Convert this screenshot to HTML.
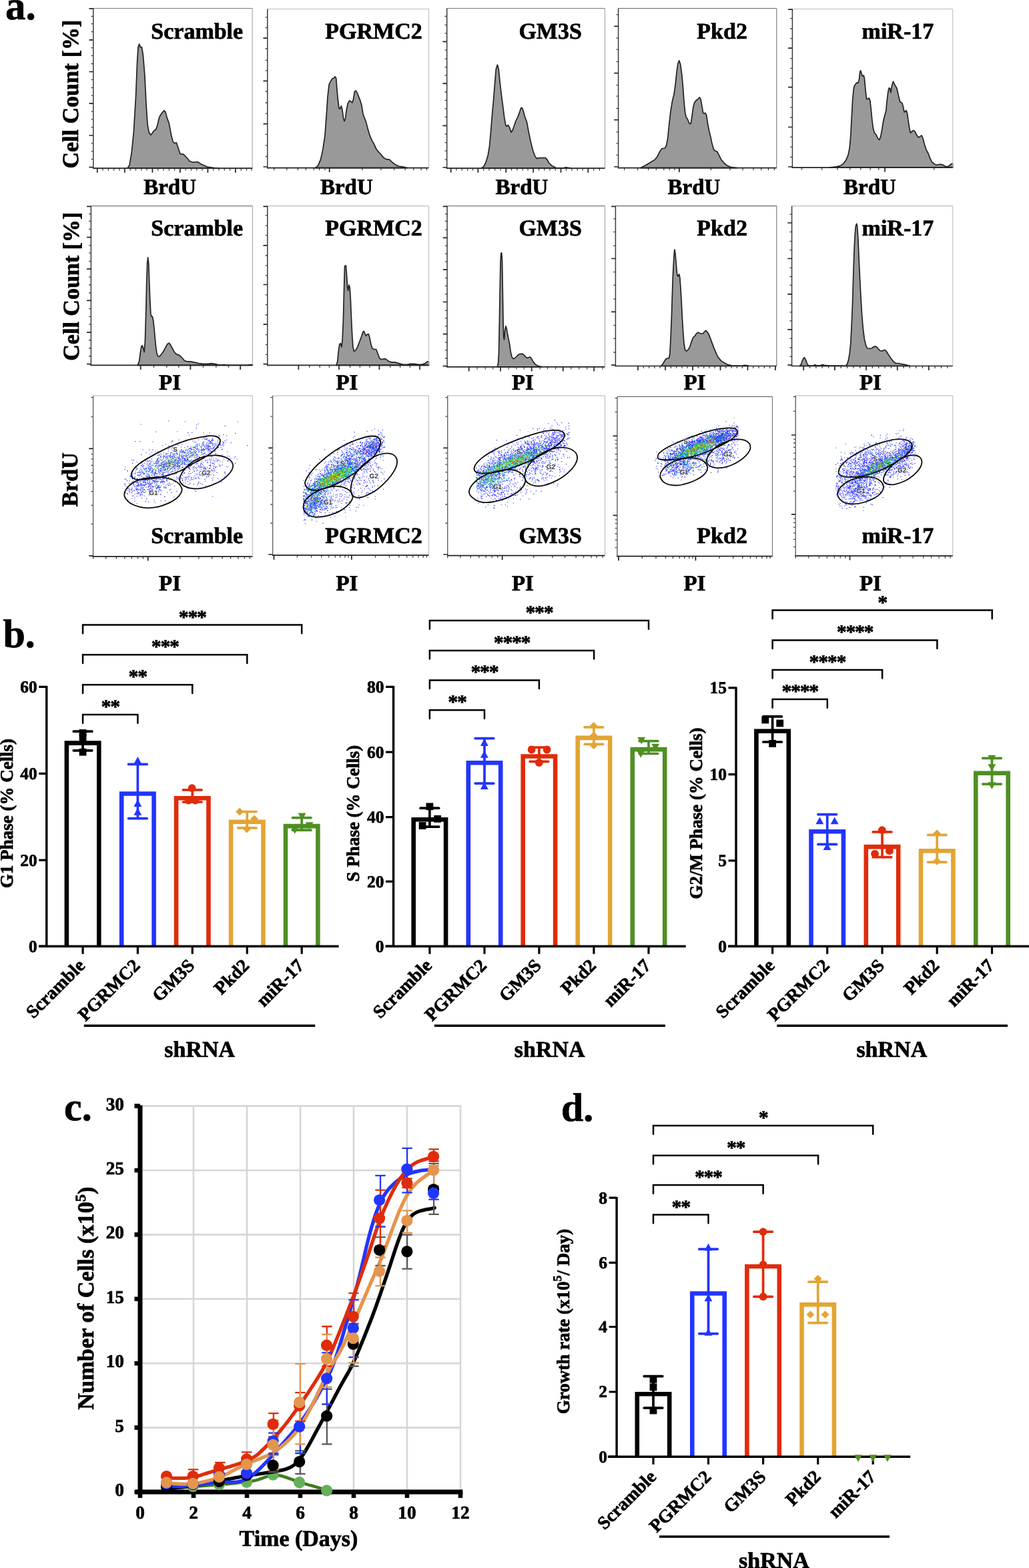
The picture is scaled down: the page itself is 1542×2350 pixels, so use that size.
<!DOCTYPE html>
<html lang="en"><head><meta charset="utf-8"><title>Figure</title>
<style>html,body{margin:0;padding:0;background:#fff}svg{display:block}</style>
</head><body>
<svg width="1542" height="2350" viewBox="0 0 1542 2350">
<rect width="1542" height="2350" fill="#fff"/>
<g font-family="'Liberation Serif','Times New Roman',serif" font-weight="bold" stroke="#000" stroke-width="0" text-rendering="geometricPrecision">
<path d="M191 252.2L194.1 247.2L197.3 228.3L200.4 197.1L203.5 145.3L205.6 93.4L207 70.6L208.7 66L210.3 70.6L212.4 70.6L214.5 83L217 114.1L219 155.6L221.1 186.8L223.2 198.2L225.9 202.3L228.4 199.2L230.5 196.1L233.6 194L235.6 188.8L238.8 175.4L241.9 170.2L246 165.6L248.1 168.1L250.2 176.4L253.3 184.7L256.4 201.3L258.9 211.7L261.6 214.8L264.3 213.7L266.8 221L269.9 230.4L275.1 231.4L279.2 235.5L284.4 241.8L289.6 243.3L295.8 242.5L302 246.2L310.4 250L320.7 251.6L328 252.2L328 252.2L191 252.2Z" fill="#999" stroke="#222" stroke-width="1.7" stroke-linejoin="round"/>
<path d="M139.8 12.5H378.2" fill="none" stroke="#7a7a7a" stroke-width="1.2"/>
<path d="M378.2 12.5V252.2" fill="none" stroke="#aaaaaa" stroke-width="1.2"/>
<path d="M139.8 24.5h-3.2M139.8 35.7h-3.2M139.8 47.7h-3.2M139.8 71.6h-3.2M139.8 83.4h-3.2M139.8 95.5h-3.2M139.8 119.3h-3.2M139.8 131.4h-3.2M139.8 143.2h-3.2M139.8 167.1h-3.2M139.8 178.9h-3.2M139.8 190.9h-3.2M139.8 214.8h-3.2M139.8 226.8h-3.2M139.8 238.7h-3.2M154.1 252.2v3.6M162.4 252.2v3.6M170.7 252.2v3.6M179 252.2v3.6M195.2 252.2v3.6M203.5 252.2v3.6M211.8 252.2v3.6M220.1 252.2v3.6M236.7 252.2v3.6M245 252.2v3.6M253.3 252.2v3.6M261.6 252.2v3.6M278.2 252.2v3.6M286.5 252.2v3.6M294.8 252.2v3.6M303.1 252.2v3.6M319.7 252.2v3.6M328 252.2v3.6M336.3 252.2v3.6M344.6 252.2v3.6M361.2 252.2v3.6M369.5 252.2v3.6M376.8 252.2v3.6" fill="none" stroke="#444" stroke-width="1.3"/>
<path d="M139.8 12.5V253" fill="none" stroke="#3a3a3a" stroke-width="1.5"/>
<path d="M139.1 252.2H378.2M139.8 12.9h-6.3M139.8 59.8h-6.3M139.8 107.5h-6.3M139.8 155.2h-6.3M139.8 203h-6.3M139.8 250.6h-6.3M145.8 252.2v6.5M186.9 252.2v6.5M228.4 252.2v6.5M269.9 252.2v6.5M311.4 252.2v6.5M352.9 252.2v6.5" fill="none" stroke="#222" stroke-width="1.7"/>
<text x="226.3" y="57.6" font-size="34" text-anchor="start" fill="#000" stroke-width="0.7" stroke-linejoin="round">Scramble</text>
<text x="215.2" y="290.8" font-size="33" text-anchor="start" fill="#000" stroke-width="0.7" stroke-linejoin="round">BrdU</text>
<path d="M472.3 251.6L476.5 248.3L480.6 238.7L483.8 224.1L486.9 203.4L488.9 176.4L491 145.3L493.1 126.6L495.2 122.4L497.9 117.9L499.9 117.3L502 114.8L503.7 117.3L504.9 132.8L506.6 151.5L508.2 162.9L509.7 162.9L511.4 158.8L512.8 163.9L514.5 176.4L515.9 181.6L517.4 178.5L519 166L521.1 155.6L523.2 151.1L525.3 151.5L527.8 154L529.4 149.4L531.5 137L533.2 135.9L535.2 139L537.3 144.2L539.8 150.5L541.9 157.7L543.9 170.2L546 176.4L548.5 182.6L551.2 193L554.3 203.4L557.4 210.6L560.5 215.8L563.7 223.1L566.8 227.2L569.9 230.4L575.1 236.6L579.2 238.7L583.4 239.1L587.5 242.9L591.7 246.2L596.9 249L604.1 250.1L610.4 251.6L610.4 251.6L472.3 251.6Z" fill="#999" stroke="#222" stroke-width="1.7" stroke-linejoin="round"/>
<path d="M400.8 13.5H642.5" fill="none" stroke="#bdbdbd" stroke-width="1.2"/>
<path d="M642.5 13.5V251.6" fill="none" stroke="#c4c4c4" stroke-width="1.2"/>
<path d="M400.8 25.9h-3.2M400.8 41.5h-3.2M400.8 73h-3.2M400.8 90.3h-3.2M400.8 105.8h-3.2M400.8 137h-3.2M400.8 154h-3.2M400.8 170.2h-3.2M400.8 201.3h-3.2M400.8 217.9h-3.2M400.8 234.5h-3.2M410.7 251.6v3.6M429.8 251.6v3.6M446.4 251.6v3.6M458.4 251.6v3.6M470.3 251.6v3.6M478.6 251.6v3.6M486.9 251.6v3.6M542.9 251.6v3.6M570.9 251.6v3.6M590.6 251.6v3.6M607.2 251.6v3.6M619.7 251.6v3.6M631.1 251.6v3.6M639.4 251.6v3.6" fill="none" stroke="#444" stroke-width="1.3"/>
<path d="M400.8 13.5V252.4" fill="none" stroke="#3a3a3a" stroke-width="1.5"/>
<path d="M400.1 251.6H642.5M400.8 57.1h-6.3M400.8 121.4h-6.3M400.8 185.7h-6.3M400.8 250h-6.3M493.7 251.6v6.5" fill="none" stroke="#222" stroke-width="1.7"/>
<text x="487.3" y="57.6" font-size="34" text-anchor="start" fill="#000" stroke-width="0.7" stroke-linejoin="round">PGRMC2</text>
<text x="479.9" y="290.8" font-size="33" text-anchor="start" fill="#000" stroke-width="0.7" stroke-linejoin="round">BrdU</text>
<path d="M721.3 252.2L725.1 249.4L728.2 242.9L731.3 232.4L733.4 220L735.5 197.1L737.5 172.2L739.6 149.4L741.7 122.4L743.3 103.8L745.4 97.1L747.1 102.7L748.9 120.4L751 139L753.7 159.8L755.8 176.4L757.9 187.8L759.3 189.3L761.4 187.4L763.5 190.9L766 198.2L768.2 195.1L770.7 187.8L772.8 181.6L775.9 175.4L778.6 168.1L780.7 161.9L782.4 161.5L783.8 165L786.3 174.3L789.4 182.6L792.5 199.2L795.6 213.7L798.8 226.2L801.9 234.5L804.6 237.6L808.1 236.6L817.4 236.6L819.5 238.7L822.6 244L826.8 248.3L833 251.6L843.4 252.2L847.5 250.9L855.8 252.2L855.8 252.2L721.3 252.2Z" fill="#999" stroke="#222" stroke-width="1.7" stroke-linejoin="round"/>
<path d="M669.7 12.5H906.5" fill="none" stroke="#7a7a7a" stroke-width="1.2"/>
<path d="M906.5 12.5V252.2" fill="none" stroke="#aaaaaa" stroke-width="1.2"/>
<path d="M669.7 24.5h-3.2M669.7 37.4h-3.2M669.7 49.8h-3.2M669.7 75.1h-3.2M669.7 88.2h-3.2M669.7 100.6h-3.2M669.7 113.1h-3.2M669.7 138h-3.2M669.7 150.5h-3.2M669.7 162.9h-3.2M669.7 175.4h-3.2M669.7 200.9h-3.2M669.7 213.7h-3.2M669.7 226.2h-3.2M669.7 239.1h-3.2M684 252.2v3.6M692.3 252.2v3.6M700.6 252.2v3.6M708.5 252.2v3.6M724.7 252.2v3.6M733 252.2v3.6M741.7 252.2v3.6M750 252.2v3.6M766.6 252.2v3.6M774.9 252.2v3.6M783.2 252.2v3.6M791.1 252.2v3.6M807.5 252.2v3.6M815.8 252.2v3.6M824.1 252.2v3.6M832.2 252.2v3.6M848.6 252.2v3.6M856.9 252.2v3.6M865.2 252.2v3.6M873.3 252.2v3.6M889.6 252.2v3.6M898.4 252.2v3.6" fill="none" stroke="#444" stroke-width="1.3"/>
<path d="M669.7 12.5V253" fill="none" stroke="#3a3a3a" stroke-width="1.5"/>
<path d="M669 252.2H906.5M669.7 62.3h-6.3M669.7 125.1h-6.3M669.7 188.4h-6.3M669.7 251h-6.3M675.7 252.2v6.5M716.4 252.2v6.5M758.3 252.2v6.5M799.2 252.2v6.5M840.5 252.2v6.5M881.3 252.2v6.5" fill="none" stroke="#222" stroke-width="1.7"/>
<text x="777.4" y="57.6" font-size="34" text-anchor="start" fill="#000" stroke-width="0.7" stroke-linejoin="round">GM3S</text>
<text x="742.6" y="290.8" font-size="33" text-anchor="start" fill="#000" stroke-width="0.7" stroke-linejoin="round">BrdU</text>
<path d="M960.2 251.6L966.4 248.3L973.7 244L981.6 239.1L985.1 234.5L989.2 226.2L992.3 222.5L996.5 222L998.6 217.9L1000.6 207.5L1002.7 186.8L1004.8 168.1L1007.5 151.5L1010 141.1L1012.1 126.6L1014.1 107.9L1015.8 95.5L1017.7 90.9L1019.7 96.5L1021.8 112.1L1023.5 130.7L1025.1 153.6L1026.6 168.1L1028.2 175.4L1030.3 178.5L1032.4 183.7L1033.9 185.7L1035.3 184.7L1037 174.3L1038.6 161.9L1040.7 153.6L1043.2 150.5L1045.3 149L1048.4 145.9L1050 148.4L1052.1 159.8L1053.6 169.1L1055.2 170.2L1056.9 169.1L1058.8 173.3L1060.8 186.8L1062.9 197.1L1065 205.4L1067.1 215.8L1069.8 224.5L1072.2 226.2L1074.7 227.2L1077.4 232.4L1080.5 238.7L1084.7 244L1089.9 248.3L1095.1 250.5L1104.4 251.6L1104.4 251.6L960.2 251.6Z" fill="#999" stroke="#222" stroke-width="1.7" stroke-linejoin="round"/>
<path d="M926.6 12.5H1163.8" fill="none" stroke="#666666" stroke-width="1.2"/>
<path d="M1163.8 12.5V251.6" fill="none" stroke="#808080" stroke-width="1.2"/>
<path d="M926.6 21.8h-3.2M926.6 57.1h-3.2M926.6 74.1h-3.2M926.6 92.3h-3.2M926.6 127.6h-3.2M926.6 144.2h-3.2M926.6 162.5h-3.2M926.6 197.8h-3.2M926.6 214.8h-3.2M926.6 232.4h-3.2M935.7 251.6v3.6M955.6 251.6v3.6M971.6 251.6v3.6M983.4 251.6v3.6M994.8 251.6v3.6M1003.3 251.6v3.6M1011 251.6v3.6M1065.4 251.6v3.6M1094 251.6v3.6M1113.1 251.6v3.6M1128.9 251.6v3.6M1140.7 251.6v3.6M1151.5 251.6v3.6M1160.4 251.6v3.6" fill="none" stroke="#444" stroke-width="1.3"/>
<path d="M926.6 12.5V252.4" fill="none" stroke="#3a3a3a" stroke-width="1.5"/>
<path d="M925.9 251.6H1163.8M926.6 39.4h-6.3M926.6 109.6h-6.3M926.6 179.7h-6.3M926.6 250h-6.3M1017.9 251.6v6.5" fill="none" stroke="#222" stroke-width="1.7"/>
<text x="1044.3" y="57.6" font-size="34" text-anchor="start" fill="#000" stroke-width="0.7" stroke-linejoin="round">Pkd2</text>
<text x="1000.5" y="290.8" font-size="33" text-anchor="start" fill="#000" stroke-width="0.7" stroke-linejoin="round">BrdU</text>
<path d="M1243 251.2L1253.4 249.9L1259.6 248.4L1263.8 245.1L1267.9 239.7L1271 232.4L1273.1 222L1274.8 203.4L1276.2 176.4L1277.7 149.4L1279.3 132.8L1280.4 128.7L1282.4 125.6L1284.1 123.9L1286.2 124.1L1287.6 118.3L1288.7 107.9L1289.7 105.8L1290.7 108.9L1292.2 114.1L1294.3 113.1L1295.5 118.3L1297 134.9L1298.6 148.4L1300.7 148.4L1302.2 146.9L1303.8 150.5L1305.3 163.9L1306.9 180.5L1308.6 193L1310.5 199.2L1313.2 202.3L1315.6 207.5L1317.7 209.6L1319.8 204.4L1321.9 193L1323.9 180.5L1326 172.2L1327.7 166L1329.1 151.5L1330.6 139L1332.2 131.8L1333.7 132.8L1334.9 138.6L1336.4 128.7L1338.5 122L1340.1 125.6L1341.8 128.7L1343.7 131.8L1345.3 138L1346.8 145.3L1348.8 152.5L1352 154.6L1353.4 159.8L1355.1 168.1L1358.2 165.6L1359.6 170.2L1361.3 182.6L1363 193L1364.4 199.2L1367.5 196.1L1369.6 195.5L1371.7 198.2L1373.7 202.3L1376.2 205.9L1378.9 204.4L1381 203L1383.1 207.5L1385.2 215.8L1388.3 225.2L1390.8 229.3L1393.5 236.6L1396.6 243L1400.7 246.2L1403.8 247.3L1408 246.2L1412.1 246.8L1416.3 249L1419.4 249.9L1422.5 248.4L1425.2 245.8L1427.7 245.1L1427.7 251.2L1427.7 251.2L1243 251.2Z" fill="#999" stroke="#222" stroke-width="1.7" stroke-linejoin="round"/>
<path d="M1187.4 13.5H1427.7" fill="none" stroke="#bdbdbd" stroke-width="1.2"/>
<path d="M1427.7 13.5V251.2" fill="none" stroke="#c4c4c4" stroke-width="1.2"/>
<path d="M1187.4 27.6h-3.2M1187.4 43h-3.2M1187.4 57.7h-3.2M1187.4 87.6h-3.2M1187.4 102.3h-3.2M1187.4 117.3h-3.2M1187.4 145.9h-3.2M1187.4 160.8h-3.2M1187.4 176h-3.2M1187.4 205.4h-3.2M1187.4 220.4h-3.2M1187.4 235.5h-3.2M1201.5 251.2v3.6M1231.6 251.2v3.6M1255 251.2v3.6M1273.7 251.2v3.6M1289.7 251.2v3.6M1304.2 251.2v3.6M1316.7 251.2v3.6M1399.7 251.2v3.6" fill="none" stroke="#444" stroke-width="1.3"/>
<path d="M1187.4 13.5V252" fill="none" stroke="#3a3a3a" stroke-width="1.5"/>
<path d="M1186.7 251.2H1427.7M1187.4 14.1h-6.3M1187.4 72.2h-6.3M1187.4 130.7h-6.3M1187.4 190.5h-6.3M1187.4 250h-6.3M1326 251.2v6.5" fill="none" stroke="#222" stroke-width="1.7"/>
<text x="1291.6" y="57.6" font-size="34" text-anchor="start" fill="#000" stroke-width="0.7" stroke-linejoin="round">miR-17</text>
<text x="1264.1" y="290.8" font-size="33" text-anchor="start" fill="#000" stroke-width="0.7" stroke-linejoin="round">BrdU</text>
<path d="M206.2 547.4L208.7 541.3L210.3 528.7L211.8 519.3L213.2 517.9L214.9 522.4L216.1 527.6L217.4 512L218.6 472.6L219.7 424.9L220.7 393.8L221.7 385.9L222.8 395.8L223.8 424.9L224.9 451.9L225.9 470.5L226.9 474.3L228.4 474.3L229.8 480.9L231.5 497.5L233.2 516.2L234.8 528.7L236.7 533.8L238.8 534.5L241.9 530.7L245 526.6L248.1 520.4L250.8 515.8L253.3 514.1L255.4 516.6L258.5 522.4L261.6 528.2L264.7 531.1L268.8 532.4L272 535.3L276.1 540.3L280.3 541.8L285.4 541.8L291.7 543.1L297.9 544.6L304.1 545.4L312.4 545.4L316.6 544.6L322.8 545.7L329 547L336.3 546.5L341.5 547.4L370.5 547.4L374.7 546.7L378.4 546.7L378.4 547.4L378.4 547.4L206.2 547.4Z" fill="#999" stroke="#222" stroke-width="1.7" stroke-linejoin="round"/>
<path d="M136.4 308.7H378.4" fill="none" stroke="#7a7a7a" stroke-width="1.2"/>
<path d="M378.4 308.7V547.4" fill="none" stroke="#aaaaaa" stroke-width="1.2"/>
<path d="M136.4 320.7h-3.2M136.4 331.5h-3.2M136.4 343.5h-3.2M136.4 367.8h-3.2M136.4 379.2h-3.2M136.4 391.7h-3.2M136.4 415.1h-3.2M136.4 427h-3.2M136.4 439h-3.2M136.4 462.7h-3.2M136.4 474.3h-3.2M136.4 486.1h-3.2M136.4 510h-3.2M136.4 522h-3.2M136.4 534h-3.2M230.5 547.4v3.6M249.8 547.4v3.6M267.8 547.4v3.6M304.5 547.4v3.6M323.8 547.4v3.6M342.5 547.4v3.6" fill="none" stroke="#444" stroke-width="1.3"/>
<path d="M136.4 308.7V548.2" fill="none" stroke="#3a3a3a" stroke-width="1.5"/>
<path d="M135.7 547.4H378.4M136.4 309.3h-6.3M136.4 355.6h-6.3M136.4 403.1h-6.3M136.4 450.4h-6.3M136.4 498.1h-6.3M136.4 545.6h-6.3M210.7 547.4v6.5M285.4 547.4v6.5M360.2 547.4v6.5" fill="none" stroke="#222" stroke-width="1.7"/>
<text x="226.3" y="352.6" font-size="34" text-anchor="start" fill="#000" stroke-width="0.7" stroke-linejoin="round">Scramble</text>
<text x="238" y="584.3" font-size="33" text-anchor="start" fill="#000" stroke-width="0.7" stroke-linejoin="round">PI</text>
<path d="M504.1 547.4L505.8 541.3L507.2 526.6L508.7 516.2L510.3 514.7L512 519.9L513.2 507.9L514.5 476.8L515.5 435.3L516.5 398.9L518.4 397.9L519.5 412.4L520.7 431.1L521.7 435.3L522.8 427L524.2 431.1L525.3 447.7L526.5 476.8L527.8 503.7L529 520.4L530.5 526.2L532.5 525.5L535.6 520.4L538.8 512L541.5 504.8L543.9 497.5L545.4 496.5L547.1 500.6L548.5 503.3L550.2 501.3L552.2 500.6L553.9 505.8L556 516.2L558.1 522.4L560.5 523.5L563.7 523.5L565.7 528.7L568.8 537L572 538.7L575.1 537.7L578.2 538.1L582.3 541.3L586.5 542.9L591.7 542.9L597.9 544.6L604.1 546.3L610.4 546.3L614.5 545.4L620.7 545.4L627 546.3L632.1 546.3L637.3 544.6L640.4 541.8L642.5 541.8L642.5 547.4L642.5 547.4L504.1 547.4Z" fill="#999" stroke="#222" stroke-width="1.7" stroke-linejoin="round"/>
<path d="M400.8 308.7H642.5" fill="none" stroke="#bdbdbd" stroke-width="1.2"/>
<path d="M642.5 308.7V547.4" fill="none" stroke="#c4c4c4" stroke-width="1.2"/>
<path d="M400.8 322.8h-3.2M400.8 338.1h-3.2M400.8 352.7h-3.2M400.8 383h-3.2M400.8 397.9h-3.2M400.8 412.9h-3.2M400.8 441.9h-3.2M400.8 456.6h-3.2M400.8 472h-3.2M400.8 501.7h-3.2M400.8 516.6h-3.2M400.8 531.3h-3.2M463.6 547.4v3.6M479.2 547.4v3.6M493.5 547.4v3.6M524.6 547.4v3.6M539.4 547.4v3.6M553.9 547.4v3.6M584.8 547.4v3.6M599.6 547.4v3.6M614.5 547.4v3.6" fill="none" stroke="#444" stroke-width="1.3"/>
<path d="M400.8 308.7V548.2" fill="none" stroke="#3a3a3a" stroke-width="1.5"/>
<path d="M400.1 547.4H642.5M400.8 309.3h-6.3M400.8 367.8h-6.3M400.8 426.5h-6.3M400.8 486.1h-6.3M400.8 545.6h-6.3M447.4 547.4v6.5M508 547.4v6.5M568.4 547.4v6.5M629 547.4v6.5" fill="none" stroke="#222" stroke-width="1.7"/>
<text x="487.3" y="352.6" font-size="34" text-anchor="start" fill="#000" stroke-width="0.7" stroke-linejoin="round">PGRMC2</text>
<text x="503.4" y="584.3" font-size="33" text-anchor="start" fill="#000" stroke-width="0.7" stroke-linejoin="round">PI</text>
<path d="M745.4 549.9L746.7 543.4L747.5 528.7L748.3 487.1L749.2 435.3L750 393.8L750.8 379.6L751.6 378.8L752.5 389.6L753.3 435.3L754.1 487.1L754.8 505.8L755.6 508.9L756.6 495.4L757.9 488.8L759.1 492.3L760.4 499.6L762 507.9L763.7 516.2L765.1 526.6L767 534.9L769.1 537.6L771.2 537L773.9 534.5L777 531.3L780.1 530.3L783.2 530.3L785.3 532.4L787.8 534.9L789.4 536.3L791.9 535.9L794 534.9L796.1 537L798.8 541.7L801.9 545.6L806 548.4L812.2 549.9L812.2 549.9L745.4 549.9Z" fill="#999" stroke="#222" stroke-width="1.7" stroke-linejoin="round"/>
<path d="M670.1 308.7H906.5" fill="none" stroke="#7a7a7a" stroke-width="1.2"/>
<path d="M906.5 308.7V549.9" fill="none" stroke="#aaaaaa" stroke-width="1.2"/>
<path d="M670.1 320.7h-3.2M670.1 331.5h-3.2M670.1 344.4h-3.2M670.1 368.4h-3.2M670.1 380.3h-3.2M670.1 392.1h-3.2M670.1 416.6h-3.2M670.1 428.4h-3.2M670.1 440.9h-3.2M670.1 465.4h-3.2M670.1 476.8h-3.2M670.1 488.8h-3.2M670.1 513.1h-3.2M670.1 524.9h-3.2M670.1 537h-3.2M715.1 549.9v3.6M727.2 549.9v3.6M738.6 549.9v3.6M762.4 549.9v3.6M773.9 549.9v3.6M785.3 549.9v3.6M809.1 549.9v3.6M820.5 549.9v3.6M832.6 549.9v3.6M855.8 549.9v3.6M867.7 549.9v3.6M879.7 549.9v3.6M903.1 549.9v3.6" fill="none" stroke="#444" stroke-width="1.3"/>
<path d="M670.1 308.7V550.7" fill="none" stroke="#3a3a3a" stroke-width="1.5"/>
<path d="M669.4 549.9H906.5M670.1 309.3h-6.3M670.1 356.4h-6.3M670.1 404.1h-6.3M670.1 452.5h-6.3M670.1 500.6h-6.3M670.1 548.7h-6.3M702.7 549.9v6.5M750 549.9v6.5M796.7 549.9v6.5M843.8 549.9v6.5M890.1 549.9v6.5" fill="none" stroke="#222" stroke-width="1.7"/>
<text x="777.4" y="352.6" font-size="34" text-anchor="start" fill="#000" stroke-width="0.7" stroke-linejoin="round">GM3S</text>
<text x="766.9" y="584.3" font-size="33" text-anchor="start" fill="#000" stroke-width="0.7" stroke-linejoin="round">PI</text>
<path d="M990.9 548.4L994.4 543.5L997.5 538.5L1000 537L1002.3 537L1003.8 530.7L1005 507.9L1006.3 476.8L1007.3 445.6L1008.3 414.5L1009.4 393.8L1010.4 378.2L1011 374L1012.1 381.3L1013.3 395.8L1014.6 410.4L1015.8 414.1L1017.7 411L1018.9 416.6L1019.9 431.1L1021.2 451.9L1022.4 476.8L1023.7 497.5L1024.9 514.1L1026.6 524.5L1028.7 526.2L1031.2 524.1L1033.9 519.3L1035.9 513.1L1038.6 505.8L1041.1 503.7L1043.6 500L1046.3 498.1L1048.4 499.2L1050.5 500L1053.6 500L1055.6 497.1L1057.7 495.4L1059.4 497.1L1061.9 500.6L1064.4 506.9L1067.1 514.1L1070.2 522.4L1073.3 529.7L1076.4 535.9L1080.5 540.6L1085.7 543.9L1090.9 546.7L1096.1 547.8L1111.7 548.4L1115.8 547.3L1120 547.8L1122 548.4L1122 548.5L990.9 548.5Z" fill="#999" stroke="#222" stroke-width="1.7" stroke-linejoin="round"/>
<path d="M922.4 308.7H1163.8" fill="none" stroke="#666666" stroke-width="1.2"/>
<path d="M1163.8 308.7V548.5" fill="none" stroke="#808080" stroke-width="1.2"/>
<path d="M922.4 327.8h-3.2M922.4 347.7h-3.2M922.4 368.4h-3.2M922.4 407.7h-3.2M922.4 427.4h-3.2M922.4 448.1h-3.2M922.4 487.6h-3.2M922.4 507.3h-3.2M922.4 528h-3.2M964.3 548.5v3.6M972.6 548.5v3.6M980.9 548.5v3.6M989.2 548.5v3.6M1005.4 548.5v3.6M1013.7 548.5v3.6M1022 548.5v3.6M1029.9 548.5v3.6M1046.3 548.5v3.6M1054.6 548.5v3.6M1062.9 548.5v3.6M1071.2 548.5v3.6M1087.8 548.5v3.6M1096.1 548.5v3.6M1104.4 548.5v3.6M1112.3 548.5v3.6M1128.7 548.5v3.6M1137 548.5v3.6M1145.3 548.5v3.6M1153.6 548.5v3.6" fill="none" stroke="#444" stroke-width="1.3"/>
<path d="M922.4 308.7V549.3" fill="none" stroke="#3a3a3a" stroke-width="1.5"/>
<path d="M921.7 548.5H1163.8M922.4 309.3h-6.3M922.4 387.5h-6.3M922.4 467.4h-6.3M922.4 547.2h-6.3M956 548.5v6.5M997.1 548.5v6.5M1038 548.5v6.5M1079.5 548.5v6.5M1120.4 548.5v6.5M1161.9 548.5v6.5" fill="none" stroke="#222" stroke-width="1.7"/>
<text x="1044.3" y="352.6" font-size="34" text-anchor="start" fill="#000" stroke-width="0.7" stroke-linejoin="round">Pkd2</text>
<text x="1024.4" y="584.3" font-size="33" text-anchor="start" fill="#000" stroke-width="0.7" stroke-linejoin="round">PI</text>
<path d="M1198.4 548.4L1200.5 546.1L1202.5 540.2L1204.2 536.5L1205.7 535.9L1207.3 539.1L1209 543.9L1210.8 547.3L1214 548L1219.1 547.8L1221.2 546.7L1223.3 547.8L1229.5 547.8L1232.6 546.5L1235.1 547.3L1243 548L1261.7 548L1264.8 548.4L1267.5 548L1269.6 545.6L1271.6 539.1L1273.3 528.7L1274.8 514.1L1276.2 487.1L1277.5 456L1278.7 414.5L1279.9 377.2L1281.2 352.3L1282.4 338.8L1283.7 335.2L1284.7 339.8L1285.8 356.4L1287 383.4L1288.2 410.4L1289.7 439.4L1291.4 468.5L1293.2 491.3L1295.3 507.9L1297.4 517.2L1299.5 522L1303.2 522.4L1306.3 522L1309 519.9L1311.5 519.1L1313.6 519.7L1316.1 522.8L1318.8 525.5L1321.9 526.2L1323.9 524.9L1326 524.5L1328.1 526.2L1330.6 530.3L1334.3 535.9L1338.5 541.3L1342.2 544.5L1346.8 544.5L1350.9 545.6L1357.1 546.7L1363.4 548.4L1363.4 548.5L1198.4 548.5Z" fill="#999" stroke="#222" stroke-width="1.7" stroke-linejoin="round"/>
<path d="M1186.6 308.7H1427.7" fill="none" stroke="#bdbdbd" stroke-width="1.2"/>
<path d="M1427.7 308.7V548.5" fill="none" stroke="#c4c4c4" stroke-width="1.2"/>
<path d="M1186.6 321.1h-3.2M1186.6 347.7h-3.2M1186.6 361.6h-3.2M1186.6 374.7h-3.2M1186.6 401.4h-3.2M1186.6 414.5h-3.2M1186.6 427.4h-3.2M1186.6 454.6h-3.2M1186.6 467.8h-3.2M1186.6 480.9h-3.2M1186.6 507.3h-3.2M1186.6 521h-3.2M1186.6 534.3h-3.2M1213.5 548.5v3.6M1222.9 548.5v3.6M1232.2 548.5v3.6M1241.6 548.5v3.6M1260.2 548.5v3.6M1269.6 548.5v3.6M1278.9 548.5v3.6M1288.7 548.5v3.6M1307.3 548.5v3.6M1316.7 548.5v3.6M1326 548.5v3.6M1335.4 548.5v3.6M1354 548.5v3.6M1363.4 548.5v3.6M1372.7 548.5v3.6M1382.5 548.5v3.6M1401.1 548.5v3.6M1410.5 548.5v3.6M1419.8 548.5v3.6" fill="none" stroke="#444" stroke-width="1.3"/>
<path d="M1186.6 308.7V549.3" fill="none" stroke="#3a3a3a" stroke-width="1.5"/>
<path d="M1185.9 548.5H1427.7M1186.6 334h-6.3M1186.6 387.5h-6.3M1186.6 440.9h-6.3M1186.6 493.8h-6.3M1186.6 547.2h-6.3M1204.2 548.5v6.5M1250.9 548.5v6.5M1298 548.5v6.5M1344.7 548.5v6.5M1391.8 548.5v6.5" fill="none" stroke="#222" stroke-width="1.7"/>
<text x="1291.6" y="352.6" font-size="34" text-anchor="start" fill="#000" stroke-width="0.7" stroke-linejoin="round">miR-17</text>
<text x="1287.9" y="584.3" font-size="33" text-anchor="start" fill="#000" stroke-width="0.7" stroke-linejoin="round">PI</text>
<text x="117" y="252.6" font-size="34" text-anchor="start" fill="#000" stroke-width="0.7" stroke-linejoin="round" transform="rotate(-90 117 252.6)">Cell Count [%]</text>
<text x="117.7" y="540.7" font-size="34" text-anchor="start" fill="#000" stroke-width="0.7" stroke-linejoin="round" transform="rotate(-90 117.7 540.7)">Cell Count [%]</text>
<path transform="scale(.4)" d="M630 1577h3m59 3h3m194 0h3m-150 8h3m-219 2h3m206 2h3m104 4h3m-111 8h3m-74 13h3m-82 1h3m116 3h3m12 0h3m40 1h3m20 0h3m93 2h3m-48 5h3m-130 1h3m63 0h3m23 0h3m-22 2h3m34 0h3m26 0h3m-44 1h3m13 1h3m-60 6h3m2 0h3m-11 1h3m50 0h3m-42 3h3m16 0h3m20 1h3m-56 1h3m2 0h3m0 0h3m18 0h3m-24 1h3m-107 1h3m22 0h3m46 0h3m102 0h3m-68 1h3m5 0h3m3 0h3m15 1h3m-37 1h3m8 0h3m46 0h3m-198 1h3m48 0h3m22 0h3m52 0h3m15 0h3m-112 1h3m-184 1h3m15 0h3m118 0h3m137 0h3m1 0h3m-220 1h3m66 0h3m144 0h3m41 0h3m-102 1h3m27 0h3m20 0h3m48 0h3m-112 1h3m60 0h3m21 0h3m27 0h3m-88 1h3m27 0h3m43 1h3m26 0h3m-95 1h3m-1 0h3m18 0h3m-40 1h3m18 0h3m6 0h3m0 0h3m13 0h3m-27 1h3m38 0h3m-168 1h3m83 0h3m12 0h3m22 0h3m13 0h3m10 0h3m6 0h3m8 0h3m1 0h3m-104 1h3m55 0h3m26 0h3m-208 1h3m58 0h3m77 0h3m8 1h3m33 0h3m-74 1h3m16 0h3m3 0h3m14 0h3m17 0h3m16 0h3m3 0h3m7 0h3m-171 1h3m94 0h3m9 0h3m3 0h3m-38 1h3m46 0h3m19 0h3m7 0h3m96 0h3m-321 1h3m128 0h3m16 0h3m8 0h3m33 0h3m2 0h3m-1 0h3m-183 1h3m98 0h3m39 0h3m-2 0h3m4 0h3m51 0h3m-72 1h3m5 0h3m2 0h3m-82 1h3m10 0h3m20 0h3m11 0h3m-2 0h3m26 0h3m0 0h3m-85 1h3m26 0h3m31 0h3m18 0h3m-2 0h3m12 0h3m-128 1h3m72 0h3m18 0h3m4 0h3m-138 1h3m77 0h3m-1 0h3m23 0h3m22 0h3m34 0h3m-1 0h3m-161 1h3m28 0h3m32 0h3m-1 0h3m48 0h3m17 0h3m-2 0h3m25 0h3m-106 1h3m3 0h3m5 0h3m30 0h3m3 0h3m20 0h3m7 0h3m-101 1h3m-1 0h3m52 0h3m5 0h3m18 0h3m-160 1h3m65 0h3m3 0h3m15 0h3m51 0h3m2 0h3m16 0h3m-76 1h3m19 0h3m14 0h3m2 0h3m12 0h3m-170 1h3m72 0h3m2 0h3m40 0h3m16 0h3m-2 0h3m11 0h3m-47 1h3m36 0h3m8 0h3m7 0h3m26 0h3m-157 1h3m15 0h3m16 0h3m0 0h3m5 0h3m7 0h3m5 0h3m7 0h3m2 0h3m0 0h3m1 0h3m11 0h3m47 0h3m-299 1h3m186 0h3m12 0h3m36 0h3m-222 1h3m9 0h3m81 0h3m46 0h3m49 0h3m6 0h3m-123 1h3m32 0h3m19 0h3m46 0h3m5 0h3m4 0h3m13 0h3m2 0h3m-137 1h3m31 0h3m4 0h3m-1 0h3m11 1h3m18 0h3m9 0h3m-2 0h3m8 0h3m47 0h3m-218 1h3m38 0h3m42 0h3m83 0h3m13 0h3m2 0h3m-2 0h3m2 0h3m-118 1h3m4 0h3m1 0h3m24 0h3m76 0h3m-136 1h3m27 0h3m23 0h3m9 0h3m-1 0h3m5 0h3m8 0h3m54 0h3m-224 1h3m95 0h3m27 0h3m6 0h3m32 0h3m39 0h3m51 0h3m-262 1h3m80 0h3m14 0h3m8 0h3m85 0h3m-247 1h3m18 0h3m42 0h3m45 0h3m16 0h3m22 0h3m36 0h3m36 0h3m-142 1h3m37 0h3m-2 0h3m1 0h3m0 0h3m23 0h3m2 0h3m5 0h3m-1 0h3m17 0h3m11 0h3m-132 1h3m24 0h3m65 0h3m-96 1h3m30 0h3m18 0h3m19 0h3m-90 1h3m21 0h3m3 0h3m40 0h3m8 0h3m49 0h3m40 0h3m-188 1h3m35 0h3m59 0h3m-124 1h3m16 0h3m1 0h3m21 0h3m83 0h3m23 0h3m25 0h3m-231 1h3m83 0h3m13 0h3m40 0h3m17 0h3m27 0h3m1 0h3m-167 1h3m39 0h3m23 0h3m4 0h3m7 0h3m12 0h3m23 0h3m12 0h3m16 0h3m11 0h3m33 0h3m23 0h3m-306 1h3m123 0h3m14 0h3m22 0h3m6 0h3m31 0h3m-104 1h3m30 0h3m46 0h3m-2 0h3m5 0h3m42 0h3m-188 1h3m2 0h3m39 0h3m48 0h3m25 0h3m16 0h3m-117 1h3m8 0h3m14 0h3m28 0h3m41 0h3m63 0h3m-192 1h3m8 0h3m-1 0h3m56 0h3m-2 0h3m2 0h3m8 0h3m1 0h3m2 0h3m-1 0h3m7 0h3m-2 0h3m2 0h3m0 0h3m40 0h3m57 0h3m-200 1h3m5 0h3m8 0h3m3 0h3m25 0h3m59 0h3m20 0h3m86 0h3m-239 1h3m23 0h3m8 0h3m30 0h3m6 0h3m-2 0h3m12 0h3m145 0h3m-261 1h3m12 0h3m3 0h3m8 0h3m1 0h3m41 0h3m108 0h3m84 0h3m-272 1h3m-2 0h3m23 0h3m4 0h3m16 0h3m4 0h3m8 0h3m-2 0h3m43 0h3m5 0h3m6 0h3m45 0h3m-186 1h3m25 0h3m2 0h3m60 0h3m8 0h3m26 0h3m-147 1h3m32 0h3m11 0h3m-2 0h3m-1 0h3m9 0h3m10 0h3m3 0h3m9 0h3m2 0h3m4 0h3m36 0h3m-132 1h3m2 0h3m1 0h3m5 0h3m19 0h3m6 0h3m66 0h3m-2 0h3m24 0h3m-174 1h3m23 0h3m24 0h3m35 0h3m43 0h3m13 0h3m13 0h3m-155 1h3m54 0h3m-2 0h3m-1 0h3m-1 0h3m15 0h3m37 0h3m29 0h3m111 0h3m-234 1h3m36 0h3m2 0h3m0 0h3m6 0h3m38 0h3m46 0h3m69 0h3m-299 1h3m18 0h3m-1 0h3m32 0h3m20 0h3m17 0h3m11 0h3m3 0h3m9 0h3m41 0h3m61 0h3m-266 1h3m126 0h3m-1 0h3m11 0h3m6 0h3m97 0h3m35 0h3m46 0h3m-250 1h3m19 0h3m28 0h3m7 0h3m78 0h3m-199 1h3m9 0h3m7 0h3m8 0h3m18 0h3m27 0h3m4 0h3m12 0h3m-203 1h3m107 0h3m24 0h3m22 0h3m43 0h3m35 0h3m-1 0h3m71 0h3m-319 1h3m88 0h3m10 0h3m45 0h3m0 0h3m16 0h3m14 0h3m0 0h3m1 0h3m-2 0h3m-2 0h3m24 0h3m47 0h3m7 0h3m-186 1h3m30 0h3m15 0h3m-1 0h3m-2 0h3m11 0h3m8 0h3m20 0h3m8 0h3m2 0h3m46 0h3m18 0h3m18 0h3m1 0h3m-267 1h3m6 0h3m23 0h3m75 0h3m-1 0h3m-2 0h3m15 0h3m11 0h3m9 0h3m22 0h3m59 0h3m51 0h3m-311 1h3m10 0h3m33 0h3m20 0h3m9 0h3m2 0h3m4 0h3m33 0h3m14 0h3m9 0h3m59 0h3m34 0h3m14 0h3m-254 1h3m13 0h3m5 0h3m16 0h3m11 0h3m11 0h3m9 0h3m27 0h3m3 0h3m31 0h3m28 0h3m54 0h3m36 0h3m-289 1h3m15 0h3m6 0h3m36 0h3m7 0h3m10 0h3m4 0h3m44 0h3m0 0h3m28 0h3m-233 1h3m14 0h3m18 0h3m1 0h3m28 0h3m3 0h3m18 0h3m6 0h3m6 0h3m-2 0h3m31 0h3m-2 0h3m6 0h3m37 0h3m69 0h3m41 0h3m-225 1h3m35 0h3m3 0h3m26 0h3m14 0h3m2 0h3m23 0h3m-112 1h3m15 0h3m8 0h3m13 0h3m-2 0h3m10 0h3m8 0h3m82 0h3m23 0h3m-223 1h3m6 0h3m12 0h3m-1 0h3m3 0h3m16 0h3m5 0h3m1 0h3m87 0h3m22 0h3m-200 1h3m53 0h3m2 0h3m5 0h3m11 0h3m5 0h3m2 0h3m3 0h3m2 0h3m15 0h3m-2 0h3m84 0h3m9 0h3m-216 1h3m4 0h3m16 0h3m25 0h3m2 0h3m25 0h3m0 0h3m3 0h3m9 0h3m-1 0h3m-193 1h3m41 0h3m17 0h3m25 0h3m0 0h3m11 0h3m26 0h3m22 0h3m58 0h3m15 0h3m11 0h3m40 0h3m0 0h3m80 0h3m-299 1h3m31 0h3m4 0h3m1 0h3m-2 0h3m3 0h3m13 0h3m7 0h3m6 0h3m16 0h3m61 0h3m-227 1h3m15 0h3m1 0h3m22 0h3m31 0h3m0 0h3m2 0h3m13 0h3m40 0h3m1 0h3m18 0h3m23 0h3m-172 1h3m32 0h3m15 0h3m-1 0h3m6 0h3m20 0h3m14 0h3m15 0h3m6 0h3m4 0h3m4 0h3m2 0h3m23 0h3m62 0h3m-271 1h3m50 0h3m15 0h3m1 0h3m13 0h3m6 0h3m5 0h3m0 0h3m-2 0h3m8 0h3m17 0h3m15 0h3m123 0h3m-262 1h3m38 0h3m-2 0h3m2 0h3m-1 0h3m6 0h3m26 0h3m4 0h3m18 0h3m9 0h3m59 0h3m4 0h3m-205 1h3m45 0h3m5 0h3m7 0h3m-2 0h3m26 0h3m8 0h3m1 0h3m118 0h3m41 0h3m-261 1h3m15 0h3m23 0h3m15 0h3m13 0h3m47 0h3m6 0h3m2 0h3m-1 0h3m30 0h3m-226 1h3m6 0h3m28 0h3m-2 0h3m13 0h3m13 0h3m-1 0h3m27 0h3m21 0h3m11 0h3m110 0h3m2 0h3m-280 1h3m36 0h3m28 0h3m1 0h3m23 0h3m0 0h3m10 0h3m20 0h3m1 0h3m167 0h3m-296 1h3m21 0h3m36 0h3m0 0h3m23 0h3m7 0h3m0 0h3m22 0h3m-2 0h3m6 0h3m68 0h3m17 0h3m22 0h3m9 0h3m19 0h3m-287 1h3m20 0h3m41 0h3m5 0h3m5 0h3m32 0h3m8 0h3m3 0h3m37 0h3m11 0h3m17 0h3m-243 1h3m70 0h3m-2 0h3m7 0h3m14 0h3m1 0h3m-2 0h3m8 0h3m-2 0h3m14 0h3m3 0h3m0 0h3m17 0h3m78 0h3m47 0h3m7 0h3m-282 1h3m27 0h3m47 0h3m12 0h3m-1 0h3m32 0h3m27 0h3m152 0h3m-383 1h3m85 0h3m6 0h3m35 0h3m8 0h3m-1 0h3m15 0h3m7 0h3m2 0h3m8 0h3m18 0h3m11 0h3m-2 0h3m8 0h3m12 0h3m15 0h3m12 0h3m5 0h3m-139 1h3m39 0h3m11 0h3m16 0h3m47 0h3m20 0h3m26 0h3m-1 0h3m-307 1h3m1 0h3m0 0h3m75 0h3m2 0h3m14 0h3m0 0h3m38 0h3m13 0h3m7 0h3m21 0h3m1 0h3m20 0h3m12 0h3m0 0h3m13 0h3m-242 1h3m17 0h3m-2 0h3m2 0h3m52 0h3m2 0h3m28 0h3m59 0h3m13 0h3m2 0h3m31 0h3m23 0h3m-277 1h3m22 0h3m16 0h3m3 0h3m2 0h3m58 0h3m12 0h3m6 0h3m14 0h3m35 0h3m24 0h3m-2 0h3m29 0h3m-1 0h3m12 0h3m-240 1h3m69 0h3m5 0h3m3 0h3m3 0h3m32 0h3m15 0h3m103 0h3m-258 1h3m55 0h3m15 0h3m17 0h3m10 0h3m-2 0h3m7 0h3m26 0h3m14 0h3m50 0h3m34 0h3m-302 1h3m53 0h3m3 0h3m6 0h3m17 0h3m5 0h3m1 0h3m19 0h3m-2 0h3m-2 0h3m132 0h3m4 0h3m10 0h3m-273 1h3m23 0h3m4 0h3m63 0h3m3 0h3m17 0h3m6 0h3m115 0h3m36 0h3m-340 1h3m30 0h3m27 0h3m8 0h3m16 0h3m31 0h3m22 0h3m46 0h3m41 0h3m9 0h3m27 0h3m14 0h3m-265 1h3m13 0h3m31 0h3m3 0h3m27 0h3m17 0h3m19 0h3m16 0h3m20 0h3m2 0h3m51 0h3m-170 1h3m33 0h3m16 0h3m63 0h3m98 0h3m-233 1h3m15 0h3m0 0h3m13 0h3m4 0h3m8 0h3m-1 0h3m-125 1h3m51 0h3m45 0h3m14 0h3m13 0h3m159 0h3m-321 1h3m43 0h3m21 0h3m20 0h3m21 0h3m6 0h3m49 0h3m5 0h3m71 0h3m35 0h3m21 0h3m2 0h3m-329 1h3m50 0h3m-1 0h3m24 0h3m10 0h3m7 0h3m-2 0h3m8 0h3m14 0h3m31 0h3m-2 0h3m98 0h3m41 0h3m-238 1h3m13 0h3m25 0h3m106 0h3m15 0h3m48 0h3m-233 1h3m15 0h3m24 0h3m33 0h3m12 0h3m103 0h3m28 0h3m-277 1h3m44 0h3m10 0h3m-1 0h3m52 0h3m14 0h3m13 0h3m124 0h3m54 0h3m-325 1h3m3 0h3m18 0h3m33 0h3m21 0h3m28 0h3m-108 1h3m0 0h3m29 0h3m8 0h3m139 0h3m41 0h3m-253 1h3m4 0h3m43 0h3m9 0h3m13 0h3m12 0h3m4 0h3m70 0h3m53 0h3m21 0h3m38 0h3m27 0h3m-311 1h3m26 0h3m7 0h3m5 0h3m30 0h3m13 0h3m56 0h3m67 0h3m-257 1h3m30 0h3m0 0h3m30 0h3m3 0h3m12 0h3m3 0h3m102 0h3m6 0h3m-190 1h3m49 0h3m0 0h3m3 0h3m52 0h3m13 0h3m26 0h3m92 0h3m-289 1h3m5 0h3m71 0h3m24 0h3m-1 0h3m134 0h3m-199 1h3m2 0h3m28 0h3m19 0h3m22 0h3m10 0h3m3 0h3m83 0h3m13 0h3m8 0h3m75 0h3m-309 1h3m0 0h3m12 0h3m54 0h3m96 0h3m20 0h3m-180 1h3m9 0h3m6 0h3m27 0h3m17 0h3m133 0h3m8 0h3m-282 1h3m25 0h3m0 0h3m67 0h3m147 0h3m-236 1h3m3 0h3m53 0h3m26 0h3m166 0h3m-2 0h3m-261 1h3m59 0h3m30 0h3m68 0h3m65 0h3m3 0h3m4 0h3m33 0h3m-245 1h3m9 0h3m37 0h3m-67 1h3m0 0h3m8 0h3m144 0h3m19 0h3m28 0h3m-276 1h3m5 0h3m24 0h3m24 0h3m3 0h3m27 0h3m3 0h3m31 0h3m154 0h3m-225 1h3m44 0h3m8 0h3m2 0h3m46 0h3m106 0h3m56 0h3m-356 1h3m5 0h3m53 0h3m4 0h3m-1 0h3m17 0h3m5 0h3m1 0h3m3 0h3m6 0h3m2 0h3m92 0h3m-217 1h3m9 0h3m24 0h3m64 0h3m59 0h3m35 0h3m40 0h3m28 0h3m0 0h3m-202 1h3m-1 0h3m13 0h3m23 0h3m70 0h3m19 0h3m-214 1h3m43 0h3m7 0h3m22 0h3m42 0h3m69 0h3m19 0h3m-191 1h3m0 0h3m15 0h3m13 0h3m14 0h3m95 0h3m41 0h3m-234 1h3m34 0h3m121 0h3m2 0h3m8 0h3m14 0h3m44 0h3m-223 1h3m40 0h3m60 0h3m84 0h3m-224 1h3m34 0h3m1 0h3m16 0h3m8 0h3m7 0h3m21 0h3m12 0h3m12 0h3m97 0h3m1 0h3m11 0h3m43 0h3m19 0h3m-305 1h3m76 0h3m13 0h3m0 0h3m25 0h3m39 0h3m-212 1h3m20 0h3m67 0h3m0 0h3m16 0h3m5 0h3m24 0h3m80 0h3m-241 1h3m98 0h3m13 0h3m12 0h3m39 0h3m24 0h3m26 0h3m17 0h3m47 0h3m-261 1h3m30 0h3m10 0h3m65 0h3m33 0h3m30 0h3m27 0h3m-181 1h3m11 0h3m22 0h3m18 0h3m-1 0h3m15 0h3m56 0h3m-153 1h3m6 0h3m1 0h3m31 0h3m128 0h3m81 0h3m-286 1h3m1 0h3m2 0h3m15 0h3m8 0h3m-1 0h3m18 0h3m-101 1h3m61 0h3m28 0h3m-2 0h3m48 0h3m29 0h3m25 0h3m-202 1h3m11 0h3m53 0h3m4 0h3m13 0h3m15 0h3m13 0h3m80 0h3m-190 1h3m16 0h3m2 0h3m3 0h3m12 0h3m19 0h3m2 0h3m5 0h3m-2 0h3m-1 0h3m10 0h3m20 0h3m139 0h3m-246 1h3m49 0h3m4 0h3m1 0h3m0 0h3m10 0h3m0 0h3m4 0h3m86 0h3m-198 1h3m4 0h3m21 0h3m1 0h3m56 0h3m2 0h3m0 0h3m37 0h3m-155 1h3m60 0h3m15 0h3m30 0h3m215 0h3m-340 1h3m-2 0h3m18 0h3m-2 0h3m3 0h3m11 0h3m4 0h3m-1 0h3m33 0h3m17 0h3m12 0h3m37 0h3m-147 1h3m0 0h3m40 0h3m11 0h3m13 0h3m16 0h3m54 0h3m77 0h3m-251 1h3m12 0h3m23 0h3m3 0h3m5 0h3m4 0h3m113 0h3m-177 1h3m15 0h3m24 0h3m21 0h3m29 0h3m30 0h3m49 0h3m5 0h3m-200 1h3m28 0h3m21 0h3m9 0h3m2 0h3m7 0h3m130 0h3m27 0h3m5 0h3m-286 1h3m13 0h3m2 0h3m9 0h3m54 0h3m27 0h3m39 0h3m-105 1h3m3 0h3m21 0h3m51 0h3m22 0h3m5 0h3m-130 1h3m28 0h3m11 0h3m1 0h3m156 0h3m29 0h3m-242 1h3m4 0h3m-2 0h3m0 0h3m15 0h3m7 0h3m-2 0h3m4 0h3m139 0h3m-242 1h3m18 0h3m9 0h3m16 0h3m5 0h3m6 0h3m4 0h3m-2 0h3m14 0h3m174 0h3m-257 1h3m10 0h3m8 0h3m7 0h3m17 0h3m40 0h3m41 0h3m3 0h3m-104 1h3m6 0h3m0 0h3m41 0h3m48 0h3m-125 1h3m14 0h3m59 0h3m33 0h3m-121 1h3m4 0h3m5 0h3m5 0h3m19 0h3m0 0h3m39 0h3m14 0h3m147 0h3m-270 1h3m11 0h3m4 0h3m65 0h3m-126 1h3m39 0h3m1 0h3m23 0h3m11 0h3m2 0h3m6 0h3m9 0h3m-2 0h3m5 0h3m1 0h3m56 0h3m-181 1h3m84 0h3m-59 1h3m46 0h3m4 0h3m6 0h3m0 0h3m-2 0h3m36 0h3m-123 1h3m34 0h3m34 0h3m18 0h3m4 0h3m-52 1h3m42 0h3m5 0h3m18 0h3m-113 1h3m22 0h3m16 0h3m25 0h3m5 0h3m2 0h3m0 0h3m-1 0h3m12 0h3m-142 1h3m2 0h3m50 0h3m-2 0h3m25 0h3m22 0h3m1 0h3m-9 1h3m31 0h3m-94 1h3m173 0h3m-230 1h3m12 0h3m10 0h3m4 0h3m11 0h3m33 0h3m19 0h3m-78 1h3m45 0h3m8 0h3m12 0h3m8 0h3m-85 1h3m2 0h3m-1 0h3m44 0h3m68 0h3m-158 1h3m-2 0h3m-2 0h3m4 0h3m30 0h3m6 0h3m2 0h3m-1 0h3m8 0h3m2 0h3m38 0h3m-63 1h3m-1 0h3m15 0h3m168 0h3m-223 1h3m0 0h3m4 0h3m49 0h3m23 0h3m34 0h3m-145 1h3m8 0h3m92 0h3m-124 1h3m20 0h3m-2 0h3m21 0h3m5 0h3m-53 1h3m40 0h3m3 0h3m22 0h3m0 0h3m3 0h3m23 0h3m8 0h3m-111 1h3m35 0h3m10 0h3m111 1h3m69 0h3m-222 1h3m51 0h3m-86 1h3m6 0h3m34 0h3m2 0h3m22 0h3m0 0h3m27 0h3m-111 1h3m41 0h3m-5 1h3m8 0h3m1 0h3m28 0h3m49 0h3m-159 1h3m44 0h3m0 0h3m119 0h3m-152 1h3m20 0h3m43 0h3m2 0h3m6 0h3m5 0h3m-64 1h3m-50 1h3m33 0h3m60 0h3m-50 1h3m59 0h3m-116 1h3m37 0h3m-15 1h3m74 0h3m15 0h3m-75 1h3m71 0h3m-80 1h3m5 0h3m22 0h3m-63 3h3m24 1h3m12 0h3m-46 1h3m13 0h3m101 1h3m176 0h3m-183 2h3m32 0h3m-149 1h3m22 3h3m-39 2h3m52 1h3m-48 1h3m70 3h3m-101 1h3m137 2h3m-20 1h3m-128 1h3m25 0h3m38 1h3m29 1h3m-25 1h3m-73 6h3m23 0h3m77 14h3" stroke="#0a0aff" stroke-width="2.8" fill="none" opacity="0.85"/>
<path transform="scale(.4)" d="M804 1669h3m-68 1h3m58 3h3m-83 3h3m40 2h3m-55 9h3m-19 1h3m-17 1h3m-13 9h3m35 0h3m72 0h3m-59 1h3m-19 2h3m-88 7h3m99 0h3m-47 1h3m-38 1h3m9 3h3m5 0h3m23 0h3m-99 1h3m21 0h3m0 1h3m7 0h3m-29 2h3m48 1h3m-25 1h3m-47 1h3m33 0h3m20 0h3m-1 0h3m3 1h3m-35 1h3m10 1h3m-44 1h3m55 0h3m-21 1h3m2 0h3m10 1h3m-43 1h3m99 0h3m-94 1h3m40 0h3m17 0h3m36 1h3m-69 1h3m-32 2h3m62 0h3m13 0h3m-77 1h3m47 0h3m-20 1h3m-63 1h3m18 0h3m63 0h3m-71 1h3m69 2h3m9 0h3m-132 4h3m1 1h3m75 3h3m-72 2h3m36 1h3m-92 1h3m28 1h3m10 3h3m16 2h3m-12 1h3m-66 1h3m64 0h3m-76 2h3m31 0h3m-7 1h3m38 0h3m-53 1h3m-24 1h3m208 2h3m-108 1h3m-58 1h3m-32 1h3m60 0h3m-32 3h3m-32 1h3m12 1h3m-44 2h3m30 1h3m-25 2h3m-28 6h3m88 3h3m-84 14h3m-24 1h3m7 0h3m213 2h3m-161 12h3m-62 10h3m0 0h3m1 5h3" stroke="#00c8e6" stroke-width="2.8" fill="none" opacity="0.85"/>
<path transform="scale(.4)" d="M756 1646h3m20 9h3m-39 10h3m-25 8h3m53 1h3m-109 11h3m93 1h3m-39 6h3m-6 3h3m-90 1h3m53 0h3m23 0h3m3 1h3m25 0h3m-80 1h3m-19 2h3m51 1h3m-109 3h3m34 0h3m-47 1h3m92 1h3m-2 0h3m45 0h3m-93 1h3m27 1h3m-20 2h3m35 1h3m12 2h3m-76 1h3m-1 0h3m13 0h3m-35 1h3m-30 1h3m-19 1h3m58 3h3m14 0h3m30 0h3m-167 2h3m128 0h3m41 0h3m-114 3h3m19 0h3m28 0h3m-29 1h3m77 0h3m-70 1h3m-12 2h3m33 0h3m-2 0h3m-70 1h3m72 0h3m-50 1h3m35 0h3m7 0h3m-57 2h3m11 1h3m7 0h3m-18 1h3m-10 1h3m-55 1h3m18 0h3m19 0h3m41 0h3m-1 0h3m-41 1h3m46 0h3m-44 1h3m5 0h3m-80 1h3m34 0h3m21 2h3m-66 2h3m32 1h3m-1 0h3m59 0h3m-66 1h3m10 1h3m-1 0h3m10 0h3m12 0h3m18 0h3m-27 2h3m2 0h3m156 1h3m-177 1h3m12 0h3m5 0h3m9 1h3m-85 1h3m35 0h3m-17 2h3m-36 1h3m7 0h3m-80 2h3m56 0h3m27 0h3m-27 1h3m24 0h3m119 5h3m-122 1h3m13 1h3m-96 3h3m36 0h3m1 5h3m3 0h3m217 1h3m-145 3h3m133 1h3m-229 2h3m33 0h3m-89 1h3m27 1h3m10 6h3m236 0h3m-152 2h3m-163 2h3m41 2h3m49 1h3m-9 3h3m-29 12h3m12 8h3m43 9h3m-78 5h3m-2 13h3m39 38h3" stroke="#1ed21e" stroke-width="2.8" fill="none" opacity="0.85"/>
<path transform="scale(.4)" d="M727 1712h3m-87 4h3m-16 2h3m62 0h3m-40 1h3m8 3h3m-48 2h3m31 4h3m-27 3h3m41 0h3m-54 2h3m14 2h3m-37 5h3m7 0h3m24 2h3m-23 7h3m3 1h3m0 0h3m-4 3h3m-7 8h3m-7 3h3m-27 5h3m-31 1h3m-15 3h3m-28 8h3" stroke="#f0dc00" stroke-width="2.8" fill="none" opacity="0.9"/>
<path transform="scale(.4)" d="M636 1734h3m7 0h3m-3 5h3m-38 1h3m33 1h3m17 2h3m-61 8h3" stroke="#ff3200" stroke-width="2.8" fill="none" opacity="0.9"/>
<path d="M196.6 711.7C196.6 709.6 197.8 706.7 199.8 703.9C201.9 701.1 204.8 698 208.9 694.9C213 691.7 218.9 688.4 224.5 685.1C230.1 681.9 236.6 678.4 242.6 675.4C248.7 672.4 254.5 669.6 260.8 667C267.1 664.4 273.8 661.8 280.2 659.8C286.7 657.9 294.3 656.4 299.7 655.3C305.1 654.2 308.8 653.6 312.7 653.3C316.6 653.1 320.3 653.3 323 654C325.8 654.6 327.8 655.8 328.9 657.2C330 658.6 330.3 660.3 329.8 662.4C329.3 664.6 327.8 667.5 325.6 670.2C323.4 672.9 320.2 675.8 316.6 678.6C312.9 681.4 308.6 684.2 303.6 687.1C298.6 690 292.1 693.1 286.7 696.1C281.3 699.2 276.6 702.6 271.2 705.2C265.8 707.8 260.4 709.9 254.3 711.7C248.3 713.5 240.7 715.2 234.9 716.3C229 717.3 223.8 717.8 219.3 718.2C214.7 718.6 210.9 719.1 207.6 718.8C204.4 718.6 201.7 718.1 199.8 716.9C198 715.7 196.6 713.9 196.6 711.7Z" fill="none" stroke="#0a0a0a" stroke-width="1.8"/>
<path d="M186.2 741.5C186.3 738.9 187.4 735.4 189.5 732.5C191.5 729.5 194.9 726.4 198.5 724C202.2 721.7 206.5 719.6 211.5 718.2C216.5 716.8 222.7 716 228.4 715.6C234 715.2 240 715 245.2 715.6C250.4 716.3 255.6 717.9 259.5 719.5C263.4 721.1 266.4 723.2 268.6 725.3C270.7 727.5 272 730.2 272.5 732.5C272.9 734.7 272.5 736.6 271.2 738.9C269.9 741.3 267.7 744.2 264.7 746.7C261.7 749.2 257.3 751.8 253 753.9C248.7 755.9 243.7 757.8 238.7 759.1C233.8 760.3 228.1 761.2 223.2 761.3C218.2 761.4 213.5 760.8 208.9 759.7C204.4 758.6 199.3 756.5 195.9 754.5C192.6 752.6 190.4 750.2 188.8 748C187.2 745.9 186.1 744.1 186.2 741.5Z" fill="none" stroke="#0a0a0a" stroke-width="1.8"/>
<path d="M269.2 719.5C269.1 717.7 269.3 715.7 270.5 713C271.7 710.3 273.7 706.5 276.4 703.3C279.1 700 282.8 696.4 286.7 693.6C290.6 690.7 295.4 688.1 299.7 686.4C304 684.7 308.3 683.8 312.7 683.2C317 682.5 321.5 682.2 325.6 682.5C329.7 682.9 334 683.8 337.3 685.1C340.7 686.4 343.8 688.4 345.7 690.3C347.7 692.3 348.9 694.5 349.2 696.8C349.6 699.1 349 701.3 347.7 703.9C346.4 706.5 344 709.6 341.2 712.4C338.4 715.2 334.9 718.3 330.8 720.8C326.7 723.3 321.5 725.4 316.6 727.3C311.6 729.1 306 731.1 301 731.8C296 732.6 290.8 732.4 286.7 731.8C282.6 731.3 278.9 729.9 276.4 728.6C273.8 727.3 272.4 725.5 271.2 724C270 722.5 269.3 721.3 269.2 719.5Z" fill="none" stroke="#0a0a0a" stroke-width="1.8"/>
<text x="262.7" y="677.3" font-family="'Liberation Sans','DejaVu Sans',sans-serif" font-weight="bold" font-size="10" text-anchor="middle" fill="#3a3a3a" stroke="#fff" stroke-opacity="0.6" stroke-width="1.6" paint-order="stroke">S</text>
<text x="229.9" y="742.1" font-family="'Liberation Sans','DejaVu Sans',sans-serif" font-weight="bold" font-size="10" text-anchor="middle" fill="#3a3a3a" stroke="#fff" stroke-opacity="0.6" stroke-width="1.6" paint-order="stroke">G1</text>
<text x="308.8" y="711.6" font-family="'Liberation Sans','DejaVu Sans',sans-serif" font-weight="bold" font-size="10" text-anchor="middle" fill="#3a3a3a" stroke="#fff" stroke-opacity="0.6" stroke-width="1.6" paint-order="stroke">G2</text>
<path d="M139.6 593.1H378.4" fill="none" stroke="#c0c0c0" stroke-width="1.2"/>
<path d="M378.4 593.1V834.1" fill="none" stroke="#c0c0c0" stroke-width="1.2"/>
<path d="M139.6 595.6h-3.2M139.6 624.6h-3.2M139.6 680.6h-3.2M139.6 687.9h-3.2M139.6 697.3h-3.2M139.6 708.7h-3.2M139.6 721.1h-3.2M139.6 736.7h-3.2M139.6 757.4h-3.2M139.6 785.4h-3.2M139.6 834.1v3.6M158.9 834.1v3.6M174.4 834.1v3.6M186.9 834.1v3.6M197.3 834.1v3.6M206.6 834.1v3.6M214.5 834.1v3.6M269.9 834.1v3.6M297.9 834.1v3.6M317.6 834.1v3.6M333.2 834.1v3.6M345.6 834.1v3.6M357 834.1v3.6M366.4 834.1v3.6M374.3 834.1v3.6" fill="none" stroke="#444" stroke-width="1.3"/>
<path d="M139.6 593.1V834.9" fill="none" stroke="#6a6a6a" stroke-width="1.5"/>
<path d="M138.9 834.1H378.4M139.6 672.3h-6.3M139.6 833.1h-6.3M221.7 834.1v6.5" fill="none" stroke="#222" stroke-width="1.7"/>
<text x="226.3" y="814.1" font-size="34" text-anchor="start" fill="#000" stroke-width="0.7" stroke-linejoin="round">Scramble</text>
<text x="238" y="885.1" font-size="33" text-anchor="start" fill="#000" stroke-width="0.7" stroke-linejoin="round">PI</text>
<path transform="scale(.4)" d="M1402 1607h3m27 4h3m-44 2h3m22 1h3m-45 2h3m-51 3h3m95 3h3m2 1h3m-11 5h3m-7 1h3m7 1h3m-26 3h3m-79 1h3m76 0h3m23 0h3m-21 1h3m-13 1h3m-6 1h3m34 0h3m-8 1h3m-12 1h3m10 0h3m-119 1h3m53 1h3m5 0h3m-6 1h3m21 0h3m0 0h3m-61 1h3m2 0h3m50 0h3m0 0h3m-31 1h3m15 0h3m12 0h3m-2 0h3m4 0h3m-20 1h3m16 0h3m-91 1h3m55 0h3m0 0h3m6 0h3m15 0h3m-58 1h3m29 0h3m22 0h3m-103 1h3m40 0h3m24 0h3m19 0h3m-54 1h3m14 0h3m16 0h3m11 0h3m-136 1h3m102 0h3m12 0h3m-1 0h3m1 0h3m0 0h3m16 0h3m-38 1h3m15 0h3m-11 1h3m10 0h3m8 0h3m-47 1h3m16 0h3m8 0h3m-110 1h3m55 0h3m22 0h3m-33 1h3m4 0h3m-1 0h3m0 0h3m14 0h3m5 0h3m22 0h3m-83 1h3m33 0h3m1 0h3m23 0h3m14 0h3m-100 1h3m39 0h3m10 0h3m-2 0h3m1 0h3m0 0h3m1 0h3m4 0h3m26 0h3m-94 1h3m6 0h3m51 0h3m1 0h3m0 0h3m4 0h3m-78 1h3m5 0h3m24 0h3m43 0h3m-137 1h3m56 0h3m-1 0h3m4 0h3m3 0h3m10 0h3m9 0h3m0 0h3m16 0h3m-100 1h3m50 0h3m4 0h3m11 0h3m6 0h3m-2 0h3m4 0h3m2 0h3m13 0h3m-115 1h3m76 0h3m7 0h3m13 0h3m0 0h3m-65 1h3m18 0h3m-2 0h3m1 0h3m7 0h3m-2 0h3m1 0h3m-2 0h3m-2 0h3m-2 0h3m-2 0h3m3 0h3m6 0h3m-76 1h3m10 0h3m1 0h3m20 0h3m0 0h3m18 0h3m2 0h3m2 0h3m-110 1h3m58 0h3m21 0h3m11 0h3m-2 0h3m4 0h3m-116 1h3m4 0h3m65 0h3m-1 0h3m-2 0h3m25 0h3m-2 0h3m3 0h3m-74 1h3m12 0h3m0 0h3m3 0h3m3 0h3m10 0h3m-1 0h3m5 0h3m5 0h3m6 0h3m-36 1h3m7 0h3m5 0h3m17 0h3m-94 1h3m7 0h3m12 0h3m0 0h3m13 0h3m0 0h3m8 0h3m-1 0h3m6 0h3m-1 0h3m2 0h3m3 0h3m-127 1h3m8 0h3m56 0h3m10 0h3m3 0h3m-2 0h3m13 0h3m-67 1h3m5 0h3m-1 0h3m14 0h3m6 0h3m-2 0h3m4 0h3m-2 0h3m6 0h3m10 0h3m16 0h3m-117 1h3m41 0h3m3 0h3m15 0h3m-2 0h3m-2 0h3m-2 0h3m11 0h3m14 0h3m-1 0h3m5 0h3m2 0h3m-48 1h3m-1 0h3m-2 0h3m1 0h3m17 0h3m-125 1h3m43 0h3m34 0h3m-1 0h3m1 0h3m8 0h3m0 0h3m2 0h3m1 0h3m1 0h3m0 0h3m12 0h3m-70 1h3m0 0h3m9 0h3m-2 0h3m26 0h3m1 0h3m1 0h3m-2 0h3m6 0h3m-57 1h3m2 0h3m3 0h3m3 0h3m-2 0h3m0 0h3m4 0h3m-1 0h3m-1 0h3m6 0h3m-1 0h3m10 0h3m11 0h3m2 0h3m-125 1h3m54 0h3m0 0h3m7 0h3m2 0h3m11 0h3m-2 0h3m-2 0h3m8 0h3m13 0h3m-116 1h3m34 0h3m7 0h3m4 0h3m7 0h3m4 0h3m0 0h3m31 0h3m-135 1h3m-2 0h3m41 0h3m15 0h3m18 0h3m6 0h3m5 0h3m-1 0h3m11 0h3m0 0h3m-129 1h3m27 0h3m20 0h3m15 0h3m20 0h3m14 0h3m1 0h3m-2 0h3m4 0h3m2 0h3m-116 1h3m1 0h3m28 0h3m21 0h3m17 0h3m3 0h3m1 0h3m19 0h3m-72 1h3m6 0h3m0 0h3m-2 0h3m21 0h3m7 0h3m8 0h3m-2 0h3m9 0h3m-117 1h3m9 0h3m3 0h3m17 0h3m6 0h3m-1 0h3m5 0h3m11 0h3m0 0h3m-1 0h3m8 0h3m1 0h3m1 0h3m-2 0h3m-2 0h3m5 0h3m6 0h3m-1 0h3m2 0h3m-161 1h3m41 0h3m-1 0h3m13 0h3m22 0h3m4 0h3m14 0h3m9 0h3m20 0h3m-204 1h3m71 0h3m24 0h3m20 0h3m23 0h3m-1 0h3m1 0h3m1 0h3m20 0h3m7 0h3m8 0h3m2 0h3m-162 1h3m28 0h3m59 0h3m8 0h3m18 0h3m9 0h3m1 0h3m3 0h3m-93 1h3m2 0h3m0 0h3m28 0h3m-2 0h3m0 0h3m3 0h3m3 0h3m6 0h3m22 0h3m1 0h3m2 0h3m-75 1h3m8 0h3m0 0h3m15 0h3m1 0h3m4 0h3m4 0h3m6 0h3m-2 0h3m2 0h3m3 0h3m-143 1h3m18 0h3m28 0h3m8 0h3m5 0h3m-2 0h3m17 0h3m4 0h3m22 0h3m13 0h3m-1 0h3m-115 1h3m25 0h3m2 0h3m3 0h3m30 0h3m8 0h3m-2 0h3m2 0h3m-1 0h3m13 0h3m-79 1h3m9 0h3m1 0h3m16 0h3m22 0h3m4 0h3m-104 1h3m17 0h3m20 0h3m12 0h3m3 0h3m10 0h3m0 0h3m3 0h3m25 0h3m11 0h3m-113 1h3m1 0h3m1 0h3m39 0h3m6 0h3m12 0h3m17 0h3m-140 1h3m12 0h3m47 0h3m10 0h3m2 0h3m3 0h3m2 0h3m0 0h3m9 0h3m2 0h3m4 0h3m2 0h3m12 0h3m3 0h3m-134 1h3m8 0h3m1 0h3m20 0h3m19 0h3m-2 0h3m13 0h3m-1 0h3m12 0h3m-2 0h3m-2 0h3m3 0h3m-2 0h3m-2 0h3m15 0h3m-2 0h3m-160 1h3m29 0h3m31 0h3m9 0h3m16 0h3m8 0h3m5 0h3m6 0h3m-107 1h3m11 0h3m2 0h3m32 0h3m3 0h3m14 0h3m22 0h3m0 0h3m15 0h3m1 0h3m-78 1h3m12 0h3m2 0h3m10 0h3m0 0h3m6 0h3m5 0h3m-143 1h3m61 0h3m33 0h3m9 0h3m15 0h3m1 0h3m5 0h3m2 0h3m2 0h3m-2 0h3m-79 1h3m4 0h3m20 0h3m1 0h3m3 0h3m13 0h3m-2 0h3m-1 0h3m-149 1h3m41 0h3m12 0h3m13 0h3m19 0h3m8 0h3m17 0h3m11 0h3m23 0h3m-122 1h3m42 0h3m16 0h3m0 0h3m4 0h3m5 0h3m-2 0h3m9 0h3m5 0h3m5 0h3m31 0h3m-172 1h3m23 0h3m16 0h3m9 0h3m-45 1h3m-1 0h3m54 0h3m29 0h3m3 0h3m7 0h3m-1 0h3m1 0h3m18 0h3m-136 1h3m15 0h3m13 0h3m-1 0h3m4 0h3m1 0h3m19 0h3m5 0h3m19 0h3m4 0h3m37 0h3m-127 1h3m79 0h3m4 0h3m-2 0h3m13 0h3m1 0h3m-138 1h3m27 0h3m61 0h3m37 0h3m-179 1h3m50 0h3m14 0h3m-2 0h3m1 0h3m7 0h3m31 0h3m20 0h3m23 0h3m19 0h3m-152 1h3m-2 0h3m23 0h3m11 0h3m-1 0h3m-2 0h3m-2 0h3m9 0h3m23 0h3m12 0h3m-1 0h3m11 0h3m41 0h3m-139 1h3m3 0h3m8 0h3m69 0h3m6 0h3m3 0h3m-118 1h3m7 0h3m54 0h3m22 0h3m-2 0h3m-1 0h3m10 0h3m-148 1h3m63 0h3m24 0h3m3 0h3m17 0h3m-2 0h3m8 0h3m4 0h3m-139 1h3m-1 0h3m38 0h3m18 0h3m24 0h3m4 0h3m-59 1h3m-1 0h3m-2 0h3m9 0h3m4 0h3m21 0h3m6 0h3m72 0h3m-159 1h3m14 0h3m21 0h3m13 0h3m7 0h3m10 0h3m4 0h3m3 0h3m-1 0h3m-82 1h3m9 0h3m46 0h3m17 0h3m41 0h3m-149 1h3m1 0h3m35 0h3m3 0h3m18 0h3m-2 0h3m12 0h3m5 0h3m6 0h3m-111 1h3m9 0h3m18 0h3m7 0h3m23 0h3m33 0h3m1 0h3m9 0h3m3 0h3m7 0h3m-149 1h3m26 0h3m22 0h3m4 0h3m2 0h3m28 0h3m10 0h3m-2 0h3m4 0h3m17 0h3m-112 1h3m14 0h3m10 0h3m8 0h3m0 0h3m7 0h3m-1 0h3m16 0h3m8 0h3m14 0h3m23 0h3m-213 1h3m16 0h3m78 0h3m6 0h3m-1 0h3m8 0h3m37 0h3m-66 1h3m-1 0h3m9 0h3m-2 0h3m-2 0h3m9 0h3m10 0h3m30 0h3m-65 1h3m16 0h3m-1 0h3m1 0h3m3 0h3m22 0h3m0 0h3m-2 0h3m-120 1h3m28 0h3m5 0h3m9 0h3m21 0h3m17 0h3m31 0h3m-146 1h3m40 0h3m-2 0h3m10 0h3m-1 0h3m-1 0h3m31 0h3m19 0h3m4 0h3m71 0h3m-182 1h3m35 0h3m1 0h3m0 0h3m10 0h3m20 0h3m7 0h3m15 0h3m1 0h3m-132 1h3m20 0h3m4 0h3m3 0h3m25 0h3m1 0h3m1 0h3m40 0h3m45 0h3m-156 1h3m8 0h3m0 0h3m34 0h3m0 0h3m28 0h3m20 0h3m5 0h3m11 0h3m-99 1h3m7 0h3m8 0h3m4 0h3m-2 0h3m15 0h3m0 0h3m30 0h3m-114 1h3m6 0h3m-1 0h3m9 0h3m18 0h3m16 0h3m17 0h3m-1 0h3m15 0h3m1 0h3m21 0h3m-170 1h3m9 0h3m4 0h3m-2 0h3m109 0h3m2 0h3m-100 1h3m9 0h3m28 0h3m3 0h3m12 0h3m27 0h3m26 0h3m-111 1h3m4 0h3m6 0h3m-1 0h3m6 0h3m7 0h3m-2 0h3m25 0h3m6 0h3m30 0h3m-123 1h3m0 0h3m10 0h3m21 0h3m2 0h3m-1 0h3m1 0h3m0 0h3m-1 0h3m8 0h3m31 0h3m8 0h3m1 0h3m22 0h3m-192 1h3m27 0h3m31 0h3m-1 0h3m4 0h3m0 0h3m14 0h3m0 0h3m12 0h3m11 0h3m3 0h3m57 0h3m-110 1h3m-2 0h3m7 0h3m-2 0h3m5 0h3m17 0h3m7 0h3m5 0h3m-167 1h3m67 0h3m-2 0h3m-2 0h3m-2 0h3m7 0h3m10 0h3m15 0h3m0 0h3m5 0h3m7 0h3m-1 0h3m0 0h3m41 0h3m6 0h3m22 0h3m-126 1h3m-1 0h3m13 0h3m-2 0h3m-2 0h3m0 0h3m12 0h3m18 0h3m9 0h3m0 0h3m-135 1h3m48 0h3m5 0h3m0 0h3m6 0h3m-2 0h3m12 0h3m13 0h3m0 0h3m21 0h3m2 0h3m-145 1h3m2 0h3m1 0h3m5 0h3m64 0h3m0 0h3m1 0h3m3 0h3m-1 0h3m9 0h3m0 0h3m0 0h3m16 0h3m16 0h3m30 0h3m-172 1h3m3 0h3m25 0h3m4 0h3m2 0h3m16 0h3m1 0h3m25 0h3m-2 0h3m-1 0h3m2 0h3m11 0h3m-120 1h3m23 0h3m-2 0h3m15 0h3m13 0h3m7 0h3m53 0h3m6 0h3m12 0h3m-237 1h3m105 0h3m1 0h3m-2 0h3m50 0h3m1 0h3m13 0h3m-99 1h3m9 0h3m10 0h3m12 0h3m-1 0h3m9 0h3m-2 0h3m29 0h3m1 0h3m7 0h3m34 0h3m-171 1h3m34 0h3m3 0h3m-2 0h3m17 0h3m6 0h3m-2 0h3m7 0h3m3 0h3m7 0h3m14 0h3m29 0h3m36 0h3m-184 1h3m18 0h3m4 0h3m-2 0h3m4 0h3m29 0h3m-1 0h3m2 0h3m1 0h3m22 0h3m31 0h3m17 0h3m-165 1h3m24 0h3m-2 0h3m10 0h3m0 0h3m3 0h3m8 0h3m3 0h3m7 0h3m16 0h3m-2 0h3m11 0h3m-1 0h3m4 0h3m-106 1h3m35 0h3m1 0h3m8 0h3m6 0h3m25 0h3m0 0h3m-2 0h3m-2 0h3m11 0h3m24 0h3m-154 1h3m32 0h3m1 0h3m13 0h3m5 0h3m10 0h3m1 0h3m2 0h3m0 0h3m11 0h3m3 0h3m2 0h3m-1 0h3m75 0h3m-204 1h3m0 0h3m46 0h3m-2 0h3m8 0h3m9 0h3m20 0h3m-2 0h3m30 0h3m-133 1h3m19 0h3m5 0h3m24 0h3m-2 0h3m3 0h3m-1 0h3m12 0h3m0 0h3m5 0h3m10 0h3m3 0h3m36 0h3m16 0h3m20 0h3m-194 1h3m11 0h3m10 0h3m7 0h3m2 0h3m-1 0h3m15 0h3m-2 0h3m9 0h3m10 0h3m0 0h3m1 0h3m9 0h3m4 0h3m5 0h3m1 0h3m66 0h3m-190 1h3m42 0h3m1 0h3m51 0h3m3 0h3m83 0h3m-213 1h3m7 0h3m38 0h3m4 0h3m5 0h3m5 0h3m2 0h3m-2 0h3m4 0h3m15 0h3m-2 0h3m27 0h3m64 0h3m-161 1h3m-2 0h3m9 0h3m40 0h3m14 0h3m27 0h3m-127 1h3m11 0h3m-2 0h3m12 0h3m4 0h3m-1 0h3m-1 0h3m4 0h3m11 0h3m14 0h3m57 0h3m-224 1h3m63 0h3m27 0h3m-2 0h3m6 0h3m1 0h3m1 0h3m15 0h3m5 0h3m21 0h3m0 0h3m-2 0h3m15 0h3m14 0h3m23 0h3m9 0h3m29 0h3m-187 1h3m0 0h3m1 0h3m8 0h3m6 0h3m3 0h3m35 0h3m-2 0h3m-1 0h3m4 0h3m1 0h3m2 0h3m-1 0h3m-1 0h3m3 0h3m3 0h3m7 0h3m2 0h3m15 0h3m-206 1h3m38 0h3m-1 0h3m10 0h3m-1 0h3m5 0h3m6 0h3m8 0h3m2 0h3m0 0h3m1 0h3m2 0h3m9 0h3m18 0h3m2 0h3m25 0h3m24 0h3m-194 1h3m7 0h3m53 0h3m2 0h3m0 0h3m15 0h3m9 0h3m12 0h3m1 0h3m5 0h3m-2 0h3m14 0h3m-2 0h3m3 0h3m25 0h3m43 0h3m-214 1h3m5 0h3m9 0h3m4 0h3m3 0h3m2 0h3m10 0h3m-1 0h3m3 0h3m17 0h3m8 0h3m35 0h3m-1 0h3m1 0h3m-2 0h3m11 0h3m-141 1h3m13 0h3m29 0h3m31 0h3m16 0h3m-1 0h3m30 0h3m17 0h3m22 0h3m-163 1h3m13 0h3m0 0h3m-1 0h3m14 0h3m3 0h3m18 0h3m12 0h3m2 0h3m0 0h3m1 0h3m31 0h3m-219 1h3m75 0h3m17 0h3m23 0h3m-1 0h3m2 0h3m18 0h3m25 0h3m-1 0h3m-114 1h3m8 0h3m33 0h3m-1 0h3m-1 0h3m13 0h3m7 0h3m29 0h3m8 0h3m2 0h3m-147 1h3m40 0h3m6 0h3m0 0h3m25 0h3m-1 0h3m20 0h3m4 0h3m6 0h3m-2 0h3m3 0h3m52 0h3m-2 0h3m12 0h3m-190 1h3m-2 0h3m10 0h3m-2 0h3m23 0h3m1 0h3m13 0h3m-2 0h3m1 0h3m18 0h3m2 0h3m8 0h3m52 0h3m-138 1h3m3 0h3m14 0h3m-1 0h3m-1 0h3m6 0h3m33 0h3m-2 0h3m16 0h3m30 0h3m37 0h3m33 0h3m-203 1h3m8 0h3m10 0h3m29 0h3m34 0h3m29 0h3m60 0h3m-202 1h3m7 0h3m6 0h3m11 0h3m16 0h3m6 0h3m23 0h3m57 0h3m29 0h3m-253 1h3m70 0h3m1 0h3m3 0h3m8 0h3m9 0h3m-2 0h3m0 0h3m25 0h3m5 0h3m2 0h3m23 0h3m-121 1h3m4 0h3m4 0h3m0 0h3m3 0h3m25 0h3m14 0h3m39 0h3m1 0h3m-164 1h3m26 0h3m56 0h3m-62 1h3m25 0h3m4 0h3m3 0h3m7 0h3m4 0h3m-2 0h3m-1 0h3m4 0h3m23 0h3m-134 1h3m63 0h3m-2 0h3m67 0h3m10 0h3m4 0h3m-2 0h3m8 0h3m4 0h3m55 0h3m17 0h3m-217 1h3m3 0h3m21 0h3m22 0h3m-2 0h3m14 0h3m28 0h3m7 0h3m1 0h3m1 0h3m6 0h3m24 0h3m72 0h3m-246 1h3m29 0h3m11 0h3m13 0h3m-2 0h3m11 0h3m68 0h3m-137 1h3m11 0h3m13 0h3m51 0h3m0 0h3m8 0h3m0 0h3m1 0h3m13 0h3m0 0h3m6 0h3m47 0h3m-226 1h3m70 0h3m15 0h3m12 0h3m53 0h3m55 0h3m-197 1h3m20 0h3m3 0h3m4 0h3m4 0h3m4 0h3m-2 0h3m15 0h3m21 0h3m2 0h3m2 0h3m-1 0h3m7 0h3m24 0h3m59 0h3m18 0h3m-213 1h3m1 0h3m2 0h3m6 0h3m15 0h3m22 0h3m1 0h3m28 0h3m7 0h3m8 0h3m-143 1h3m16 0h3m1 0h3m0 0h3m2 0h3m6 0h3m16 0h3m2 0h3m7 0h3m1 0h3m27 0h3m-56 1h3m26 0h3m7 0h3m5 0h3m20 0h3m1 0h3m-104 1h3m-1 0h3m12 0h3m-2 0h3m5 0h3m7 0h3m44 0h3m-1 0h3m-2 0h3m-2 0h3m-1 0h3m2 0h3m51 0h3m-140 1h3m21 0h3m6 0h3m14 0h3m4 0h3m11 0h3m8 0h3m2 0h3m-1 0h3m9 0h3m39 0h3m6 0h3m16 0h3m-237 1h3m27 0h3m2 0h3m31 0h3m28 0h3m31 0h3m1 0h3m-1 0h3m27 0h3m-182 1h3m44 0h3m0 0h3m9 0h3m6 0h3m1 0h3m9 0h3m21 0h3m37 0h3m-147 1h3m55 0h3m11 0h3m-2 0h3m11 0h3m31 0h3m19 0h3m40 0h3m-132 1h3m0 0h3m11 0h3m2 0h3m22 0h3m20 0h3m0 0h3m4 0h3m4 0h3m15 0h3m25 0h3m43 0h3m0 0h3m-180 1h3m40 0h3m12 0h3m22 0h3m0 0h3m-1 0h3m0 0h3m42 0h3m-175 1h3m36 0h3m44 0h3m5 0h3m21 0h3m3 0h3m19 0h3m-135 1h3m22 0h3m11 0h3m4 0h3m6 0h3m48 0h3m42 0h3m67 0h3m-262 1h3m15 0h3m87 0h3m9 0h3m45 0h3m-136 1h3m3 0h3m-1 0h3m-2 0h3m-1 0h3m4 0h3m4 0h3m18 0h3m31 0h3m8 0h3m5 0h3m13 0h3m69 0h3m55 0h3m-255 1h3m0 0h3m6 0h3m47 0h3m10 0h3m3 0h3m2 0h3m-2 0h3m17 0h3m-113 1h3m80 0h3m29 0h3m-156 1h3m44 0h3m6 0h3m5 0h3m-1 0h3m34 0h3m-2 0h3m-1 0h3m47 0h3m17 0h3m10 0h3m-159 1h3m11 0h3m2 0h3m5 0h3m3 0h3m38 0h3m90 0h3m-183 1h3m28 0h3m57 0h3m14 0h3m36 0h3m36 0h3m9 0h3m29 0h3m18 0h3m-283 1h3m52 0h3m3 0h3m12 0h3m16 0h3m2 0h3m13 0h3m26 0h3m8 0h3m-94 1h3m8 0h3m18 0h3m29 0h3m49 0h3m17 0h3m24 0h3m15 0h3m-223 1h3m23 0h3m10 0h3m23 0h3m-2 0h3m42 0h3m10 0h3m9 0h3m39 0h3m85 0h3m-288 1h3m7 0h3m29 0h3m13 0h3m-2 0h3m38 0h3m1 0h3m2 0h3m5 0h3m5 0h3m10 0h3m29 0h3m13 0h3m64 0h3m-222 1h3m3 0h3m-1 0h3m0 0h3m17 0h3m20 0h3m13 0h3m31 0h3m9 0h3m6 0h3m-123 1h3m-1 0h3m-2 0h3m-1 0h3m25 0h3m12 0h3m7 0h3m1 0h3m-1 0h3m7 0h3m4 0h3m1 0h3m128 0h3m-220 1h3m1 0h3m6 0h3m18 0h3m39 0h3m2 0h3m5 0h3m3 0h3m89 0h3m-174 1h3m27 0h3m27 0h3m5 0h3m4 0h3m14 0h3m82 0h3m-200 1h3m11 0h3m54 0h3m8 0h3m17 0h3m23 0h3m-1 0h3m-116 1h3m46 0h3m0 0h3m8 0h3m102 0h3m33 0h3m-245 1h3m4 0h3m7 0h3m20 0h3m10 0h3m14 0h3m20 0h3m90 0h3m17 0h3m22 0h3m-240 1h3m20 0h3m3 0h3m5 0h3m25 0h3m35 0h3m5 0h3m27 0h3m-122 1h3m34 0h3m16 0h3m14 0h3m6 0h3m-81 1h3m18 0h3m3 0h3m28 0h3m6 0h3m0 0h3m37 0h3m45 0h3m8 0h3m0 0h3m-201 1h3m26 0h3m43 0h3m5 0h3m8 0h3m2 0h3m2 0h3m7 0h3m11 0h3m66 0h3m-177 1h3m13 0h3m0 0h3m6 0h3m5 0h3m18 0h3m2 0h3m12 0h3m-96 1h3m39 0h3m13 0h3m14 0h3m3 0h3m1 0h3m-1 0h3m4 0h3m34 0h3m-132 1h3m7 0h3m4 0h3m-2 0h3m7 0h3m-2 0h3m1 0h3m9 0h3m8 0h3m24 0h3m-2 0h3m8 0h3m60 0h3m2 0h3m13 0h3m-197 1h3m20 0h3m16 0h3m9 0h3m23 0h3m47 0h3m82 0h3m11 0h3m-234 1h3m56 0h3m4 0h3m11 0h3m15 0h3m0 0h3m28 0h3m137 0h3m-260 1h3m6 0h3m7 0h3m-1 0h3m0 0h3m24 0h3m-1 0h3m21 0h3m0 0h3m8 0h3m125 0h3m-232 1h3m9 0h3m8 0h3m9 0h3m0 0h3m-1 0h3m8 0h3m16 0h3m5 0h3m10 0h3m11 0h3m39 0h3m76 0h3m26 0h3m-257 1h3m4 0h3m1 0h3m15 0h3m-2 0h3m13 0h3m-1 0h3m35 0h3m10 0h3m4 0h3m136 0h3m-259 1h3m23 0h3m0 0h3m38 0h3m-1 0h3m1 0h3m9 0h3m9 0h3m-1 0h3m11 0h3m112 0h3m0 0h3m-193 1h3m18 0h3m15 0h3m2 0h3m2 0h3m18 0h3m10 0h3m-115 1h3m-2 0h3m21 0h3m-1 0h3m8 0h3m1 0h3m3 0h3m12 0h3m-60 1h3m18 0h3m8 0h3m-2 0h3m-1 0h3m-2 0h3m1 0h3m20 0h3m24 0h3m22 0h3m41 0h3m74 0h3m-222 1h3m13 0h3m-2 0h3m23 0h3m-63 1h3m0 0h3m5 0h3m14 0h3m6 0h3m14 0h3m8 0h3m-56 1h3m2 0h3m4 0h3m12 0h3m2 0h3m121 0h3m49 0h3m34 0h3m-221 1h3m20 0h3m-2 0h3m-2 0h3m14 0h3m6 0h3m0 0h3m96 0h3m-207 1h3m23 0h3m11 0h3m3 0h3m-1 0h3m0 0h3m0 0h3m2 0h3m-53 1h3m7 0h3m1 0h3m0 0h3m14 0h3m0 0h3m0 0h3m0 0h3m7 0h3m6 0h3m144 0h3m-228 1h3m35 0h3m1 0h3m10 0h3m186 0h3m49 0h3m-291 1h3m3 0h3m19 0h3m12 0h3m-41 1h3m1 0h3m17 0h3m1 0h3m-1 0h3m26 0h3m52 0h3m34 0h3m-167 1h3m11 0h3m14 0h3m-2 0h3m1 0h3m20 0h3m10 0h3m10 0h3m-1 0h3m54 0h3m-148 1h3m9 0h3m-1 0h3m28 0h3m5 0h3m1 0h3m41 0h3m2 0h3m11 0h3m80 0h3m-181 1h3m2 0h3m16 0h3m1 0h3m0 0h3m7 0h3m5 0h3m4 0h3m38 0h3m94 0h3m25 0h3m-233 1h3m16 0h3m32 0h3m-2 0h3m0 0h3m-1 0h3m98 0h3m75 0h3m-230 1h3m4 0h3m6 0h3m3 0h3m6 0h3m19 0h3m7 0h3m-80 1h3m17 0h3m14 0h3m-2 0h3m9 0h3m15 0h3m-60 1h3m18 0h3m1 0h3m0 0h3m5 0h3m11 0h3m75 0h3m-118 1h3m45 0h3m97 0h3m73 0h3m-269 1h3m0 0h3m23 0h3m3 0h3m9 0h3m2 0h3m5 0h3m5 0h3m147 0h3m-179 1h3m2 0h3m-2 0h3m18 0h3m10 0h3m17 0h3m68 0h3m10 0h3m-180 1h3m23 0h3m6 0h3m-1 0h3m5 0h3m4 0h3m10 0h3m7 0h3m76 0h3m72 0h3m-233 1h3m16 0h3m1 0h3m7 0h3m0 0h3m2 0h3m9 0h3m0 0h3m175 0h3m1 0h3m-220 1h3m2 0h3m7 0h3m11 0h3m40 0h3m-94 1h3m15 0h3m9 0h3m5 0h3m7 0h3m5 0h3m11 0h3m10 0h3m-89 1h3m2 0h3m18 0h3m22 0h3m2 0h3m-2 0h3m168 0h3m-228 1h3m20 0h3m29 0h3m73 0h3m46 0h3m-178 1h3m29 0h3m7 0h3m-2 0h3m4 0h3m-1 0h3m11 0h3m29 0h3m21 0h3m-126 1h3m3 0h3m-2 0h3m3 0h3m2 0h3m20 0h3m33 0h3m62 0h3m21 0h3m-162 1h3m9 0h3m5 0h3m7 0h3m20 0h3m4 0h3m-2 0h3m42 0h3m-98 1h3m4 0h3m9 0h3m68 0h3m-112 1h3m20 0h3m21 0h3m83 0h3m26 0h3m-174 1h3m5 0h3m40 0h3m1 0h3m-61 1h3m30 0h3m6 0h3m4 0h3m153 0h3m0 0h3m-212 1h3m-2 0h3m0 0h3m10 0h3m-2 0h3m4 0h3m1 0h3m-2 0h3m11 0h3m4 0h3m83 0h3m-104 1h3m5 0h3m6 0h3m15 0h3m2 0h3m19 0h3m4 0h3m5 0h3m154 0h3m-264 1h3m6 0h3m1 0h3m7 0h3m6 0h3m23 0h3m-1 0h3m-1 0h3m8 0h3m58 0h3m-123 1h3m100 0h3m25 0h3m4 0h3m29 0h3m18 0h3m-206 1h3m20 0h3m12 0h3m1 0h3m1 0h3m1 0h3m9 0h3m11 0h3m11 0h3m62 0h3m1 0h3m-127 1h3m193 0h3m-226 1h3m9 0h3m4 0h3m1 0h3m8 0h3m19 0h3m27 0h3m14 0h3m-97 1h3m-1 0h3m-1 0h3m6 0h3m21 0h3m11 0h3m4 0h3m-87 1h3m15 0h3m18 0h3m1 0h3m0 0h3m1 0h3m8 0h3m-2 0h3m7 0h3m134 0h3m-211 1h3m25 0h3m4 0h3m-2 0h3m1 0h3m2 0h3m6 0h3m0 0h3m-2 0h3m1 0h3m68 0h3m-101 1h3m12 0h3m32 0h3m15 0h3m43 0h3m-155 1h3m12 0h3m-2 0h3m5 0h3m0 0h3m8 0h3m0 0h3m6 0h3m1 0h3m6 0h3m35 0h3m106 0h3m56 0h3m-271 1h3m36 0h3m9 0h3m18 0h3m24 0h3m-86 1h3m5 0h3m16 0h3m0 0h3m9 0h3m27 0h3m19 0h3m-110 1h3m14 0h3m4 0h3m3 0h3m-2 0h3m4 0h3m23 0h3m-1 0h3m61 0h3m26 0h3m14 0h3m-180 1h3m-1 0h3m13 0h3m5 0h3m3 0h3m7 0h3m-2 0h3m56 0h3m11 0h3m-115 1h3m20 0h3m-1 0h3m5 0h3m5 0h3m10 0h3m4 0h3m-1 0h3m0 0h3m11 0h3m20 0h3m15 0h3m15 0h3m-106 1h3m-2 0h3m4 0h3m-2 0h3m14 0h3m6 0h3m-79 1h3m6 0h3m5 0h3m9 0h3m2 0h3m-2 0h3m18 0h3m5 0h3m12 0h3m60 0h3m-131 1h3m17 0h3m7 0h3m5 0h3m2 0h3m12 0h3m7 0h3m29 0h3m18 0h3m-138 1h3m0 0h3m1 0h3m10 0h3m11 0h3m11 0h3m-2 0h3m3 0h3m5 0h3m-65 1h3m9 0h3m-1 0h3m1 0h3m23 0h3m-2 0h3m79 0h3m38 0h3m0 0h3m-173 1h3m1 0h3m1 0h3m0 0h3m12 0h3m7 0h3m0 0h3m9 0h3m6 0h3m-1 0h3m1 0h3m12 0h3m43 0h3m40 0h3m-143 1h3m9 0h3m-2 0h3m8 0h3m9 0h3m7 0h3m0 0h3m12 0h3m-99 1h3m-2 0h3m1 0h3m3 0h3m11 0h3m5 0h3m-1 0h3m2 0h3m22 0h3m23 0h3m63 0h3m-2 0h3m1 0h3m-160 1h3m29 0h3m8 0h3m10 0h3m-59 1h3m1 0h3m18 0h3m15 0h3m0 0h3m-2 0h3m24 0h3m0 0h3m-79 1h3m3 0h3m6 0h3m16 0h3m18 0h3m1 0h3m0 0h3m1 0h3m32 0h3m49 0h3m-147 1h3m8 0h3m-2 0h3m9 0h3m0 0h3m1 0h3m24 0h3m13 0h3m49 0h3m-135 1h3m0 0h3m-2 0h3m6 0h3m0 0h3m4 0h3m-2 0h3m-1 0h3m0 0h3m4 0h3m-1 0h3m6 0h3m28 0h3m-90 1h3m25 0h3m4 0h3m2 0h3m1 0h3m9 0h3m3 0h3m18 0h3m-80 1h3m17 0h3m12 0h3m7 0h3m9 0h3m-2 0h3m3 0h3m27 0h3m-87 1h3m17 0h3m18 0h3m9 0h3m-56 1h3m5 0h3m33 0h3m-2 0h3m14 0h3m16 0h3m107 0h3m-196 1h3m4 0h3m-1 0h3m-1 0h3m4 0h3m5 0h3m-1 0h3m58 0h3m67 0h3m48 0h3m-224 1h3m29 0h3m5 0h3m0 0h3m-2 0h3m0 0h3m67 0h3m-124 1h3m13 0h3m18 0h3m2 0h3m19 0h3m17 0h3m-87 1h3m-1 0h3m7 0h3m11 0h3m0 0h3m27 0h3m11 0h3m-53 1h3m0 0h3m6 0h3m4 0h3m6 0h3m0 0h3m-1 0h3m27 0h3m-73 1h3m4 0h3m2 0h3m-1 0h3m13 0h3m-2 0h3m25 0h3m2 0h3m4 0h3m-77 1h3m11 0h3m27 0h3m3 0h3m22 0h3m12 0h3m-72 1h3m4 0h3m3 0h3m8 0h3m4 0h3m-68 1h3m21 0h3m1 0h3m-1 0h3m78 0h3m11 0h3m70 0h3m4 0h3m-203 1h3m5 0h3m23 0h3m-2 0h3m1 0h3m0 0h3m9 0h3m58 0h3m19 0h3m26 0h3m-154 1h3m8 0h3m4 0h3m8 0h3m14 0h3m-1 0h3m1 0h3m-67 1h3m11 0h3m5 0h3m19 0h3m11 0h3m10 0h3m1 0h3m4 0h3m14 0h3m-110 1h3m1 0h3m0 0h3m2 0h3m3 0h3m6 0h3m4 0h3m-2 0h3m7 0h3m0 0h3m-48 1h3m2 0h3m7 0h3m20 0h3m-1 0h3m40 0h3m-71 1h3m1 0h3m3 0h3m14 0h3m30 0h3m2 0h3m-58 1h3m70 0h3m48 0h3m-147 1h3m9 0h3m4 0h3m31 0h3m-1 0h3m5 0h3m71 0h3m-135 1h3m-1 0h3m7 0h3m36 0h3m0 0h3m9 0h3m72 0h3m-151 1h3m0 0h3m4 0h3m2 0h3m0 0h3m2 0h3m3 0h3m5 0h3m2 0h3m22 0h3m-71 1h3m81 0h3m83 0h3m-158 1h3m3 0h3m-27 1h3m45 0h3m-2 0h3m36 0h3m-46 1h3m1 0h3m142 0h3m-170 1h3m19 0h3m69 0h3m-119 1h3m-1 0h3m4 0h3m23 0h3m-2 0h3m14 0h3m-62 1h3m1 0h3m3 0h3m15 0h3m0 0h3m96 0h3m-133 1h3m1 0h3m5 0h3m9 0h3m0 0h3m0 0h3m-1 0h3m-3 1h3m0 0h3m23 0h3m1 0h3m40 0h3m44 0h3m-78 1h3m25 0h3m-89 1h3m71 0h3m-96 1h3m3 0h3m1 0h3m5 0h3m7 0h3m7 0h3m71 0h3m-108 1h3m26 0h3m-31 1h3m10 0h3m-15 1h3m-15 1h3m17 0h3m16 0h3m-10 1h3m-19 1h3m23 0h3m-8 1h3m39 0h3m-45 1h3m14 1h3m-44 1h3m2 1h3m15 0h3m26 0h3m48 1h3m-99 1h3m4 0h3m23 1h3m14 0h3m28 1h3m-59 3h3m-18 4h3m-30 1h3m1 2h3m-9 1h3m26 1h3m15 3h3m20 8h3m-69 1h3" stroke="#0a0aff" stroke-width="2.8" fill="none" opacity="0.85"/>
<path transform="scale(.4)" d="M1423 1619h3m-38 38h3m-7 4h3m45 7h3m4 4h3m-104 5h3m70 2h3m-103 2h3m64 3h3m19 0h3m2 0h3m-12 4h3m-82 2h3m24 2h3m8 0h3m27 3h3m-51 4h3m-21 2h3m35 1h3m-60 2h3m130 0h3m-90 2h3m-57 5h3m60 0h3m-45 6h3m27 1h3m-57 3h3m59 0h3m-60 2h3m16 1h3m54 0h3m-30 4h3m-86 2h3m48 0h3m-7 2h3m-22 1h3m3 2h3m26 0h3m6 0h3m0 0h3m-37 1h3m-30 3h3m19 0h3m61 0h3m2 0h3m-56 1h3m-51 1h3m15 0h3m36 1h3m-18 1h3m0 0h3m40 0h3m-52 1h3m28 0h3m-51 1h3m-7 1h3m52 0h3m-36 1h3m-25 1h3m29 0h3m-3 1h3m-2 0h3m3 0h3m-18 1h3m-48 1h3m22 0h3m66 0h3m-85 1h3m-2 0h3m20 0h3m33 0h3m-46 1h3m49 0h3m-22 1h3m2 0h3m-43 1h3m0 0h3m5 0h3m22 0h3m0 0h3m-74 1h3m28 0h3m13 0h3m-15 1h3m24 0h3m4 0h3m-17 1h3m2 0h3m-52 1h3m29 0h3m0 0h3m7 0h3m11 0h3m35 0h3m-66 1h3m7 0h3m7 0h3m-82 1h3m33 0h3m5 0h3m19 0h3m9 0h3m46 0h3m-84 1h3m-2 0h3m10 0h3m-61 1h3m14 0h3m-1 0h3m9 0h3m4 0h3m-10 1h3m16 0h3m2 0h3m22 0h3m-98 1h3m37 0h3m19 0h3m6 0h3m18 0h3m-73 1h3m6 0h3m21 0h3m15 0h3m6 0h3m-54 1h3m-1 0h3m11 0h3m-1 0h3m0 0h3m22 0h3m-2 0h3m-63 1h3m6 0h3m16 0h3m3 0h3m4 0h3m-1 0h3m5 0h3m12 0h3m-1 0h3m-74 1h3m10 0h3m20 0h3m9 0h3m16 0h3m-77 1h3m18 0h3m1 0h3m25 0h3m4 0h3m-2 0h3m9 0h3m-49 1h3m3 0h3m5 0h3m-1 0h3m9 0h3m-22 1h3m9 0h3m-1 0h3m6 0h3m-33 1h3m-1 0h3m38 0h3m1 0h3m9 0h3m-74 1h3m12 0h3m24 0h3m-87 1h3m5 0h3m14 0h3m31 0h3m1 0h3m2 0h3m3 0h3m-18 1h3m-59 1h3m29 0h3m23 0h3m14 0h3m-56 1h3m2 0h3m4 0h3m-2 0h3m10 0h3m6 0h3m10 0h3m3 0h3m-46 1h3m13 0h3m2 0h3m1 0h3m4 0h3m15 0h3m-52 1h3m5 0h3m3 0h3m-2 0h3m11 0h3m4 0h3m-2 0h3m16 0h3m-88 1h3m26 0h3m18 0h3m0 0h3m2 0h3m-41 1h3m4 0h3m8 0h3m6 0h3m28 0h3m-54 1h3m-1 0h3m14 0h3m10 0h3m10 0h3m-1 0h3m-1 0h3m-2 0h3m-70 1h3m3 0h3m3 0h3m-2 0h3m-2 0h3m-2 0h3m-2 0h3m0 0h3m9 0h3m6 0h3m14 0h3m-2 0h3m-64 1h3m9 0h3m44 0h3m0 0h3m-81 1h3m22 0h3m3 0h3m27 0h3m0 0h3m2 0h3m-2 0h3m-67 1h3m13 0h3m5 0h3m-1 0h3m4 0h3m13 0h3m9 0h3m-86 1h3m33 0h3m-1 0h3m-1 0h3m10 0h3m26 0h3m10 0h3m-67 1h3m48 0h3m11 0h3m-86 1h3m1 0h3m-1 0h3m7 0h3m14 0h3m15 0h3m8 0h3m8 0h3m-78 1h3m21 0h3m10 0h3m9 0h3m2 0h3m12 0h3m-47 1h3m0 0h3m6 0h3m3 0h3m0 0h3m22 0h3m-77 1h3m0 0h3m8 0h3m4 0h3m38 0h3m8 0h3m4 0h3m0 0h3m-57 1h3m19 0h3m12 0h3m-44 1h3m22 0h3m8 0h3m7 0h3m-77 1h3m22 0h3m19 0h3m-44 1h3m8 0h3m4 0h3m26 0h3m0 0h3m2 0h3m-45 1h3m-1 0h3m6 0h3m29 0h3m-2 0h3m-66 1h3m11 0h3m7 0h3m1 0h3m-2 0h3m21 0h3m-1 0h3m4 0h3m-53 1h3m9 0h3m16 0h3m10 0h3m-55 1h3m12 0h3m13 0h3m-1 0h3m3 0h3m0 0h3m8 0h3m8 0h3m-52 1h3m0 0h3m56 0h3m-81 1h3m4 0h3m1 0h3m7 0h3m-18 1h3m4 0h3m1 0h3m12 0h3m13 0h3m2 0h3m0 0h3m12 0h3m-95 1h3m30 0h3m-2 0h3m-22 1h3m31 0h3m-2 0h3m6 0h3m33 0h3m3 0h3m-100 1h3m22 0h3m5 0h3m-1 0h3m7 0h3m-2 0h3m43 0h3m-84 1h3m1 0h3m8 0h3m15 0h3m3 0h3m8 0h3m3 0h3m6 0h3m11 0h3m-83 1h3m2 0h3m1 0h3m2 0h3m-2 0h3m7 0h3m1 0h3m35 0h3m-71 1h3m10 0h3m7 0h3m5 0h3m19 0h3m-61 1h3m3 0h3m-2 0h3m25 0h3m-1 0h3m18 0h3m-69 1h3m2 0h3m9 0h3m3 0h3m29 0h3m-45 1h3m11 0h3m0 0h3m5 0h3m2 0h3m-28 1h3m11 0h3m11 0h3m-2 0h3m-48 1h3m7 1h3m5 0h3m6 0h3m16 0h3m-40 1h3m16 0h3m13 0h3m-58 1h3m18 0h3m4 0h3m11 0h3m5 0h3m9 0h3m-30 1h3m20 0h3m10 0h3m-52 1h3m13 0h3m-1 0h3m4 0h3m7 0h3m-65 1h3m28 0h3m3 0h3m39 0h3m-48 1h3m-41 1h3m37 0h3m7 0h3m1 1h3m-18 2h3m1 0h3m-1 0h3m-22 1h3m-2 0h3m16 0h3m-57 1h3m18 0h3m1 0h3m-8 1h3m18 0h3m27 0h3m-35 2h3m8 0h3m-33 2h3m15 0h3m3 0h3m-40 1h3m29 1h3m-2 0h3m-60 1h3m38 0h3m-42 1h3m32 0h3m17 0h3m-28 5h3m-4 1h3m57 0h3m-56 1h3m6 0h3m3 0h3m-36 1h3m-1 3h3m14 1h3m-30 3h3m22 0h3m-30 1h3m30 0h3m-14 1h3m-3 1h3m34 0h3m-45 1h3m-5 3h3m60 0h3m-76 1h3m61 0h3m-58 4h3m-7 6h3m67 0h3m-42 1h3m-34 1h3m4 0h3m2 0h3m28 2h3m-64 1h3m27 3h3m13 1h3m-31 1h3m6 0h3m47 0h3m-71 1h3m-2 0h3m14 0h3m-4 2h3m11 1h3m-13 1h3m-3 1h3m11 0h3m-52 2h3m30 1h3m-7 2h3m39 0h3m4 0h3m-57 1h3m46 0h3m16 0h3m-42 2h3m-10 1h3m-14 1h3m18 0h3m-22 1h3m-28 1h3m14 1h3m30 0h3m-42 1h3m1 0h3m29 1h3m-20 1h3m-5 2h3m-19 3h3m-16 2h3m-5 2h3m20 1h3m-29 1h3m14 1h3m3 0h3m-1 4h3m-17 6h3m-14 6h3m7 6h3m15 2h3" stroke="#00c8e6" stroke-width="2.8" fill="none" opacity="0.85"/>
<path transform="scale(.4)" d="M1416 1626h3m10 4h3m-23 13h3m-23 10h3m28 0h3m-30 6h3m36 3h3m-43 1h3m-14 2h3m30 3h3m-37 3h3m5 3h3m-55 3h3m51 3h3m-12 4h3m-24 2h3m-100 2h3m80 8h3m-7 1h3m-25 2h3m48 0h3m25 0h3m-76 4h3m34 0h3m-47 4h3m-45 1h3m99 0h3m-84 3h3m49 1h3m-61 1h3m41 4h3m-87 5h3m26 1h3m-1 3h3m74 1h3m-26 1h3m-4 1h3m-20 2h3m7 0h3m-43 1h3m16 3h3m-58 1h3m21 1h3m34 0h3m45 2h3m-77 1h3m6 0h3m-11 1h3m15 1h3m11 0h3m-1 0h3m12 1h3m-99 3h3m35 0h3m30 0h3m-59 1h3m75 1h3m-47 2h3m29 0h3m-50 1h3m13 0h3m-18 1h3m9 0h3m11 0h3m29 0h3m7 0h3m-89 1h3m19 0h3m61 0h3m-54 1h3m-17 1h3m9 0h3m-1 0h3m13 0h3m-80 1h3m21 0h3m4 0h3m13 0h3m6 0h3m11 0h3m-1 0h3m5 0h3m-1 0h3m-37 1h3m28 0h3m-41 1h3m36 0h3m15 0h3m-60 1h3m30 0h3m2 0h3m-44 1h3m5 0h3m18 0h3m10 0h3m7 0h3m-48 1h3m2 0h3m0 0h3m9 0h3m11 0h3m-34 1h3m11 0h3m8 0h3m-37 1h3m-37 1h3m23 0h3m13 0h3m-1 0h3m23 0h3m-59 1h3m13 0h3m1 0h3m6 0h3m-2 0h3m5 0h3m20 0h3m-1 0h3m-48 1h3m8 0h3m38 0h3m-37 1h3m0 0h3m-1 0h3m15 0h3m-56 1h3m1 0h3m14 0h3m-1 0h3m1 0h3m-1 0h3m12 0h3m-1 0h3m-55 1h3m3 0h3m12 0h3m5 0h3m-1 0h3m-1 0h3m13 0h3m2 0h3m-58 1h3m3 0h3m5 0h3m0 0h3m0 0h3m-1 0h3m10 0h3m21 0h3m2 0h3m-52 1h3m-1 0h3m4 0h3m3 0h3m3 0h3m-1 0h3m-2 0h3m8 0h3m15 0h3m109 0h3m-200 1h3m29 0h3m2 0h3m-1 0h3m-1 0h3m6 0h3m-2 0h3m16 0h3m12 0h3m-102 1h3m37 0h3m9 0h3m1 0h3m3 0h3m12 0h3m-78 1h3m34 0h3m-1 0h3m14 0h3m2 0h3m4 0h3m-2 0h3m2 0h3m3 0h3m-54 1h3m-1 0h3m-2 0h3m17 0h3m8 0h3m1 0h3m-1 0h3m-1 0h3m5 0h3m-66 1h3m0 0h3m8 0h3m-2 0h3m-2 0h3m14 0h3m8 0h3m12 0h3m11 0h3m-99 1h3m20 0h3m4 0h3m10 0h3m6 0h3m7 0h3m15 0h3m-47 1h3m-2 0h3m4 0h3m3 0h3m9 0h3m5 0h3m6 0h3m-64 1h3m17 0h3m0 0h3m-1 0h3m-1 0h3m-1 0h3m12 0h3m-1 0h3m-1 0h3m60 0h3m-123 1h3m11 0h3m13 0h3m2 0h3m3 0h3m-1 0h3m-2 0h3m16 0h3m-2 0h3m7 0h3m2 0h3m-2 0h3m-85 1h3m20 0h3m4 0h3m13 0h3m0 0h3m15 0h3m-57 1h3m7 0h3m5 0h3m-2 0h3m-2 0h3m0 0h3m-1 0h3m8 0h3m4 0h3m-2 0h3m3 0h3m-2 0h3m-2 0h3m-95 1h3m50 0h3m1 0h3m2 0h3m4 0h3m2 0h3m9 0h3m5 0h3m-66 1h3m10 0h3m-2 0h3m3 0h3m0 0h3m-1 0h3m8 0h3m7 0h3m5 0h3m5 0h3m7 0h3m6 0h3m-123 1h3m44 0h3m-2 0h3m0 0h3m-2 0h3m-1 0h3m5 0h3m-2 0h3m0 0h3m7 0h3m-2 0h3m17 0h3m2 0h3m-1 0h3m-65 1h3m3 0h3m18 0h3m0 0h3m0 0h3m6 0h3m6 0h3m-59 1h3m6 0h3m3 0h3m-2 0h3m-2 0h3m17 0h3m-1 0h3m1 0h3m-2 0h3m-2 0h3m-51 1h3m3 0h3m3 0h3m4 0h3m3 0h3m5 0h3m-2 0h3m-1 0h3m1 0h3m12 0h3m-1 0h3m3 0h3m-63 1h3m1 0h3m6 0h3m0 0h3m4 0h3m9 0h3m2 0h3m-1 0h3m102 0h3m-132 1h3m0 0h3m-1 0h3m2 0h3m-1 0h3m-1 0h3m1 0h3m3 0h3m8 0h3m-64 1h3m-2 0h3m8 0h3m0 0h3m4 0h3m-2 0h3m2 0h3m-43 1h3m15 0h3m10 0h3m4 0h3m0 0h3m18 0h3m-1 0h3m15 0h3m11 0h3m-92 1h3m-2 0h3m5 0h3m17 0h3m-1 0h3m-1 0h3m0 0h3m8 0h3m1 0h3m-58 1h3m4 0h3m10 0h3m0 0h3m2 0h3m6 0h3m4 0h3m-2 0h3m3 0h3m-2 0h3m2 0h3m-53 1h3m-1 0h3m2 0h3m10 0h3m2 0h3m0 0h3m-1 0h3m15 0h3m5 0h3m4 0h3m6 0h3m16 0h3m-119 1h3m2 0h3m17 0h3m16 0h3m-2 0h3m0 0h3m1 0h3m7 0h3m-32 1h3m-1 0h3m0 0h3m2 0h3m-1 0h3m-1 0h3m3 0h3m11 0h3m-38 1h3m-1 0h3m0 0h3m10 0h3m1 0h3m11 0h3m-1 0h3m6 0h3m1 0h3m-64 1h3m-2 0h3m-2 0h3m7 0h3m10 0h3m2 0h3m14 0h3m-1 0h3m-72 1h3m11 0h3m14 0h3m3 0h3m2 0h3m9 0h3m4 0h3m98 0h3m-158 1h3m8 0h3m0 0h3m4 0h3m0 0h3m14 0h3m-1 0h3m0 0h3m12 0h3m3 0h3m-62 1h3m-1 0h3m1 0h3m0 0h3m21 0h3m1 0h3m0 0h3m-33 1h3m-2 0h3m-2 0h3m3 0h3m4 0h3m-2 0h3m6 0h3m5 0h3m-49 1h3m-1 0h3m3 0h3m15 0h3m11 0h3m25 0h3m33 0h3m-127 1h3m10 0h3m7 0h3m2 0h3m-2 0h3m0 0h3m4 0h3m-2 0h3m12 0h3m6 0h3m-38 1h3m2 0h3m-2 0h3m-1 0h3m1 0h3m1 0h3m4 0h3m7 0h3m0 0h3m-1 0h3m1 0h3m-71 1h3m19 0h3m-2 0h3m10 0h3m13 0h3m5 0h3m134 0h3m-206 1h3m14 0h3m0 0h3m17 0h3m30 0h3m-66 1h3m13 0h3m-2 0h3m1 0h3m1 0h3m9 0h3m1 0h3m-76 1h3m48 0h3m5 0h3m-1 0h3m2 0h3m10 0h3m104 0h3m-138 1h3m3 0h3m-2 0h3m16 0h3m-2 0h3m-49 1h3m-2 0h3m7 0h3m4 0h3m1 0h3m1 0h3m2 0h3m40 0h3m-69 1h3m0 0h3m-2 0h3m7 0h3m12 0h3m12 0h3m21 0h3m-81 1h3m6 0h3m15 0h3m4 0h3m0 0h3m28 0h3m-70 1h3m7 0h3m9 0h3m1 0h3m-1 0h3m9 0h3m-1 0h3m-53 1h3m21 0h3m21 0h3m18 0h3m-81 1h3m18 0h3m3 0h3m-2 0h3m2 0h3m22 0h3m2 0h3m-34 1h3m5 0h3m3 0h3m5 0h3m-28 1h3m10 0h3m-1 0h3m25 0h3m-1 0h3m-61 1h3m-2 0h3m8 0h3m1 0h3m-1 0h3m14 0h3m-52 1h3m27 0h3m34 0h3m-57 1h3m9 0h3m28 0h3m-34 2h3m11 0h3m-35 1h3m-30 1h3m19 0h3m40 0h3m-1 0h3m-22 1h3m-43 2h3m19 0h3m-31 1h3m23 0h3m-1 0h3m20 0h3m7 0h3m-48 1h3m6 1h3m0 0h3m-33 2h3m-15 1h3m16 0h3m6 0h3m-14 2h3m24 1h3m-36 1h3m54 1h3m-58 3h3m38 0h3m-16 1h3m9 1h3m-37 1h3m-21 2h3m20 1h3m22 1h3m-1 1h3m-29 1h3m28 0h3m-2 0h3m-22 2h3m-33 1h3m40 0h3m-48 1h3m91 1h3m-31 1h3m-32 1h3m23 1h3m-54 1h3m-14 1h3m11 1h3m-22 3h3m-1 0h3m8 0h3m31 0h3m-22 1h3m6 0h3m36 0h3m-57 1h3m6 1h3m-1 3h3m36 0h3m-75 1h3m34 1h3m-1 0h3m13 0h3m-32 1h3m20 0h3m-56 1h3m42 0h3m3 0h3m-15 1h3m-34 1h3m-1 0h3m32 0h3m-18 1h3m-3 1h3m7 0h3m-26 1h3m0 0h3m3 0h3m19 0h3m-55 4h3m8 0h3m17 0h3m33 1h3m17 5h3m-60 2h3m-7 2h3m7 0h3m1 0h3m-22 4h3m12 3h3m8 0h3m19 0h3m-36 1h3m-13 2h3m-16 2h3m8 4h3m-24 2h3m35 3h3m1 1h3m-24 3h3m132 18h3" stroke="#1ed21e" stroke-width="2.8" fill="none" opacity="0.85"/>
<path transform="scale(.4)" d="M1402 1664h3m-104 36h3m28 18h3m-39 7h3m-1 12h3m-23 3h3m43 1h3m8 1h3m-55 3h3m26 1h3m-15 1h3m-9 3h3m-20 1h3m19 7h3m-11 1h3m-43 3h3m20 2h3m32 1h3m-58 3h3m23 1h3m-11 2h3m-15 1h3m14 3h3m2 0h3m3 0h3m-38 1h3m5 0h3m0 0h3m17 0h3m1 0h3m-40 1h3m11 0h3m-20 1h3m13 0h3m12 0h3m-40 1h3m-1 0h3m-2 0h3m13 1h3m-15 1h3m2 0h3m8 0h3m0 0h3m-31 1h3m3 0h3m7 0h3m4 0h3m-5 1h3m-4 1h3m12 0h3m-34 1h3m17 0h3m-5 1h3m4 0h3m1 0h3m-40 1h3m5 0h3m6 1h3m7 0h3m8 0h3m-32 1h3m28 0h3m-32 1h3m-1 0h3m7 0h3m13 0h3m17 0h3m4 0h3m-80 1h3m6 0h3m9 0h3m21 0h3m-32 1h3m2 0h3m-21 1h3m11 0h3m4 0h3m-1 0h3m1 0h3m6 0h3m-33 1h3m-11 1h3m2 0h3m19 0h3m-25 1h3m31 0h3m-42 1h3m15 0h3m1 0h3m-11 1h3m27 1h3m-53 1h3m2 0h3m14 0h3m9 0h3m-9 1h3m-36 1h3m16 0h3m5 0h3m23 0h3m-52 1h3m15 0h3m9 1h3m-2 0h3m-47 2h3m9 0h3m6 0h3m9 2h3m-40 1h3m8 0h3m8 0h3m-25 1h3m23 0h3m11 0h3m-25 4h3m-29 1h3m38 0h3m-1 6h3m-33 6h3m-28 1h3m12 5h3m-20 27h3m-7 1h3m-16 1h3m9 1h3m-19 2h3m7 6h3m17 3h3m-21 4h3m-7 1h3m4 1h3m18 0h3m-49 3h3m-17 1h3m8 5h3m38 6h3m-42 3h3m8 8h3m-5 3h3m-8 5h3" stroke="#f0dc00" stroke-width="2.8" fill="none" opacity="0.9"/>
<path transform="scale(.4)" d="M1372 1696h3m-79 69h3m-13 1h3m3 0h3m-5 4h3m-11 3h3m-12 1h3m-15 1h3m6 0h3m-7 1h3m2 0h3m-10 3h3m-2 0h3m-6 2h3m-1 0h3m0 0h3m0 0h3m-32 1h3m5 0h3m-24 2h3m24 0h3m-11 1h3m2 2h3m0 0h3m-2 0h3m-2 0h3m-25 1h3m12 0h3m1 0h3m5 1h3m-27 1h3m5 0h3m12 2h3m-40 1h3m4 0h3m9 0h3m2 0h3m23 0h3m-35 1h3m-2 0h3m-19 1h3m19 0h3m1 1h3m-2 0h3m-44 1h3m24 0h3m25 1h3m-36 1h3m-15 1h3m34 0h3m0 0h3m-43 1h3m-9 3h3m3 2h3m0 0h3m-32 2h3m14 5h3m20 0h3m-33 1h3m-10 2h3m-11 4h3m-2 44h3m-32 5h3m20 4h3m-30 5h3m11 2h3m-11 6h3m-5 14h3" stroke="#ff3200" stroke-width="2.8" fill="none" opacity="0.9"/>
<path d="M457.1 723C457.5 720.6 458.6 718.2 460.8 714.7C462.9 711.2 466.1 706.6 470.1 702.3C474.1 697.9 479.3 693.3 484.6 688.8C490 684.3 495.9 679.4 502.3 675.3C508.7 671.1 516.1 667.1 523 663.9C529.9 660.7 538.1 657.8 543.8 656.1C549.5 654.4 553.4 653.6 557.3 653.5C561.1 653.4 564.4 654 566.6 655.6C568.8 657.1 570 660.1 570.2 662.8C570.4 665.6 569.3 668.7 567.6 672.2C566 675.6 563.5 679.9 560.4 683.6C557.3 687.2 553.4 690 548.9 694C544.5 697.9 538.6 703.5 533.4 707.4C528.2 711.4 523 714.7 517.8 717.8C512.6 720.9 507.4 723.8 502.3 726.1C497.1 728.5 491.5 730.4 486.7 731.8C481.9 733.3 477 734.7 473.2 734.9C469.4 735.2 466.3 734.3 463.9 733.4C461.4 732.4 459.8 731 458.7 729.2C457.6 727.5 456.8 725.4 457.1 723Z" fill="none" stroke="#0a0a0a" stroke-width="1.8"/>
<path d="M454.5 759.3C454.7 756.6 455.7 752.9 457.6 750C459.5 747 462.8 744.1 465.9 741.7C469.1 739.3 472 737.4 476.3 735.5C480.6 733.6 487.2 731.4 491.9 730.3C496.5 729.1 500.5 728.7 504.3 728.7C508.1 728.7 511.6 729.3 514.7 730.3C517.8 731.2 520.8 732.7 523 734.4C525.2 736.2 526.8 738.6 527.7 740.6C528.5 742.7 528.8 744.6 528.2 746.9C527.6 749.1 526.3 751.5 524 754.1C521.8 756.7 518.3 759.9 514.7 762.4C511.1 764.9 506.9 767.3 502.3 769.2C497.6 771.1 491.5 772.9 486.7 773.9C481.9 774.8 477.2 775.1 473.2 774.9C469.2 774.6 465.6 773.7 462.8 772.3C460.1 770.9 458 768.8 456.6 766.6C455.2 764.4 454.4 762.1 454.5 759.3Z" fill="none" stroke="#0a0a0a" stroke-width="1.8"/>
<path d="M525.6 733.4C525.6 730.4 526 726.8 527.2 723C528.3 719.2 529.9 714.5 532.3 710.6C534.8 706.6 538.1 702.8 541.7 699.1C545.3 695.5 549.8 691.7 554.1 688.8C558.5 685.8 563.3 683.1 567.6 681.5C571.9 679.9 576.6 679.5 580.1 679.4C583.5 679.3 586.1 679.9 588.4 681C590.6 682 592.4 683.7 593.6 685.7C594.7 687.6 595.3 690.2 595.1 692.9C595 695.7 594.2 698.8 592.5 702.3C590.9 705.7 588.2 709.9 585.3 713.7C582.3 717.5 578.7 721.5 574.9 725.1C571.1 728.7 566.8 732.5 562.4 735.5C558.1 738.4 552.9 741 548.9 742.7C545 744.5 541.5 745.5 538.6 745.8C535.6 746.2 533.2 745.7 531.3 744.8C529.4 743.9 528.1 742.6 527.2 740.6C526.2 738.7 525.6 736.3 525.6 733.4Z" fill="none" stroke="#0a0a0a" stroke-width="1.8"/>
<text x="513.2" y="697.8" font-family="'Liberation Sans','DejaVu Sans',sans-serif" font-weight="bold" font-size="10" text-anchor="middle" fill="#3a3a3a" stroke="#fff" stroke-opacity="0.6" stroke-width="1.6" paint-order="stroke">S</text>
<text x="491.4" y="755.9" font-family="'Liberation Sans','DejaVu Sans',sans-serif" font-weight="bold" font-size="10" text-anchor="middle" fill="#3a3a3a" stroke="#fff" stroke-opacity="0.6" stroke-width="1.6" paint-order="stroke">G1</text>
<text x="560.2" y="717" font-family="'Liberation Sans','DejaVu Sans',sans-serif" font-weight="bold" font-size="10" text-anchor="middle" fill="#3a3a3a" stroke="#fff" stroke-opacity="0.6" stroke-width="1.6" paint-order="stroke">G2</text>
<path d="M408.6 593.1H642.5" fill="none" stroke="#c0c0c0" stroke-width="1.2"/>
<path d="M642.5 593.1V832.2" fill="none" stroke="#c0c0c0" stroke-width="1.2"/>
<path d="M408.6 595.6h-3.2M408.6 624.2h-3.2M408.6 679.2h-3.2M408.6 686.9h-3.2M408.6 696.2h-3.2M408.6 707.6h-3.2M408.6 720.1h-3.2M408.6 735.6h-3.2M408.6 756h-3.2M408.6 784h-3.2M445.4 832.2v3.6M466.7 832.2v3.6M481.7 832.2v3.6M492.7 832.2v3.6M502.4 832.2v3.6M509.7 832.2v3.6M517 832.2v3.6M522.2 832.2v3.6M562.6 832.2v3.6M583.4 832.2v3.6M597.9 832.2v3.6M609.7 832.2v3.6M618.7 832.2v3.6M627 832.2v3.6M634.2 832.2v3.6M639.4 832.2v3.6" fill="none" stroke="#444" stroke-width="1.3"/>
<path d="M408.6 593.1V833" fill="none" stroke="#6a6a6a" stroke-width="1.5"/>
<path d="M407.9 832.2H642.5M408.6 671.3h-6.3M408.6 831h-6.3M410.5 832.2v6.5M526.9 832.2v6.5" fill="none" stroke="#222" stroke-width="1.7"/>
<text x="487.3" y="814.1" font-size="34" text-anchor="start" fill="#000" stroke-width="0.7" stroke-linejoin="round">PGRMC2</text>
<text x="503.4" y="885.1" font-size="33" text-anchor="start" fill="#000" stroke-width="0.7" stroke-linejoin="round">PI</text>
<path transform="scale(.4)" d="M2077 1574h3m3 9h3m17 1h3m23 2h3m-79 1h3m31 2h3m3 4h3m-30 3h3m61 0h3m-15 4h3m-61 4h3m-24 1h3m-47 1h3m21 0h3m108 0h3m-121 1h3m51 0h3m-2 0h3m48 1h3m-49 1h3m21 1h3m-64 1h3m52 0h3m-146 1h3m63 0h3m91 1h3m-3 1h3m-68 2h3m32 1h3m24 0h3m-50 1h3m17 1h3m4 0h3m-58 1h3m38 0h3m1 0h3m17 0h3m-50 1h3m39 0h3m39 0h3m-65 1h3m6 0h3m17 0h3m-68 1h3m0 0h3m89 0h3m-97 1h3m17 0h3m13 0h3m-2 1h3m7 0h3m10 0h3m13 0h3m8 0h3m-49 1h3m31 0h3m11 0h3m-1 1h3m-31 1h3m-1 0h3m-1 0h3m-1 0h3m2 0h3m2 0h3m-1 0h3m-64 1h3m11 0h3m3 0h3m28 0h3m22 0h3m-69 1h3m4 0h3m21 0h3m27 0h3m-193 1h3m102 0h3m-16 1h3m53 0h3m1 0h3m1 0h3m8 0h3m4 0h3m-55 1h3m10 0h3m26 0h3m1 0h3m8 0h3m-151 1h3m78 0h3m37 0h3m16 0h3m7 0h3m-106 1h3m12 0h3m56 0h3m-1 0h3m9 0h3m7 0h3m1 0h3m-55 1h3m17 0h3m-107 1h3m33 0h3m7 0h3m14 0h3m13 0h3m22 0h3m19 0h3m-96 1h3m48 0h3m1 0h3m4 0h3m-49 1h3m25 0h3m10 0h3m1 0h3m6 0h3m15 0h3m-2 0h3m-122 1h3m12 0h3m9 0h3m33 0h3m2 0h3m14 0h3m2 0h3m53 0h3m2 0h3m-85 1h3m27 0h3m-2 0h3m2 0h3m-15 1h3m8 0h3m5 0h3m-158 1h3m49 0h3m-2 0h3m19 0h3m1 0h3m20 0h3m22 0h3m12 0h3m11 0h3m-54 1h3m10 0h3m15 0h3m0 0h3m11 0h3m32 0h3m-173 1h3m78 0h3m12 0h3m49 0h3m1 0h3m12 0h3m-56 1h3m14 1h3m9 0h3m-99 1h3m32 0h3m14 0h3m4 0h3m0 0h3m9 0h3m2 0h3m-227 1h3m136 0h3m50 0h3m3 0h3m-1 0h3m14 0h3m7 0h3m1 0h3m-2 0h3m1 0h3m-202 1h3m120 0h3m-2 0h3m6 0h3m37 0h3m8 0h3m13 0h3m14 0h3m-121 1h3m69 0h3m36 0h3m2 0h3m-150 1h3m8 0h3m57 0h3m66 0h3m-157 1h3m29 0h3m78 0h3m14 0h3m-1 0h3m17 0h3m9 0h3m-128 1h3m28 0h3m15 0h3m9 0h3m28 0h3m3 0h3m8 0h3m4 0h3m-109 1h3m42 0h3m25 0h3m23 0h3m-135 1h3m7 0h3m10 0h3m9 0h3m23 0h3m10 0h3m2 0h3m-2 0h3m1 0h3m8 0h3m1 0h3m8 0h3m16 0h3m-183 1h3m144 0h3m2 0h3m-1 0h3m-132 1h3m25 0h3m17 0h3m68 0h3m-1 0h3m6 0h3m2 0h3m0 0h3m0 0h3m5 0h3m-158 1h3m53 0h3m18 0h3m22 0h3m8 0h3m36 0h3m18 0h3m-192 1h3m44 0h3m0 0h3m28 0h3m0 0h3m5 0h3m10 0h3m17 0h3m11 0h3m2 0h3m12 0h3m40 0h3m-149 1h3m0 0h3m21 0h3m5 0h3m5 0h3m-2 0h3m2 0h3m8 0h3m26 0h3m24 0h3m17 0h3m-145 1h3m9 0h3m28 0h3m4 0h3m32 0h3m3 0h3m-1 0h3m29 0h3m-2 0h3m17 0h3m-114 1h3m19 0h3m26 0h3m29 0h3m9 0h3m22 0h3m-152 1h3m11 0h3m0 0h3m1 0h3m66 0h3m28 0h3m-175 1h3m28 0h3m21 0h3m16 0h3m-2 0h3m1 0h3m3 0h3m8 0h3m11 0h3m27 0h3m0 0h3m17 0h3m12 0h3m-166 1h3m32 0h3m5 0h3m18 0h3m10 0h3m12 0h3m7 0h3m10 0h3m-2 0h3m8 0h3m9 0h3m1 0h3m-2 0h3m-2 0h3m4 0h3m-191 1h3m54 0h3m16 0h3m16 0h3m74 0h3m-2 0h3m22 0h3m19 0h3m-196 1h3m65 0h3m-2 0h3m5 0h3m3 0h3m26 0h3m-2 0h3m28 0h3m24 0h3m11 0h3m-135 1h3m37 0h3m1 0h3m21 0h3m3 0h3m1 0h3m2 0h3m17 0h3m14 0h3m11 0h3m-169 1h3m100 0h3m7 0h3m-2 0h3m23 0h3m6 0h3m9 0h3m-1 0h3m-154 1h3m36 0h3m14 0h3m8 0h3m-2 0h3m11 0h3m8 0h3m-1 0h3m15 0h3m34 0h3m0 0h3m-157 1h3m27 0h3m1 0h3m18 0h3m22 0h3m19 0h3m-150 1h3m32 0h3m22 0h3m6 0h3m12 0h3m12 0h3m30 0h3m24 0h3m15 0h3m1 0h3m-185 1h3m30 0h3m13 0h3m49 0h3m10 0h3m0 0h3m-1 0h3m6 0h3m-1 0h3m8 0h3m10 0h3m39 0h3m-174 1h3m9 0h3m28 0h3m-1 0h3m-1 0h3m7 0h3m0 0h3m2 0h3m35 0h3m0 0h3m-151 1h3m48 0h3m11 0h3m33 0h3m45 0h3m8 0h3m17 0h3m4 0h3m0 0h3m-151 1h3m21 0h3m7 0h3m12 0h3m14 0h3m8 0h3m4 0h3m2 0h3m-1 0h3m46 0h3m-1 0h3m-110 1h3m11 0h3m5 0h3m38 0h3m22 0h3m3 0h3m-1 0h3m-221 1h3m97 0h3m16 0h3m13 0h3m4 0h3m8 0h3m30 0h3m3 0h3m1 0h3m3 0h3m-109 1h3m4 0h3m19 0h3m3 0h3m3 0h3m34 0h3m6 0h3m2 0h3m0 0h3m19 0h3m20 0h3m-182 1h3m36 0h3m2 0h3m20 0h3m9 0h3m6 0h3m32 0h3m6 0h3m2 0h3m1 0h3m3 0h3m6 0h3m7 0h3m-156 1h3m15 0h3m42 0h3m4 0h3m5 0h3m15 0h3m-1 0h3m9 0h3m18 0h3m2 0h3m15 0h3m8 0h3m1 0h3m-151 1h3m6 0h3m19 0h3m2 0h3m6 0h3m7 0h3m35 0h3m1 0h3m18 0h3m-119 1h3m5 0h3m6 0h3m11 0h3m20 0h3m3 0h3m-1 0h3m8 0h3m4 0h3m1 0h3m12 0h3m2 0h3m62 0h3m-213 1h3m9 0h3m31 0h3m-1 0h3m14 0h3m7 0h3m28 0h3m25 0h3m16 0h3m1 0h3m25 0h3m-205 1h3m32 0h3m12 0h3m3 0h3m2 0h3m20 0h3m-1 0h3m5 0h3m2 0h3m7 0h3m-2 0h3m1 0h3m-2 0h3m5 0h3m1 0h3m-1 0h3m30 0h3m-1 0h3m28 0h3m-163 1h3m30 0h3m28 0h3m6 0h3m-2 0h3m-2 0h3m-1 0h3m4 0h3m1 0h3m35 0h3m13 0h3m24 0h3m-243 1h3m22 0h3m25 0h3m60 0h3m3 0h3m-1 0h3m20 0h3m45 0h3m-121 1h3m1 0h3m23 0h3m-2 0h3m32 0h3m3 0h3m4 0h3m10 0h3m10 0h3m1 0h3m11 0h3m5 0h3m-120 1h3m25 0h3m11 0h3m-1 0h3m19 0h3m8 0h3m2 0h3m19 0h3m-186 1h3m3 0h3m57 0h3m3 0h3m5 0h3m13 0h3m62 0h3m26 0h3m6 0h3m0 0h3m7 0h3m19 0h3m21 0h3m-201 1h3m2 0h3m27 0h3m-1 0h3m0 0h3m11 0h3m10 0h3m4 0h3m2 0h3m-2 0h3m2 0h3m-2 0h3m28 0h3m15 0h3m8 0h3m-229 1h3m54 0h3m12 0h3m42 0h3m8 0h3m8 0h3m14 0h3m3 0h3m29 0h3m-2 0h3m25 0h3m2 0h3m-226 1h3m15 0h3m8 0h3m18 0h3m46 0h3m25 0h3m4 0h3m3 0h3m-2 0h3m-2 0h3m9 0h3m4 0h3m10 0h3m2 0h3m54 0h3m-246 1h3m47 0h3m44 0h3m10 0h3m6 0h3m14 0h3m11 0h3m10 0h3m13 0h3m1 0h3m14 0h3m3 0h3m6 0h3m-167 1h3m6 0h3m18 0h3m14 0h3m8 0h3m-1 0h3m11 0h3m2 0h3m6 0h3m5 0h3m4 0h3m0 0h3m-135 1h3m78 0h3m1 0h3m1 0h3m6 0h3m1 0h3m2 0h3m14 0h3m3 0h3m1 0h3m4 0h3m9 0h3m15 0h3m-171 1h3m41 0h3m0 0h3m32 0h3m23 0h3m8 0h3m-1 0h3m4 0h3m12 0h3m-168 1h3m39 0h3m36 0h3m8 0h3m4 0h3m13 0h3m18 0h3m10 0h3m-1 0h3m2 0h3m-1 0h3m1 0h3m32 0h3m13 0h3m-109 1h3m7 0h3m9 0h3m1 0h3m8 0h3m6 0h3m25 0h3m20 0h3m-124 1h3m17 0h3m18 0h3m3 0h3m7 0h3m29 0h3m2 0h3m1 0h3m61 0h3m-221 1h3m19 0h3m31 0h3m3 0h3m0 0h3m4 0h3m1 0h3m14 0h3m6 0h3m-1 0h3m-1 0h3m3 0h3m10 0h3m37 0h3m69 0h3m-218 1h3m3 0h3m63 0h3m0 0h3m11 0h3m5 0h3m14 0h3m8 0h3m6 0h3m9 0h3m-194 1h3m23 0h3m7 0h3m12 0h3m4 0h3m-1 0h3m3 0h3m4 0h3m5 0h3m14 0h3m17 0h3m19 0h3m19 0h3m31 0h3m10 0h3m13 0h3m29 0h3m-227 1h3m15 0h3m37 0h3m3 0h3m10 0h3m18 0h3m0 0h3m1 0h3m3 0h3m0 0h3m19 0h3m13 0h3m9 0h3m28 0h3m-216 1h3m5 0h3m41 0h3m7 0h3m17 0h3m5 0h3m-2 0h3m33 0h3m9 0h3m60 0h3m-183 1h3m6 0h3m14 0h3m6 0h3m-2 0h3m12 0h3m19 0h3m21 0h3m-1 0h3m12 0h3m2 0h3m-1 0h3m10 0h3m-147 1h3m5 0h3m1 0h3m-2 0h3m10 0h3m18 0h3m22 0h3m6 0h3m12 0h3m5 0h3m1 0h3m0 0h3m3 0h3m3 0h3m11 0h3m32 0h3m27 0h3m-256 1h3m57 0h3m19 0h3m12 0h3m2 0h3m-2 0h3m12 0h3m4 0h3m-1 0h3m-1 0h3m16 0h3m-2 0h3m18 0h3m7 0h3m47 0h3m-186 1h3m13 0h3m17 0h3m17 0h3m2 0h3m5 0h3m14 0h3m39 0h3m1 0h3m59 0h3m40 0h3m-233 1h3m25 0h3m2 0h3m1 0h3m18 0h3m-2 0h3m0 0h3m-1 0h3m3 0h3m29 0h3m10 0h3m34 0h3m5 0h3m-1 0h3m-193 1h3m0 0h3m79 0h3m-1 0h3m2 0h3m-2 0h3m19 0h3m23 0h3m52 0h3m6 0h3m-223 1h3m44 0h3m16 0h3m22 0h3m19 0h3m2 0h3m-1 0h3m35 0h3m0 0h3m12 0h3m41 0h3m6 0h3m-232 1h3m27 0h3m0 0h3m5 0h3m13 0h3m6 0h3m4 0h3m17 0h3m-2 0h3m14 0h3m2 0h3m4 0h3m6 0h3m1 0h3m5 0h3m7 0h3m4 0h3m82 0h3m37 0h3m4 0h3m-275 1h3m13 0h3m10 0h3m9 0h3m-2 0h3m6 0h3m3 0h3m3 0h3m0 0h3m12 0h3m2 0h3m27 0h3m-2 0h3m-2 0h3m-1 0h3m9 0h3m-1 0h3m24 0h3m4 0h3m-182 1h3m14 0h3m19 0h3m17 0h3m27 0h3m13 0h3m9 0h3m0 0h3m24 0h3m-127 1h3m13 0h3m9 0h3m-2 0h3m5 0h3m6 0h3m25 0h3m17 0h3m24 0h3m-2 0h3m11 0h3m14 0h3m14 0h3m2 0h3m1 0h3m1 0h3m43 0h3m-257 1h3m42 0h3m-2 0h3m6 0h3m-2 0h3m0 0h3m4 0h3m-1 0h3m-1 0h3m6 0h3m5 0h3m1 0h3m0 0h3m16 0h3m3 0h3m0 0h3m12 0h3m-149 1h3m26 0h3m1 0h3m9 0h3m3 0h3m2 0h3m-2 0h3m4 0h3m5 0h3m8 0h3m1 0h3m6 0h3m25 0h3m3 0h3m5 0h3m10 0h3m9 0h3m7 0h3m3 0h3m8 0h3m57 0h3m-196 1h3m3 0h3m43 0h3m-2 0h3m11 0h3m5 0h3m4 0h3m91 0h3m-207 1h3m18 0h3m9 0h3m-2 0h3m8 0h3m2 0h3m20 0h3m13 0h3m5 0h3m10 0h3m4 0h3m7 0h3m31 0h3m37 0h3m-2 0h3m16 0h3m-254 1h3m29 0h3m12 0h3m5 0h3m63 0h3m6 0h3m0 0h3m7 0h3m-2 0h3m-1 0h3m0 0h3m0 0h3m0 0h3m85 0h3m-239 1h3m9 0h3m11 0h3m18 0h3m1 0h3m10 0h3m3 0h3m18 0h3m66 0h3m58 0h3m-217 1h3m21 0h3m45 0h3m2 0h3m22 0h3m-2 0h3m12 0h3m0 0h3m22 0h3m23 0h3m61 0h3m-222 1h3m-2 0h3m-1 0h3m32 0h3m22 0h3m30 0h3m24 0h3m30 0h3m-200 1h3m15 0h3m37 0h3m22 0h3m5 0h3m-2 0h3m22 0h3m3 0h3m-2 0h3m9 0h3m32 0h3m9 0h3m4 0h3m60 0h3m-222 1h3m7 0h3m0 0h3m18 0h3m22 0h3m8 0h3m5 0h3m-2 0h3m23 0h3m76 0h3m7 0h3m-194 1h3m15 0h3m21 0h3m3 0h3m0 0h3m20 0h3m5 0h3m28 0h3m10 0h3m4 0h3m-1 0h3m-1 0h3m5 0h3m47 0h3m-214 1h3m66 0h3m13 0h3m15 0h3m7 0h3m3 0h3m15 0h3m0 0h3m20 0h3m17 0h3m68 0h3m-2 0h3m-270 1h3m29 0h3m14 0h3m6 0h3m13 0h3m6 0h3m0 0h3m11 0h3m18 0h3m15 0h3m22 0h3m-127 1h3m33 0h3m9 0h3m13 0h3m-2 0h3m0 0h3m47 0h3m0 0h3m33 0h3m-193 1h3m7 0h3m4 0h3m6 0h3m-1 0h3m14 0h3m4 0h3m25 0h3m2 0h3m0 0h3m13 0h3m2 0h3m46 0h3m6 0h3m29 0h3m-260 1h3m43 0h3m11 0h3m-2 0h3m12 0h3m6 0h3m11 0h3m-2 0h3m29 0h3m42 0h3m11 0h3m2 0h3m11 0h3m29 0h3m-203 1h3m23 0h3m-2 0h3m5 0h3m6 0h3m47 0h3m-2 0h3m20 0h3m8 0h3m1 0h3m15 0h3m21 0h3m14 0h3m34 0h3m-239 1h3m52 0h3m44 0h3m2 0h3m1 0h3m1 0h3m-2 0h3m5 0h3m22 0h3m28 0h3m14 0h3m20 0h3m16 0h3m-229 1h3m18 0h3m17 0h3m-2 0h3m6 0h3m10 0h3m33 0h3m34 0h3m33 0h3m27 0h3m23 0h3m-225 1h3m-1 0h3m7 0h3m9 0h3m8 0h3m53 0h3m-1 0h3m1 0h3m7 0h3m0 0h3m-2 0h3m23 0h3m4 0h3m43 0h3m-221 1h3m51 0h3m0 0h3m0 0h3m49 0h3m9 0h3m7 0h3m1 0h3m-141 1h3m20 0h3m4 0h3m4 0h3m17 0h3m57 0h3m5 0h3m-1 0h3m-2 0h3m54 0h3m78 0h3m39 0h3m-275 1h3m9 0h3m-1 0h3m3 0h3m13 0h3m3 0h3m16 0h3m41 0h3m8 0h3m-2 0h3m123 0h3m-270 1h3m22 0h3m18 0h3m36 0h3m64 0h3m-116 1h3m4 0h3m21 0h3m6 0h3m5 0h3m9 0h3m0 0h3m3 0h3m1 0h3m54 0h3m15 0h3m-184 1h3m45 0h3m50 0h3m3 0h3m13 0h3m38 0h3m20 0h3m28 0h3m16 0h3m-238 1h3m72 0h3m77 0h3m40 0h3m46 0h3m-260 1h3m22 0h3m2 0h3m10 0h3m-1 0h3m-1 0h3m-1 0h3m43 0h3m0 0h3m18 0h3m1 0h3m56 0h3m69 0h3m-286 1h3m10 0h3m3 0h3m17 0h3m13 0h3m7 0h3m0 0h3m-2 0h3m1 0h3m1 0h3m22 0h3m17 0h3m26 0h3m21 0h3m43 0h3m5 0h3m8 0h3m26 0h3m-226 1h3m29 0h3m6 0h3m8 0h3m0 0h3m8 0h3m22 0h3m29 0h3m1 0h3m9 0h3m76 0h3m-258 1h3m6 0h3m0 0h3m29 0h3m4 0h3m8 0h3m44 0h3m118 0h3m35 0h3m15 0h3m-261 1h3m-1 0h3m-1 0h3m15 0h3m13 0h3m10 0h3m-2 0h3m7 0h3m1 0h3m18 0h3m38 0h3m-2 0h3m82 0h3m-245 1h3m11 0h3m21 0h3m7 0h3m47 0h3m12 0h3m-1 0h3m0 0h3m28 0h3m24 0h3m13 0h3m46 0h3m-228 1h3m-1 0h3m2 0h3m5 0h3m-2 0h3m24 0h3m5 0h3m8 0h3m-2 0h3m4 0h3m0 0h3m38 0h3m25 0h3m13 0h3m28 0h3m4 0h3m13 0h3m62 0h3m-282 1h3m76 0h3m4 0h3m12 0h3m46 0h3m-138 1h3m4 0h3m3 0h3m-2 0h3m4 0h3m5 0h3m49 0h3m-2 0h3m79 0h3m15 0h3m52 0h3m-288 1h3m25 0h3m36 0h3m27 0h3m3 0h3m-1 0h3m3 0h3m4 0h3m10 0h3m11 0h3m37 0h3m18 0h3m16 0h3m54 0h3m-268 1h3m24 0h3m13 0h3m32 0h3m11 0h3m-2 0h3m6 0h3m23 0h3m66 0h3m4 0h3m2 0h3m94 0h3m-273 1h3m16 0h3m13 0h3m-2 0h3m5 0h3m9 0h3m-2 0h3m6 0h3m3 0h3m-2 0h3m8 0h3m25 0h3m47 0h3m3 0h3m-183 1h3m18 0h3m7 0h3m18 0h3m-2 0h3m9 0h3m-2 0h3m0 0h3m15 0h3m1 0h3m28 0h3m54 0h3m3 0h3m-214 1h3m29 0h3m31 0h3m29 0h3m16 0h3m8 0h3m1 0h3m22 0h3m48 0h3m21 0h3m14 0h3m15 0h3m28 0h3m-273 1h3m0 0h3m6 0h3m44 0h3m14 0h3m31 0h3m28 0h3m43 0h3m-224 1h3m17 0h3m19 0h3m0 0h3m3 0h3m10 0h3m40 0h3m14 0h3m18 0h3m4 0h3m22 0h3m141 0h3m-314 1h3m14 0h3m10 0h3m26 0h3m17 0h3m11 0h3m5 0h3m12 0h3m2 0h3m57 0h3m13 0h3m3 0h3m14 0h3m26 0h3m41 0h3m-312 1h3m21 0h3m34 0h3m-1 0h3m11 0h3m10 0h3m0 0h3m22 0h3m71 0h3m47 0h3m30 0h3m-1 0h3m-276 1h3m28 0h3m3 0h3m3 0h3m17 0h3m1 0h3m-2 0h3m1 0h3m-2 0h3m-1 0h3m12 0h3m8 0h3m36 0h3m22 0h3m31 0h3m-183 1h3m-1 0h3m37 0h3m21 0h3m4 0h3m19 0h3m13 0h3m-103 1h3m50 0h3m4 0h3m-1 0h3m13 0h3m9 0h3m90 0h3m0 0h3m90 0h3m-314 1h3m3 0h3m10 0h3m10 0h3m13 0h3m-1 0h3m0 0h3m2 0h3m0 0h3m26 0h3m0 0h3m0 0h3m20 0h3m61 0h3m84 0h3m1 0h3m-266 1h3m-2 0h3m45 0h3m-2 0h3m0 0h3m103 0h3m30 0h3m28 0h3m43 0h3m-287 1h3m0 0h3m1 0h3m15 0h3m0 0h3m2 0h3m6 0h3m0 0h3m21 0h3m1 0h3m42 0h3m4 0h3m3 0h3m57 0h3m24 0h3m107 0h3m-317 1h3m7 0h3m9 0h3m0 0h3m-2 0h3m3 0h3m19 0h3m10 0h3m0 0h3m20 0h3m2 0h3m18 0h3m121 0h3m52 0h3m-303 1h3m23 0h3m26 0h3m5 0h3m17 0h3m22 0h3m40 0h3m-98 1h3m12 0h3m-1 0h3m46 0h3m-109 1h3m7 0h3m3 0h3m6 0h3m1 0h3m4 0h3m4 0h3m9 0h3m14 0h3m2 0h3m10 0h3m77 0h3m19 0h3m14 0h3m-205 1h3m23 0h3m18 0h3m5 0h3m89 0h3m18 0h3m35 0h3m17 0h3m2 0h3m-270 1h3m15 0h3m19 0h3m42 0h3m1 0h3m130 0h3m-2 0h3m-199 1h3m24 0h3m-1 0h3m5 0h3m3 0h3m11 0h3m62 0h3m48 0h3m-180 1h3m13 0h3m-2 0h3m36 0h3m5 0h3m8 0h3m61 0h3m-1 0h3m5 0h3m46 0h3m28 0h3m10 0h3m-258 1h3m25 0h3m0 0h3m10 0h3m-2 0h3m0 0h3m3 0h3m0 0h3m13 0h3m17 0h3m104 0h3m-193 1h3m9 0h3m1 0h3m12 0h3m50 0h3m32 0h3m45 0h3m5 0h3m-196 1h3m2 0h3m7 0h3m42 0h3m7 0h3m1 0h3m-2 0h3m82 0h3m32 0h3m48 0h3m11 0h3m-256 1h3m0 0h3m41 0h3m19 0h3m3 0h3m1 0h3m13 0h3m77 0h3m61 0h3m-225 1h3m26 0h3m-2 0h3m1 0h3m211 0h3m-274 1h3m6 0h3m13 0h3m4 0h3m25 0h3m4 0h3m16 0h3m-2 0h3m5 0h3m0 0h3m0 0h3m8 0h3m24 0h3m37 0h3m95 0h3m29 0h3m-280 1h3m1 0h3m14 0h3m1 0h3m-2 0h3m9 0h3m0 0h3m195 0h3m9 0h3m-270 1h3m-2 0h3m6 0h3m17 0h3m25 0h3m19 0h3m-83 1h3m-1 0h3m49 0h3m219 0h3m-284 1h3m29 0h3m18 0h3m15 0h3m75 0h3m-2 0h3m20 0h3m-172 1h3m3 0h3m5 0h3m12 0h3m9 0h3m24 0h3m89 0h3m-182 1h3m16 0h3m44 0h3m144 0h3m52 0h3m-247 1h3m21 0h3m35 0h3m2 0h3m12 0h3m66 0h3m25 0h3m42 0h3m-248 1h3m5 0h3m-1 0h3m-2 0h3m3 0h3m4 0h3m8 0h3m18 0h3m21 0h3m9 0h3m-93 1h3m20 0h3m4 0h3m31 0h3m16 0h3m32 0h3m19 0h3m56 0h3m11 0h3m32 0h3m4 0h3m-1 0h3m-253 1h3m28 0h3m14 0h3m7 0h3m2 0h3m25 0h3m73 0h3m100 0h3m-279 1h3m11 0h3m23 0h3m9 0h3m3 0h3m4 0h3m6 0h3m1 0h3m19 0h3m12 0h3m77 0h3m8 0h3m-174 1h3m2 0h3m12 0h3m-2 0h3m78 0h3m100 0h3m-246 1h3m13 0h3m20 0h3m34 0h3m4 0h3m110 0h3m-189 1h3m6 0h3m10 0h3m-2 0h3m0 0h3m15 0h3m8 0h3m26 0h3m33 0h3m75 0h3m16 0h3m-206 1h3m45 0h3m174 0h3m-249 1h3m5 0h3m15 0h3m2 0h3m3 0h3m-2 0h3m24 0h3m-2 0h3m40 0h3m105 0h3m3 0h3m2 0h3m28 0h3m-254 1h3m12 0h3m2 0h3m1 0h3m92 0h3m37 0h3m-157 1h3m25 0h3m-2 0h3m9 0h3m38 0h3m10 0h3m3 0h3m109 0h3m21 0h3m-203 1h3m48 0h3m6 0h3m8 0h3m105 0h3m-210 1h3m38 0h3m138 0h3m-175 1h3m14 0h3m4 0h3m0 0h3m40 0h3m76 0h3m-175 1h3m84 0h3m117 0h3m-223 1h3m24 0h3m2 0h3m7 0h3m14 0h3m-2 0h3m-2 0h3m15 0h3m-1 0h3m3 0h3m-1 0h3m32 0h3m108 0h3m-238 1h3m0 0h3m13 0h3m30 0h3m9 0h3m-2 0h3m11 0h3m-56 1h3m1 0h3m63 0h3m45 0h3m7 0h3m-135 1h3m9 0h3m-1 0h3m2 0h3m47 0h3m-80 1h3m14 0h3m5 0h3m13 0h3m156 0h3m-211 1h3m7 0h3m65 0h3m41 0h3m90 0h3m-216 1h3m14 0h3m22 0h3m2 0h3m231 0h3m-291 1h3m8 0h3m55 0h3m8 0h3m60 0h3m30 0h3m88 0h3m-263 1h3m-2 0h3m15 0h3m16 0h3m86 0h3m11 0h3m-146 1h3m7 0h3m10 0h3m4 0h3m21 0h3m3 0h3m7 0h3m6 0h3m2 0h3m4 0h3m204 0h3m-292 1h3m27 0h3m-2 0h3m1 0h3m4 0h3m18 0h3m41 0h3m-1 0h3m-73 1h3m-2 0h3m-40 1h3m-1 0h3m187 0h3m-204 1h3m39 0h3m27 0h3m6 0h3m-90 1h3m17 0h3m-1 0h3m-1 0h3m30 0h3m51 0h3m72 0h3m-185 1h3m5 0h3m51 0h3m41 0h3m3 0h3m-118 1h3m10 0h3m1 0h3m26 0h3m8 0h3m1 0h3m-1 0h3m14 0h3m215 0h3m-285 1h3m15 0h3m9 0h3m7 0h3m81 0h3m-146 1h3m3 0h3m13 0h3m21 0h3m7 0h3m4 0h3m0 0h3m60 0h3m9 0h3m-131 1h3m59 0h3m27 0h3m11 0h3m42 0h3m-157 1h3m11 0h3m8 0h3m15 0h3m8 0h3m6 0h3m43 0h3m-84 1h3m10 0h3m7 0h3m4 0h3m14 0h3m7 0h3m14 0h3m-115 1h3m20 0h3m8 0h3m3 0h3m26 0h3m11 0h3m-78 1h3m3 0h3m11 0h3m5 0h3m66 0h3m14 0h3m26 0h3m-136 1h3m30 0h3m4 0h3m-1 0h3m20 0h3m75 0h3m-106 1h3m5 0h3m14 0h3m24 0h3m-109 1h3m2 0h3m51 0h3m32 0h3m2 0h3m-76 1h3m0 0h3m36 0h3m8 0h3m33 0h3m60 0h3m-183 1h3m27 0h3m43 0h3m9 0h3m35 0h3m-117 1h3m-1 0h3m33 0h3m112 0h3m-156 1h3m5 0h3m8 0h3m153 0h3m-170 1h3m14 0h3m21 0h3m1 0h3m6 0h3m16 0h3m-22 1h3m32 0h3m15 0h3m33 0h3m17 0h3m-173 1h3m33 0h3m7 0h3m12 0h3m3 0h3m48 0h3m-118 1h3m7 0h3m37 0h3m10 0h3m19 0h3m12 0h3m101 0h3m-226 1h3m21 0h3m39 0h3m-2 0h3m26 0h3m48 0h3m-122 1h3m14 0h3m22 0h3m46 0h3m120 0h3m-211 1h3m31 0h3m41 0h3m88 0h3m-152 2h3m9 0h3m24 0h3m5 0h3m62 0h3m19 0h3m-132 1h3m83 0h3m-140 1h3m81 0h3m4 0h3m-86 1h3m29 0h3m28 0h3m13 0h3m40 0h3m-2 0h3m12 0h3m-123 1h3m2 0h3m7 0h3m26 0h3m50 1h3m13 0h3m-18 1h3m79 0h3m-153 1h3m16 0h3m-1 0h3m4 0h3m10 0h3m9 0h3m13 0h3m48 0h3m-162 1h3m2 0h3m27 1h3m5 0h3m24 0h3m7 0h3m19 0h3m-89 1h3m16 0h3m4 0h3m-1 0h3m17 0h3m46 0h3m12 0h3m-139 1h3m22 0h3m94 0h3m5 0h3m-104 1h3m21 0h3m73 0h3m-95 1h3m3 0h3m11 0h3m67 0h3m-125 1h3m34 0h3m5 0h3m103 0h3m-128 1h3m30 0h3m21 0h3m-11 1h3m6 0h3m-2 0h3m-93 1h3m-1 0h3m15 0h3m35 0h3m49 1h3m-36 1h3m-80 3h3m69 0h3m18 0h3m-109 1h3m47 0h3m13 1h3m10 0h3m3 0h3m20 0h3m6 0h3m14 0h3m-121 1h3m46 0h3m125 0h3m-36 2h3m-106 1h3m10 2h3m20 0h3m-5 1h3m-98 1h3m47 2h3m-9 3h3m68 1h3m-110 3h3m14 0h3m110 0h3m-48 5h3m-53 2h3m62 0h3m-45 2h3m46 4h3m-84 1h3m27 3h3m-1 2h3" stroke="#0a0aff" stroke-width="2.8" fill="none" opacity="0.85"/>
<path transform="scale(.4)" d="M1977 1617h3m132 10h3m-77 21h3m1 13h3m-40 6h3m15 0h3m-76 1h3m73 6h3m74 0h3m-97 1h3m8 1h3m12 0h3m-55 1h3m48 0h3m-51 5h3m17 0h3m26 0h3m12 0h3m-47 1h3m29 0h3m-64 3h3m9 0h3m26 1h3m-35 1h3m31 1h3m-29 2h3m7 0h3m10 0h3m24 0h3m-25 1h3m-2 0h3m-56 1h3m31 0h3m-38 1h3m-41 3h3m95 0h3m-39 1h3m0 0h3m4 0h3m3 0h3m-6 2h3m9 0h3m-1 0h3m16 0h3m-57 1h3m12 0h3m13 0h3m-90 1h3m23 0h3m3 0h3m25 0h3m42 0h3m-53 1h3m-44 1h3m52 0h3m-78 1h3m24 0h3m23 0h3m-1 0h3m16 0h3m-2 0h3m-59 1h3m24 0h3m14 0h3m-100 1h3m56 0h3m23 0h3m10 0h3m-20 1h3m21 0h3m-68 1h3m36 0h3m-45 1h3m55 0h3m1 0h3m17 0h3m-81 1h3m19 0h3m10 0h3m23 0h3m-22 1h3m-30 1h3m1 0h3m25 0h3m-39 1h3m1 0h3m3 0h3m9 0h3m27 1h3m-84 1h3m19 0h3m4 0h3m12 0h3m3 0h3m-39 1h3m10 0h3m70 0h3m13 0h3m-139 1h3m8 0h3m11 0h3m8 0h3m2 0h3m2 0h3m20 0h3m-72 1h3m-2 0h3m10 0h3m53 0h3m-52 1h3m27 0h3m12 0h3m-72 1h3m-1 0h3m6 0h3m15 0h3m45 1h3m-55 1h3m11 0h3m20 0h3m2 0h3m0 0h3m-94 1h3m103 0h3m21 0h3m-97 1h3m-1 0h3m58 0h3m-140 1h3m79 0h3m6 0h3m13 0h3m-48 1h3m36 0h3m0 0h3m-47 1h3m32 0h3m3 0h3m14 0h3m-82 1h3m10 0h3m22 0h3m0 0h3m5 0h3m7 0h3m-87 1h3m67 0h3m-2 0h3m27 0h3m-47 1h3m34 0h3m3 0h3m9 0h3m-69 1h3m-1 0h3m-2 0h3m10 0h3m5 0h3m32 0h3m31 0h3m-121 1h3m26 0h3m-1 0h3m7 0h3m4 0h3m24 0h3m-81 1h3m18 0h3m-1 0h3m2 0h3m1 0h3m27 0h3m12 0h3m7 0h3m-88 1h3m10 0h3m0 0h3m56 0h3m-56 1h3m56 0h3m-89 1h3m28 0h3m8 0h3m10 0h3m0 0h3m-51 1h3m36 0h3m0 0h3m5 0h3m6 0h3m-55 1h3m1 0h3m2 0h3m15 0h3m5 0h3m10 0h3m-63 1h3m18 0h3m2 0h3m5 0h3m2 0h3m2 0h3m15 0h3m8 0h3m-62 1h3m9 0h3m10 0h3m-16 1h3m6 0h3m5 0h3m-39 1h3m8 0h3m14 0h3m-73 1h3m73 0h3m14 0h3m-43 1h3m9 0h3m-1 0h3m-1 0h3m12 0h3m12 0h3m-78 1h3m43 0h3m4 0h3m21 0h3m5 0h3m-97 1h3m3 0h3m52 0h3m10 0h3m-79 1h3m16 0h3m-1 0h3m2 0h3m1 0h3m5 0h3m27 0h3m2 0h3m-50 1h3m16 0h3m20 0h3m8 0h3m-66 1h3m13 0h3m-2 0h3m1 0h3m-41 1h3m68 0h3m-92 1h3m39 0h3m1 0h3m-1 0h3m3 0h3m29 0h3m-45 1h3m70 0h3m-147 1h3m34 0h3m9 0h3m81 0h3m-78 1h3m8 0h3m24 0h3m10 0h3m17 0h3m-87 1h3m10 0h3m1 0h3m8 0h3m10 0h3m-44 1h3m20 0h3m15 0h3m-36 1h3m4 0h3m5 0h3m14 0h3m0 0h3m-84 1h3m51 0h3m8 0h3m0 0h3m16 0h3m52 0h3m-128 1h3m4 0h3m12 0h3m31 0h3m-16 1h3m8 0h3m18 0h3m-107 1h3m38 0h3m11 0h3m11 0h3m48 0h3m-77 1h3m8 0h3m23 0h3m-28 1h3m8 0h3m19 0h3m-71 1h3m7 0h3m23 1h3m-12 2h3m10 0h3m-61 1h3m15 0h3m36 0h3m24 0h3m-37 1h3m23 0h3m-61 1h3m29 0h3m-4 1h3m2 0h3m222 0h3m-265 2h3m21 0h3m-21 1h3m83 0h3m-81 1h3m-1 0h3m194 1h3m-189 1h3m36 0h3m-31 1h3m5 0h3m110 0h3m-189 1h3m8 0h3m39 0h3m1 0h3m-22 1h3m11 0h3m50 1h3m-85 1h3m15 0h3m-17 1h3m9 0h3m-1 1h3m7 0h3m-16 1h3m10 0h3m0 0h3m43 0h3m-41 1h3m-23 1h3m-19 1h3m6 0h3m-30 1h3m45 0h3m17 0h3m-66 1h3m12 1h3m20 0h3m10 0h3m-15 1h3m-2 0h3m-22 1h3m32 0h3m38 0h3m-59 1h3m-39 1h3m12 2h3m18 0h3m3 0h3m-43 1h3m48 0h3m15 1h3m-93 1h3m36 0h3m37 0h3m-46 1h3m46 1h3m-57 1h3m1 1h3m6 0h3m-29 2h3m38 0h3m-37 1h3m37 0h3m-57 1h3m17 0h3m5 0h3m-14 1h3m1 0h3m20 0h3m-5 1h3m16 0h3m-20 1h3m-50 1h3m35 1h3m0 0h3m16 2h3m-66 1h3m-2 2h3m130 0h3m-140 1h3m14 0h3m28 0h3m-3 5h3m-37 1h3m-17 4h3m56 0h3m-40 8h3m12 1h3m-38 1h3m208 11h3" stroke="#00c8e6" stroke-width="2.8" fill="none" opacity="0.85"/>
<path transform="scale(.4)" d="M2122 1626h3m-4 22h3m-152 5h3m-5 4h3m63 1h3m37 1h3m-9 2h3m-27 8h3m-29 3h3m9 1h3m11 0h3m2 0h3m-7 3h3m-68 2h3m61 0h3m-39 1h3m-2 2h3m0 0h3m0 3h3m-49 1h3m71 0h3m-79 1h3m62 0h3m-51 2h3m32 0h3m-112 3h3m-1 0h3m47 0h3m56 1h3m-4 1h3m-2 1h3m-44 1h3m36 0h3m-58 1h3m1 0h3m11 0h3m5 0h3m-47 1h3m48 0h3m-27 1h3m10 1h3m12 0h3m-39 1h3m9 0h3m-71 1h3m6 0h3m5 0h3m47 0h3m28 0h3m4 0h3m-58 1h3m7 0h3m3 0h3m9 0h3m39 0h3m-51 1h3m12 0h3m4 0h3m1 0h3m-54 1h3m6 0h3m12 0h3m0 0h3m-40 1h3m15 0h3m2 0h3m-2 0h3m5 0h3m32 0h3m-93 1h3m7 0h3m0 0h3m17 0h3m21 0h3m-66 1h3m17 0h3m11 0h3m7 0h3m25 0h3m-74 1h3m18 0h3m9 0h3m-2 0h3m18 0h3m0 0h3m3 0h3m18 0h3m-54 1h3m16 0h3m-45 2h3m10 0h3m9 0h3m-33 1h3m18 0h3m26 0h3m13 0h3m-1 0h3m-77 1h3m16 0h3m52 0h3m-57 1h3m4 0h3m8 0h3m41 0h3m5 1h3m0 0h3m-72 1h3m21 0h3m8 0h3m-61 1h3m1 0h3m20 0h3m-2 0h3m3 0h3m8 0h3m9 0h3m9 0h3m-86 1h3m27 0h3m2 0h3m7 0h3m2 0h3m17 0h3m3 0h3m-71 1h3m22 0h3m21 0h3m-63 1h3m0 0h3m8 0h3m-1 0h3m15 0h3m-1 0h3m7 0h3m7 0h3m-34 1h3m3 0h3m8 0h3m5 0h3m42 0h3m-95 1h3m8 0h3m7 0h3m11 0h3m-32 1h3m13 0h3m4 0h3m38 0h3m-1 0h3m-84 1h3m7 0h3m43 0h3m-85 1h3m27 0h3m1 0h3m8 0h3m1 0h3m6 0h3m-1 0h3m-2 0h3m-2 0h3m2 0h3m16 0h3m-77 1h3m21 0h3m5 0h3m-1 0h3m27 0h3m37 0h3m-107 1h3m29 0h3m1 0h3m4 0h3m33 0h3m-2 0h3m20 0h3m-100 1h3m5 0h3m13 0h3m7 0h3m-1 0h3m12 0h3m4 0h3m3 0h3m5 0h3m-68 1h3m1 0h3m-1 0h3m27 0h3m-1 0h3m2 0h3m5 0h3m15 0h3m-45 1h3m3 0h3m0 0h3m19 0h3m6 0h3m-54 1h3m0 0h3m0 0h3m2 0h3m14 0h3m1 0h3m8 0h3m20 0h3m-90 1h3m0 0h3m-1 0h3m2 0h3m0 0h3m-2 0h3m21 0h3m14 0h3m-41 1h3m9 0h3m9 0h3m1 0h3m10 0h3m-76 1h3m16 0h3m0 0h3m46 0h3m7 0h3m-61 1h3m1 0h3m16 0h3m2 0h3m-64 1h3m41 0h3m8 0h3m10 0h3m-69 1h3m26 0h3m3 0h3m-2 0h3m-1 0h3m16 0h3m-82 1h3m62 0h3m2 0h3m26 0h3m16 0h3m-118 1h3m42 0h3m0 0h3m8 0h3m10 0h3m6 0h3m38 0h3m-102 1h3m7 0h3m8 0h3m3 0h3m36 0h3m-25 1h3m9 0h3m-76 1h3m2 0h3m12 0h3m12 0h3m39 0h3m-60 1h3m1 0h3m-1 0h3m24 0h3m65 0h3m-154 1h3m31 0h3m-2 0h3m4 0h3m2 0h3m6 0h3m38 0h3m9 0h3m-91 1h3m26 0h3m2 0h3m4 0h3m4 0h3m2 0h3m8 0h3m3 0h3m21 0h3m-130 1h3m39 0h3m-2 0h3m24 0h3m-63 1h3m35 0h3m2 0h3m-2 0h3m0 0h3m5 0h3m0 0h3m12 0h3m0 0h3m-59 1h3m7 0h3m25 0h3m-25 1h3m-1 0h3m58 0h3m-58 1h3m7 0h3m5 0h3m-2 0h3m7 0h3m2 0h3m-76 1h3m16 0h3m9 0h3m14 0h3m0 0h3m7 0h3m1 0h3m4 0h3m11 0h3m-70 1h3m0 0h3m16 0h3m18 0h3m11 0h3m-20 1h3m28 0h3m-94 1h3m19 0h3m15 0h3m1 0h3m27 0h3m108 0h3m-150 1h3m0 0h3m-14 1h3m32 0h3m-55 1h3m59 0h3m-91 1h3m37 0h3m1 0h3m1 0h3m6 0h3m22 0h3m-1 0h3m-40 1h3m4 0h3m-25 1h3m34 0h3m44 0h3m-85 1h3m-21 1h3m42 0h3m-50 1h3m19 0h3m-16 1h3m-1 1h3m13 0h3m0 0h3m7 0h3m-51 1h3m7 0h3m71 0h3m-91 2h3m13 0h3m51 0h3m18 0h3m-102 1h3m7 0h3m6 0h3m39 0h3m-50 1h3m6 0h3m5 0h3m50 0h3m-103 1h3m29 0h3m18 0h3m10 0h3m-33 1h3m17 0h3m-1 0h3m-8 1h3m-15 1h3m-22 1h3m9 1h3m23 0h3m-36 1h3m55 0h3m-58 1h3m66 0h3m-65 1h3m-13 1h3m-5 1h3m7 0h3m16 0h3m11 0h3m-28 1h3m1 0h3m-1 0h3m-1 0h3m22 2h3m-69 1h3m7 0h3m9 0h3m12 0h3m-1 0h3m-20 1h3m-37 1h3m-1 0h3m23 0h3m-14 2h3m17 1h3m-48 1h3m30 0h3m14 0h3m126 0h3m-164 1h3m68 1h3m-47 1h3m7 0h3m-1 0h3m9 0h3m10 0h3m11 0h3m-73 2h3m36 0h3m-46 2h3m28 0h3m5 0h3m7 0h3m7 0h3m2 0h3m-86 1h3m13 0h3m1 0h3m69 0h3m129 0h3m-208 1h3m16 0h3m2 0h3m6 0h3m4 1h3m-24 1h3m2 0h3m2 0h3m4 0h3m-41 1h3m20 0h3m2 0h3m-40 1h3m2 0h3m17 0h3m10 0h3m-37 1h3m19 0h3m9 0h3m-52 1h3m59 0h3m-34 1h3m10 0h3m24 1h3m7 0h3m-77 3h3m0 3h3m2 0h3m40 0h3m79 0h3m-118 1h3m5 0h3m-11 1h3m28 0h3m-39 1h3m-21 3h3m8 1h3m26 0h3m-5 2h3m-1 0h3m15 0h3m-3 1h3m-14 2h3m-21 1h3m45 0h3m-48 4h3m35 7h3m27 25h3m-35 31h3" stroke="#1ed21e" stroke-width="2.8" fill="none" opacity="0.85"/>
<path transform="scale(.4)" d="M1987 1655h3m18 17h3m-76 19h3m-2 4h3m21 0h3m-14 10h3m31 0h3m18 1h3m-48 2h3m7 2h3m-13 1h3m9 0h3m7 0h3m-40 1h3m-64 1h3m87 0h3m-51 2h3m3 0h3m32 1h3m-47 1h3m9 3h3m26 0h3m-31 2h3m8 0h3m-7 1h3m-33 1h3m12 0h3m24 0h3m-7 1h3m-81 1h3m45 0h3m8 0h3m-11 2h3m4 0h3m-23 1h3m-21 1h3m49 0h3m-9 1h3m21 0h3m-79 1h3m27 0h3m-1 0h3m9 0h3m13 1h3m4 0h3m-58 3h3m-12 1h3m-30 1h3m27 0h3m41 0h3m-62 4h3m15 0h3m19 0h3m-32 1h3m-1 0h3m-12 1h3m-16 1h3m23 0h3m-17 1h3m1 0h3m27 1h3m-48 4h3m-14 3h3m3 0h3m23 1h3m-18 1h3m14 1h3m-36 1h3m50 1h3m-90 11h3m43 1h3m-49 5h3m20 3h3m-61 16h3m41 1h3m8 0h3m-10 7h3m12 1h3m-48 7h3m30 11h3m-48 13h3" stroke="#f0dc00" stroke-width="2.8" fill="none" opacity="0.9"/>
<path transform="scale(.4)" d="M1944 1679h3m0 32h3m-24 6h3m23 3h3m-24 2h3m10 0h3m-14 2h3m-1 0h3m-1 1h3m19 0h3m-23 1h3m-32 1h3m24 1h3m-31 1h3m14 0h3m21 3h3m-32 1h3m-7 1h3m10 0h3m-44 2h3m24 1h3m-23 1h3m-22 3h3m1 1h3m22 0h3m-37 2h3m-6 1h3m22 2h3m-16 13h3m-37 4h3m23 1h3m-29 3h3m12 1h3m-30 14h3m-22 4h3m21 4h3m-35 4h3m21 1h3m-23 8h3m2 13h3" stroke="#ff3200" stroke-width="2.8" fill="none" opacity="0.9"/>
<path d="M710.5 702C710.8 699.9 711.8 697 714 694.2C716.2 691.4 719.5 688.3 723.7 685.1C727.9 682 733.7 678.5 739.3 675.4C744.9 672.3 751 669.2 757.4 666.3C763.9 663.4 771.3 660.5 778.2 657.9C785.1 655.3 792.5 652.7 798.9 650.8C805.4 648.8 811.7 647.2 817.1 646.2C822.5 645.2 827.5 644.9 831.4 644.9C835.3 644.9 838.1 645.3 840.5 646.2C842.8 647.1 844.9 648.5 845.6 650.1C846.4 651.7 846.1 653.7 845 655.9C843.9 658.2 841.9 661.1 839.2 663.7C836.5 666.3 832.9 668.8 828.8 671.5C824.7 674.2 819.5 677.1 814.5 679.9C809.5 682.7 804.6 685.7 798.9 688.4C793.3 691.1 786.8 693.8 780.8 696.1C774.7 698.5 768.7 700.8 762.6 702.6C756.6 704.5 750.1 706 744.5 707.2C738.9 708.3 733.5 709.1 728.9 709.4C724.4 709.7 720 709.3 717.2 708.9C714.4 708.4 713.2 707.7 712 706.5C710.9 705.4 710.2 704 710.5 702Z" fill="none" stroke="#0a0a0a" stroke-width="1.8"/>
<path d="M703 737.7C702.8 734.8 704.3 731.6 706.2 728.6C708.2 725.5 711.1 722.3 714.6 719.5C718.2 716.7 722.9 713.9 727.6 711.7C732.4 709.6 738 707.8 743.2 706.5C748.4 705.2 754.2 704.3 758.7 703.9C763.3 703.6 767 703.8 770.4 704.6C773.9 705.3 777 706.8 779.5 708.5C782 710.1 784 712.1 785.3 714.3C786.6 716.5 787.6 718.8 787.3 721.4C787 724 785.5 727.1 783.4 729.9C781.2 732.7 778 735.7 774.3 738.3C770.6 740.9 766.1 743.4 761.3 745.4C756.6 747.5 751 749.3 745.8 750.6C740.6 751.9 735 753.1 730.2 753.2C725.5 753.3 721 752.6 717.2 751.3C713.5 750 709.9 747.7 707.5 745.4C705.1 743.2 703.2 740.5 703 737.7Z" fill="none" stroke="#0a0a0a" stroke-width="1.8"/>
<path d="M786.2 713C786.5 710.5 787.1 707.2 788.6 703.9C790 700.7 792.2 696.9 795.1 693.6C797.9 690.2 801.5 686.7 805.4 683.8C809.3 680.9 813.9 678.1 818.4 676C822.9 674 828.1 672.4 832.7 671.5C837.2 670.6 841.8 670.5 845.6 670.9C849.5 671.2 853.1 672 856 673.5C858.9 674.9 861.6 677 863.2 679.3C864.7 681.6 865.3 684.3 865.1 687.1C864.9 689.9 863.6 693.1 861.9 696.1C860.1 699.2 857.9 702.1 854.7 705.2C851.6 708.4 847.4 712 843 715C838.7 717.9 833.8 720.6 828.8 722.7C823.8 724.9 818 727.1 813.2 727.9C808.5 728.8 803.9 728.6 800.2 727.9C796.6 727.3 793.3 725.5 791.2 724C789 722.5 788.1 720.7 787.3 718.8C786.5 717 786 715.5 786.2 713Z" fill="none" stroke="#0a0a0a" stroke-width="1.8"/>
<text x="777.2" y="679.8" font-family="'Liberation Sans','DejaVu Sans',sans-serif" font-weight="bold" font-size="10" text-anchor="middle" fill="#3a3a3a" stroke="#fff" stroke-opacity="0.6" stroke-width="1.6" paint-order="stroke">S</text>
<text x="745.4" y="733" font-family="'Liberation Sans','DejaVu Sans',sans-serif" font-weight="bold" font-size="10" text-anchor="middle" fill="#3a3a3a" stroke="#fff" stroke-opacity="0.6" stroke-width="1.6" paint-order="stroke">G1</text>
<text x="825.5" y="702.5" font-family="'Liberation Sans','DejaVu Sans',sans-serif" font-weight="bold" font-size="10" text-anchor="middle" fill="#3a3a3a" stroke="#fff" stroke-opacity="0.6" stroke-width="1.6" paint-order="stroke">G2</text>
<path d="M670.7 593.1H906.5" fill="none" stroke="#c0c0c0" stroke-width="1.2"/>
<path d="M906.5 593.1V832.6" fill="none" stroke="#c0c0c0" stroke-width="1.2"/>
<path d="M670.7 595.6h-3.2M670.7 624.2h-3.2M670.7 679.2h-3.2M670.7 686.9h-3.2M670.7 696.2h-3.2M670.7 707.6h-3.2M670.7 720.1h-3.2M670.7 735.6h-3.2M670.7 756h-3.2M670.7 784h-3.2M670.7 832.6v3.6M689.8 832.6v3.6M705.4 832.6v3.6M717.8 832.6v3.6M728.2 832.6v3.6M737.1 832.6v3.6M745.8 832.6v3.6M799.8 832.6v3.6M827.8 832.6v3.6M846.5 832.6v3.6M863.1 832.6v3.6M874.5 832.6v3.6M885.9 832.6v3.6M894.2 832.6v3.6M903.1 832.6v3.6" fill="none" stroke="#444" stroke-width="1.3"/>
<path d="M670.7 593.1V833.4" fill="none" stroke="#6a6a6a" stroke-width="1.5"/>
<path d="M670 832.6H906.5M670.7 671.3h-6.3M670.7 831h-6.3M752.7 832.6v6.5" fill="none" stroke="#222" stroke-width="1.7"/>
<text x="777.4" y="814.1" font-size="34" text-anchor="start" fill="#000" stroke-width="0.7" stroke-linejoin="round">GM3S</text>
<text x="766.9" y="885.1" font-size="33" text-anchor="start" fill="#000" stroke-width="0.7" stroke-linejoin="round">PI</text>
<path transform="scale(.4)" d="M2719 1580h3m26 5h3m-20 8h3m-43 2h3m65 0h3m-18 1h3m-8 1h3m14 1h3m1 0h3m-4 1h3m1 0h3m-16 1h3m5 0h3m-2 0h3m-11 2h3m-32 1h3m-2 0h3m3 0h3m-49 1h3m69 0h3m-63 1h3m17 0h3m45 0h3m-43 1h3m20 0h3m5 0h3m-59 1h3m35 0h3m0 0h3m3 0h3m-50 2h3m7 0h3m10 0h3m-64 1h3m8 0h3m11 0h3m7 0h3m20 0h3m-2 0h3m-14 1h3m17 0h3m2 0h3m5 0h3m-39 1h3m15 0h3m11 0h3m5 0h3m6 0h3m-77 1h3m1 0h3m-1 0h3m-2 0h3m10 0h3m-2 0h3m12 0h3m17 0h3m-2 0h3m2 0h3m2 0h3m-88 1h3m20 0h3m1 0h3m3 0h3m6 0h3m8 0h3m6 0h3m5 0h3m19 0h3m7 0h3m-79 1h3m0 0h3m32 0h3m3 0h3m-109 1h3m12 0h3m50 0h3m15 0h3m6 0h3m6 0h3m9 0h3m0 0h3m-2 0h3m2 0h3m-2 0h3m-2 0h3m-78 1h3m-2 0h3m6 0h3m7 0h3m1 0h3m2 0h3m-1 0h3m0 0h3m9 0h3m-2 0h3m0 0h3m10 0h3m14 0h3m-125 1h3m19 0h3m19 0h3m29 0h3m9 0h3m32 0h3m-90 1h3m18 0h3m22 0h3m42 0h3m-97 1h3m17 0h3m-2 0h3m13 0h3m13 0h3m6 0h3m8 0h3m11 0h3m0 0h3m1 0h3m-135 1h3m65 0h3m14 0h3m3 0h3m-1 0h3m5 0h3m9 0h3m-87 1h3m2 0h3m26 0h3m19 0h3m0 0h3m-1 0h3m0 0h3m-108 1h3m21 0h3m50 0h3m-25 1h3m5 0h3m5 0h3m10 0h3m-2 0h3m-2 0h3m0 0h3m-1 0h3m3 0h3m2 0h3m1 0h3m-1 0h3m-1 0h3m2 0h3m0 0h3m5 0h3m0 0h3m-1 0h3m-2 0h3m0 0h3m4 0h3m-1 0h3m-82 1h3m-2 0h3m-1 0h3m26 0h3m4 0h3m-69 1h3m9 0h3m2 0h3m-2 0h3m5 0h3m-1 0h3m12 0h3m1 0h3m1 0h3m12 0h3m3 0h3m4 0h3m23 0h3m-118 1h3m9 0h3m9 0h3m6 0h3m-1 0h3m2 0h3m9 0h3m-1 0h3m0 0h3m0 0h3m1 0h3m1 0h3m-1 0h3m0 0h3m21 0h3m-2 0h3m-2 0h3m-85 1h3m5 0h3m25 0h3m-1 0h3m-1 0h3m-2 0h3m-2 0h3m6 0h3m8 0h3m4 0h3m4 0h3m3 0h3m2 0h3m-90 1h3m13 0h3m8 0h3m-2 0h3m-2 0h3m17 0h3m4 0h3m29 0h3m-123 1h3m8 0h3m16 0h3m-2 0h3m14 0h3m7 0h3m2 0h3m2 0h3m-1 0h3m0 0h3m1 0h3m0 0h3m14 0h3m-2 0h3m3 0h3m11 0h3m9 0h3m-132 1h3m0 0h3m0 0h3m5 0h3m8 0h3m32 0h3m8 0h3m-2 0h3m-2 0h3m6 0h3m7 0h3m4 0h3m0 0h3m5 0h3m-1 0h3m-101 1h3m4 0h3m8 0h3m-2 0h3m2 0h3m1 0h3m16 0h3m-2 0h3m-1 0h3m-2 0h3m1 0h3m-2 0h3m10 0h3m1 0h3m4 0h3m-1 0h3m8 0h3m-2 0h3m-2 0h3m19 0h3m-120 1h3m10 0h3m7 0h3m-2 0h3m3 0h3m2 0h3m4 0h3m1 0h3m4 0h3m3 0h3m4 0h3m-1 0h3m1 0h3m-1 0h3m3 0h3m11 0h3m-2 0h3m-2 0h3m-1 0h3m0 0h3m1 0h3m-166 1h3m18 0h3m30 0h3m8 0h3m6 0h3m6 0h3m3 0h3m5 0h3m4 0h3m0 0h3m-2 0h3m-1 0h3m-2 0h3m-1 0h3m7 0h3m6 0h3m8 0h3m-1 0h3m21 0h3m-164 1h3m59 0h3m-2 0h3m19 0h3m1 0h3m1 0h3m-2 0h3m1 0h3m21 0h3m0 0h3m2 0h3m-2 0h3m2 0h3m5 0h3m-121 1h3m24 0h3m-2 0h3m6 0h3m6 0h3m6 0h3m6 0h3m3 0h3m-1 0h3m0 0h3m7 0h3m-2 0h3m7 0h3m3 0h3m7 0h3m19 0h3m-138 1h3m2 0h3m10 0h3m8 0h3m3 0h3m4 0h3m-2 0h3m-1 0h3m4 0h3m-2 0h3m-2 0h3m6 0h3m1 0h3m4 0h3m4 0h3m0 0h3m-2 0h3m0 0h3m24 0h3m19 0h3m-169 1h3m36 0h3m16 0h3m4 0h3m2 0h3m-2 0h3m2 0h3m4 0h3m3 0h3m1 0h3m6 0h3m-2 0h3m1 0h3m-2 0h3m2 0h3m-1 0h3m-2 0h3m-2 0h3m1 0h3m4 0h3m-1 0h3m25 0h3m-130 1h3m9 0h3m9 0h3m6 0h3m-1 0h3m27 0h3m1 0h3m6 0h3m6 0h3m-2 0h3m6 0h3m-2 0h3m10 0h3m-139 1h3m17 0h3m3 0h3m2 0h3m10 0h3m3 0h3m-1 0h3m5 0h3m-2 0h3m8 0h3m-1 0h3m1 0h3m-2 0h3m0 0h3m4 0h3m5 0h3m-2 0h3m-2 0h3m-1 0h3m-2 0h3m14 0h3m-1 0h3m9 0h3m1 0h3m12 0h3m-172 1h3m38 0h3m1 0h3m-2 0h3m37 0h3m-2 0h3m4 0h3m5 0h3m0 0h3m0 0h3m4 0h3m2 0h3m1 0h3m1 0h3m2 0h3m11 0h3m1 0h3m-140 1h3m18 0h3m36 0h3m8 0h3m10 0h3m6 0h3m-1 0h3m1 0h3m4 0h3m-2 0h3m1 0h3m7 0h3m1 0h3m-144 1h3m31 0h3m12 0h3m13 0h3m0 0h3m1 0h3m9 0h3m-2 0h3m0 0h3m4 0h3m1 0h3m0 0h3m8 0h3m5 0h3m-2 0h3m1 0h3m-2 0h3m1 0h3m-2 0h3m-2 0h3m-100 1h3m14 0h3m14 0h3m19 0h3m0 0h3m-2 0h3m-2 0h3m1 0h3m1 0h3m2 0h3m4 0h3m-2 0h3m8 0h3m6 0h3m-2 0h3m-2 0h3m7 0h3m17 0h3m7 0h3m-153 1h3m-1 0h3m14 0h3m0 0h3m-2 0h3m-1 0h3m2 0h3m9 0h3m9 0h3m6 0h3m0 0h3m0 0h3m1 0h3m27 0h3m7 0h3m1 0h3m2 0h3m17 0h3m-193 1h3m26 0h3m27 0h3m1 0h3m3 0h3m6 0h3m14 0h3m15 0h3m0 0h3m6 0h3m-1 0h3m3 0h3m2 0h3m-2 0h3m4 0h3m11 0h3m17 0h3m-154 1h3m33 0h3m40 0h3m8 0h3m3 0h3m0 0h3m4 0h3m13 0h3m4 0h3m-2 0h3m3 0h3m19 0h3m0 0h3m-155 1h3m5 0h3m0 0h3m6 0h3m13 0h3m-1 0h3m-1 0h3m16 0h3m0 0h3m1 0h3m2 0h3m6 0h3m-2 0h3m7 0h3m2 0h3m2 0h3m5 0h3m-101 1h3m3 0h3m0 0h3m0 0h3m4 0h3m9 0h3m-1 0h3m7 0h3m-1 0h3m12 0h3m1 0h3m7 0h3m6 0h3m1 0h3m6 0h3m2 0h3m0 0h3m17 0h3m-160 1h3m26 0h3m1 0h3m0 0h3m12 0h3m-2 0h3m-1 0h3m1 0h3m13 0h3m2 0h3m0 0h3m-2 0h3m-2 0h3m15 0h3m-2 0h3m0 0h3m4 0h3m6 0h3m-2 0h3m-1 0h3m-2 0h3m2 0h3m2 0h3m3 0h3m27 0h3m-161 1h3m14 0h3m2 0h3m31 0h3m-1 0h3m1 0h3m1 0h3m-1 0h3m-1 0h3m6 0h3m8 0h3m-2 0h3m-2 0h3m-2 0h3m-2 0h3m-1 0h3m0 0h3m-1 0h3m1 0h3m-1 0h3m10 0h3m11 0h3m-127 1h3m15 0h3m0 0h3m-2 0h3m-1 0h3m4 0h3m-2 0h3m5 0h3m0 0h3m-1 0h3m-2 0h3m-1 0h3m10 0h3m2 0h3m12 0h3m-2 0h3m0 0h3m23 0h3m15 0h3m5 0h3m21 0h3m-172 1h3m3 0h3m0 0h3m4 0h3m0 0h3m2 0h3m0 0h3m11 0h3m-1 0h3m8 0h3m-1 0h3m-2 0h3m7 0h3m-2 0h3m17 0h3m3 0h3m1 0h3m1 0h3m2 0h3m-122 1h3m6 0h3m1 0h3m-1 0h3m2 0h3m12 0h3m-1 0h3m9 0h3m4 0h3m7 0h3m-1 0h3m18 0h3m7 0h3m3 0h3m-1 0h3m0 0h3m-116 1h3m15 0h3m17 0h3m1 0h3m-2 0h3m1 0h3m8 0h3m4 0h3m-2 0h3m7 0h3m3 0h3m2 0h3m-2 0h3m1 0h3m3 0h3m17 0h3m-2 0h3m-2 0h3m0 0h3m1 0h3m5 0h3m26 0h3m-165 1h3m2 0h3m-1 0h3m2 0h3m14 0h3m1 0h3m-2 0h3m-2 0h3m0 0h3m4 0h3m1 0h3m2 0h3m1 0h3m7 0h3m-2 0h3m-2 0h3m20 0h3m2 0h3m1 0h3m0 0h3m10 0h3m-182 1h3m49 0h3m10 0h3m3 0h3m6 0h3m-2 0h3m14 0h3m-2 0h3m-1 0h3m4 0h3m16 0h3m-2 0h3m5 0h3m5 0h3m12 0h3m8 0h3m10 0h3m10 0h3m37 0h3m-198 1h3m-1 0h3m1 0h3m1 0h3m2 0h3m8 0h3m3 0h3m13 0h3m9 0h3m5 0h3m-1 0h3m13 0h3m1 0h3m7 0h3m9 0h3m2 0h3m5 0h3m10 0h3m12 0h3m6 0h3m22 0h3m-191 1h3m9 0h3m6 0h3m3 0h3m15 0h3m-1 0h3m-2 0h3m-2 0h3m6 0h3m-1 0h3m2 0h3m16 0h3m1 0h3m0 0h3m49 0h3m-143 1h3m13 0h3m-2 0h3m-2 0h3m6 0h3m-1 0h3m-2 0h3m4 0h3m4 0h3m4 0h3m0 0h3m2 0h3m6 0h3m10 0h3m-1 0h3m14 0h3m4 0h3m6 0h3m5 0h3m2 0h3m5 0h3m-2 0h3m1 0h3m38 0h3m-195 1h3m7 0h3m14 0h3m10 0h3m-1 0h3m3 0h3m7 0h3m7 0h3m12 0h3m4 0h3m2 0h3m3 0h3m9 0h3m26 0h3m20 0h3m-152 1h3m10 0h3m9 0h3m-1 0h3m10 0h3m12 0h3m25 0h3m9 0h3m-2 0h3m3 0h3m18 0h3m-120 1h3m3 0h3m28 0h3m-2 0h3m4 0h3m-2 0h3m13 0h3m-1 0h3m-2 0h3m-2 0h3m8 0h3m37 0h3m4 0h3m-2 0h3m-136 1h3m3 0h3m3 0h3m4 0h3m20 0h3m2 0h3m0 0h3m0 0h3m-1 0h3m30 0h3m-2 0h3m20 0h3m9 0h3m17 0h3m25 0h3m-159 1h3m6 0h3m22 0h3m1 0h3m2 0h3m-2 0h3m0 0h3m-2 0h3m9 0h3m32 0h3m-2 0h3m45 0h3m20 0h3m8 0h3m-211 1h3m17 0h3m16 0h3m-1 0h3m-1 0h3m1 0h3m-1 0h3m1 0h3m12 0h3m12 0h3m-1 0h3m1 0h3m4 0h3m20 0h3m0 0h3m3 0h3m2 0h3m-2 0h3m1 0h3m3 0h3m27 0h3m-2 0h3m-189 1h3m-2 0h3m29 0h3m-1 0h3m5 0h3m3 0h3m0 0h3m2 0h3m3 0h3m-2 0h3m2 0h3m17 0h3m34 0h3m10 0h3m17 0h3m26 0h3m-182 1h3m2 0h3m14 0h3m3 0h3m-1 0h3m3 0h3m-2 0h3m1 0h3m1 0h3m-2 0h3m0 0h3m14 0h3m1 0h3m12 0h3m17 0h3m1 0h3m12 0h3m1 0h3m3 0h3m37 0h3m24 0h3m-211 1h3m23 0h3m-2 0h3m4 0h3m7 0h3m-2 0h3m-2 0h3m14 0h3m9 0h3m0 0h3m-1 0h3m32 0h3m0 0h3m4 0h3m6 0h3m-2 0h3m27 0h3m2 0h3m-187 1h3m19 0h3m1 0h3m18 0h3m-2 0h3m0 0h3m3 0h3m0 0h3m13 0h3m19 0h3m5 0h3m9 0h3m5 0h3m10 0h3m29 0h3m26 0h3m-180 1h3m24 0h3m10 0h3m3 0h3m-1 0h3m0 0h3m4 0h3m24 0h3m0 0h3m0 0h3m5 0h3m24 0h3m-1 0h3m5 0h3m-149 1h3m22 0h3m11 0h3m-2 0h3m2 0h3m4 0h3m23 0h3m0 0h3m-1 0h3m2 0h3m13 0h3m46 0h3m38 0h3m-172 1h3m-1 0h3m-1 0h3m1 0h3m10 0h3m1 0h3m12 0h3m11 0h3m14 0h3m9 0h3m70 0h3m-197 1h3m13 0h3m8 0h3m-1 0h3m0 0h3m18 0h3m2 0h3m-2 0h3m11 0h3m-2 0h3m3 0h3m5 0h3m13 0h3m-2 0h3m-2 0h3m0 0h3m2 0h3m-1 0h3m2 0h3m6 0h3m0 0h3m0 0h3m-118 1h3m0 0h3m12 0h3m17 0h3m-1 0h3m5 0h3m12 0h3m58 0h3m45 0h3m-216 1h3m12 0h3m38 0h3m-1 0h3m6 0h3m-2 0h3m9 0h3m0 0h3m15 0h3m1 0h3m10 0h3m12 0h3m-95 1h3m7 0h3m4 0h3m12 0h3m16 0h3m9 0h3m7 0h3m-2 0h3m16 0h3m1 0h3m8 0h3m19 0h3m58 0h3m-237 1h3m32 0h3m-1 0h3m5 0h3m-2 0h3m11 0h3m6 0h3m-2 0h3m-1 0h3m-2 0h3m1 0h3m-2 0h3m3 0h3m0 0h3m8 0h3m3 0h3m6 0h3m7 0h3m27 0h3m2 0h3m32 0h3m3 0h3m10 0h3m18 0h3m-208 1h3m20 0h3m17 0h3m1 0h3m4 0h3m16 0h3m3 0h3m-1 0h3m8 0h3m23 0h3m4 0h3m25 0h3m4 0h3m1 0h3m39 0h3m-208 1h3m4 0h3m43 0h3m0 0h3m13 0h3m16 0h3m12 0h3m1 0h3m1 0h3m7 0h3m47 0h3m7 0h3m-225 1h3m45 0h3m4 0h3m1 0h3m21 0h3m5 0h3m8 0h3m20 0h3m0 0h3m2 0h3m2 0h3m20 0h3m5 0h3m-139 1h3m-1 0h3m9 0h3m30 0h3m3 0h3m-2 0h3m11 0h3m-2 0h3m1 0h3m0 0h3m-2 0h3m10 0h3m5 0h3m13 0h3m55 0h3m54 0h3m-229 1h3m2 0h3m10 0h3m-1 0h3m8 0h3m10 0h3m6 0h3m2 0h3m5 0h3m10 0h3m9 0h3m4 0h3m49 0h3m4 0h3m12 0h3m27 0h3m-208 1h3m10 0h3m0 0h3m2 0h3m-1 0h3m1 0h3m0 0h3m0 0h3m2 0h3m-1 0h3m20 0h3m-1 0h3m4 0h3m29 0h3m0 0h3m4 0h3m1 0h3m5 0h3m48 0h3m19 0h3m-228 1h3m40 0h3m23 0h3m1 0h3m26 0h3m5 0h3m30 0h3m-1 0h3m7 0h3m7 0h3m71 0h3m-235 1h3m19 0h3m11 0h3m11 0h3m3 0h3m2 0h3m7 0h3m8 0h3m1 0h3m4 0h3m6 0h3m-1 0h3m4 0h3m11 0h3m0 0h3m25 0h3m21 0h3m0 0h3m27 0h3m-228 1h3m14 0h3m29 0h3m3 0h3m3 0h3m3 0h3m1 0h3m3 0h3m1 0h3m24 0h3m25 0h3m3 0h3m0 0h3m10 0h3m-1 0h3m20 0h3m25 0h3m17 0h3m1 0h3m-223 1h3m33 0h3m-1 0h3m-2 0h3m1 0h3m8 0h3m1 0h3m9 0h3m-2 0h3m0 0h3m14 0h3m-1 0h3m35 0h3m3 0h3m33 0h3m4 0h3m28 0h3m0 0h3m-220 1h3m10 0h3m32 0h3m11 0h3m8 0h3m8 0h3m0 0h3m7 0h3m10 0h3m-1 0h3m2 0h3m0 0h3m3 0h3m39 0h3m20 0h3m12 0h3m-196 1h3m19 0h3m7 0h3m4 0h3m3 0h3m9 0h3m-1 0h3m2 0h3m5 0h3m-1 0h3m16 0h3m12 0h3m1 0h3m-2 0h3m2 0h3m10 0h3m41 0h3m11 0h3m5 0h3m28 0h3m-250 1h3m14 0h3m4 0h3m1 0h3m2 0h3m14 0h3m13 0h3m-2 0h3m2 0h3m21 0h3m-131 1h3m41 0h3m7 0h3m23 0h3m7 0h3m5 0h3m18 0h3m9 0h3m6 0h3m36 0h3m10 0h3m5 0h3m7 0h3m27 0h3m3 0h3m-267 1h3m62 0h3m16 0h3m24 0h3m1 0h3m14 0h3m23 0h3m-2 0h3m3 0h3m7 0h3m-2 0h3m3 0h3m43 0h3m2 0h3m8 0h3m19 0h3m23 0h3m-228 1h3m14 0h3m8 0h3m-2 0h3m-2 0h3m0 0h3m13 0h3m4 0h3m9 0h3m18 0h3m21 0h3m7 0h3m51 0h3m-205 1h3m20 0h3m22 0h3m4 0h3m4 0h3m10 0h3m10 0h3m10 0h3m1 0h3m2 0h3m-2 0h3m6 0h3m12 0h3m17 0h3m8 0h3m24 0h3m8 0h3m15 0h3m-241 1h3m54 0h3m3 0h3m3 0h3m33 0h3m8 0h3m9 0h3m-2 0h3m14 0h3m8 0h3m26 0h3m0 0h3m76 0h3m-259 1h3m33 0h3m10 0h3m14 0h3m8 0h3m-1 0h3m6 0h3m3 0h3m12 0h3m33 0h3m9 0h3m9 0h3m38 0h3m6 0h3m4 0h3m3 0h3m-245 1h3m20 0h3m0 0h3m6 0h3m2 0h3m2 0h3m-2 0h3m-1 0h3m25 0h3m8 0h3m8 0h3m0 0h3m-1 0h3m14 0h3m0 0h3m1 0h3m6 0h3m33 0h3m21 0h3m19 0h3m10 0h3m-209 1h3m5 0h3m3 0h3m26 0h3m8 0h3m3 0h3m-1 0h3m14 0h3m6 0h3m-1 0h3m3 0h3m12 0h3m7 0h3m5 0h3m-146 1h3m18 0h3m4 0h3m13 0h3m1 0h3m-2 0h3m1 0h3m4 0h3m1 0h3m1 0h3m0 0h3m20 0h3m26 0h3m1 0h3m-2 0h3m2 0h3m0 0h3m5 0h3m6 0h3m36 0h3m19 0h3m2 0h3m-218 1h3m4 0h3m5 0h3m2 0h3m8 0h3m5 0h3m5 0h3m11 0h3m3 0h3m-1 0h3m1 0h3m22 0h3m3 0h3m52 0h3m16 0h3m4 0h3m-1 0h3m48 0h3m-230 1h3m16 0h3m16 0h3m0 0h3m2 0h3m1 0h3m11 0h3m10 0h3m11 0h3m1 0h3m3 0h3m5 0h3m1 0h3m11 0h3m5 0h3m-2 0h3m46 0h3m1 0h3m2 0h3m-1 0h3m7 0h3m37 0h3m-250 1h3m1 0h3m-2 0h3m6 0h3m3 0h3m13 0h3m-1 0h3m3 0h3m10 0h3m15 0h3m-1 0h3m2 0h3m5 0h3m9 0h3m12 0h3m5 0h3m2 0h3m62 0h3m-192 1h3m16 0h3m-1 0h3m30 0h3m0 0h3m10 0h3m3 0h3m2 0h3m2 0h3m7 0h3m16 0h3m1 0h3m11 0h3m52 0h3m-166 1h3m3 0h3m-2 0h3m0 0h3m7 0h3m6 0h3m13 0h3m25 0h3m3 0h3m33 0h3m24 0h3m3 0h3m38 0h3m-224 1h3m13 0h3m8 0h3m1 0h3m2 0h3m0 0h3m5 0h3m7 0h3m19 0h3m11 0h3m5 0h3m53 0h3m11 0h3m-194 1h3m8 0h3m-1 0h3m21 0h3m-2 0h3m-1 0h3m-1 0h3m-1 0h3m-2 0h3m39 0h3m19 0h3m-1 0h3m83 0h3m6 0h3m7 0h3m1 0h3m9 0h3m3 0h3m15 0h3m-262 1h3m5 0h3m29 0h3m6 0h3m8 0h3m4 0h3m-2 0h3m1 0h3m11 0h3m14 0h3m26 0h3m-1 0h3m102 0h3m16 0h3m-208 1h3m10 0h3m12 0h3m1 0h3m1 0h3m10 0h3m11 0h3m6 0h3m20 0h3m12 0h3m9 0h3m41 0h3m-207 1h3m1 0h3m11 0h3m5 0h3m-1 0h3m7 0h3m-1 0h3m5 0h3m39 0h3m-1 0h3m3 0h3m48 0h3m-162 1h3m18 0h3m14 0h3m21 0h3m1 0h3m9 0h3m7 0h3m11 0h3m-2 0h3m8 0h3m6 0h3m117 0h3m-210 1h3m4 0h3m-2 0h3m11 0h3m1 0h3m-1 0h3m0 0h3m2 0h3m6 0h3m27 0h3m35 0h3m42 0h3m47 0h3m9 0h3m-281 1h3m29 0h3m5 0h3m5 0h3m1 0h3m4 0h3m13 0h3m0 0h3m21 0h3m4 0h3m-2 0h3m12 0h3m5 0h3m7 0h3m3 0h3m35 0h3m6 0h3m17 0h3m19 0h3m12 0h3m-202 1h3m1 0h3m1 0h3m2 0h3m19 0h3m-2 0h3m-1 0h3m8 0h3m0 0h3m-2 0h3m11 0h3m-2 0h3m128 0h3m17 0h3m18 0h3m-275 1h3m10 0h3m2 0h3m31 0h3m3 0h3m10 0h3m-2 0h3m14 0h3m41 0h3m20 0h3m42 0h3m55 0h3m-251 1h3m12 0h3m4 0h3m3 0h3m6 0h3m4 0h3m0 0h3m10 0h3m7 0h3m18 0h3m0 0h3m10 0h3m10 0h3m23 0h3m32 0h3m13 0h3m3 0h3m-2 0h3m-226 1h3m5 0h3m24 0h3m7 0h3m2 0h3m-2 0h3m9 0h3m20 0h3m6 0h3m2 0h3m-1 0h3m-1 0h3m10 0h3m-2 0h3m105 0h3m-1 0h3m34 0h3m-238 1h3m23 0h3m34 0h3m48 0h3m6 0h3m58 0h3m6 0h3m17 0h3m-273 1h3m13 0h3m14 0h3m12 0h3m0 0h3m-1 0h3m5 0h3m16 0h3m0 0h3m-1 0h3m1 0h3m1 0h3m-2 0h3m12 0h3m2 0h3m34 0h3m83 0h3m9 0h3m-206 1h3m8 0h3m4 0h3m20 0h3m3 0h3m7 0h3m-1 0h3m12 0h3m1 0h3m3 0h3m14 0h3m36 0h3m-154 1h3m30 0h3m0 0h3m5 0h3m12 0h3m31 0h3m44 0h3m10 0h3m40 0h3m20 0h3m-184 1h3m-1 0h3m32 0h3m12 0h3m6 0h3m4 0h3m63 0h3m54 0h3m-209 1h3m24 0h3m14 0h3m22 0h3m19 0h3m31 0h3m14 0h3m41 0h3m1 0h3m13 0h3m3 0h3m-250 1h3m5 0h3m10 0h3m6 0h3m26 0h3m34 0h3m-2 0h3m83 0h3m37 0h3m27 0h3m-235 1h3m7 0h3m34 0h3m61 0h3m121 0h3m-285 1h3m34 0h3m12 0h3m15 0h3m16 0h3m14 0h3m-2 0h3m79 0h3m6 0h3m11 0h3m2 0h3m7 0h3m14 0h3m14 0h3m-222 1h3m12 0h3m33 0h3m1 0h3m0 0h3m7 0h3m7 0h3m37 0h3m13 0h3m48 0h3m3 0h3m23 0h3m-228 1h3m1 0h3m33 0h3m23 0h3m25 0h3m67 0h3m-155 1h3m-2 0h3m16 0h3m25 0h3m9 0h3m13 0h3m41 0h3m46 0h3m-174 1h3m14 0h3m38 0h3m2 0h3m10 0h3m2 0h3m16 0h3m62 0h3m5 0h3m11 0h3m8 0h3m14 0h3m6 0h3m-179 1h3m7 0h3m-1 0h3m-2 0h3m4 0h3m70 0h3m0 0h3m3 0h3m42 0h3m8 0h3m-191 1h3m16 0h3m36 0h3m62 0h3m63 0h3m12 0h3m-205 1h3m7 0h3m3 0h3m20 0h3m1 0h3m29 0h3m1 0h3m5 0h3m-145 1h3m32 0h3m1 0h3m5 0h3m-2 0h3m4 0h3m11 0h3m23 0h3m-1 0h3m0 0h3m72 0h3m65 0h3m-190 1h3m7 0h3m8 0h3m-1 0h3m7 0h3m8 0h3m9 0h3m8 0h3m6 0h3m4 0h3m13 0h3m24 0h3m23 0h3m-210 1h3m43 0h3m36 0h3m12 0h3m7 0h3m16 0h3m64 0h3m-188 1h3m15 0h3m9 0h3m-1 0h3m9 0h3m8 0h3m4 0h3m-1 0h3m3 0h3m-2 0h3m24 0h3m6 0h3m11 0h3m2 0h3m4 0h3m90 0h3m15 0h3m-230 1h3m13 0h3m-1 0h3m6 0h3m5 0h3m17 0h3m1 0h3m1 0h3m4 0h3m39 0h3m28 0h3m21 0h3m43 0h3m-230 1h3m13 0h3m17 0h3m20 0h3m9 0h3m3 0h3m2 0h3m1 0h3m3 0h3m-43 1h3m3 0h3m10 0h3m0 0h3m13 0h3m7 0h3m95 0h3m-170 1h3m21 0h3m9 0h3m1 0h3m0 0h3m5 0h3m1 0h3m1 0h3m3 0h3m83 0h3m-163 1h3m18 0h3m-1 0h3m-1 0h3m20 0h3m-2 0h3m14 0h3m-2 0h3m-1 0h3m50 0h3m1 0h3m-140 1h3m10 0h3m7 0h3m0 0h3m5 0h3m34 0h3m9 0h3m10 0h3m1 0h3m6 0h3m6 0h3m-121 1h3m22 0h3m3 0h3m13 0h3m25 0h3m32 0h3m19 0h3m-127 1h3m9 0h3m19 0h3m23 0h3m38 0h3m69 0h3m-176 1h3m14 0h3m5 0h3m8 0h3m4 0h3m15 0h3m17 0h3m38 0h3m25 0h3m-191 1h3m12 0h3m30 0h3m12 0h3m-2 0h3m30 0h3m15 0h3m-101 1h3m62 0h3m14 0h3m7 0h3m65 0h3m-142 1h3m0 0h3m2 0h3m26 0h3m0 0h3m38 0h3m5 0h3m27 0h3m-2 0h3m36 0h3m-128 1h3m13 0h3m11 0h3m12 0h3m10 0h3m21 0h3m-124 1h3m5 0h3m13 0h3m2 0h3m5 0h3m28 0h3m42 0h3m1 0h3m16 0h3m-113 1h3m-2 0h3m12 0h3m-1 0h3m26 0h3m15 0h3m3 0h3m-1 0h3m0 0h3m103 0h3m-214 1h3m34 0h3m37 0h3m14 0h3m-90 1h3m17 0h3m15 0h3m19 0h3m13 0h3m8 0h3m10 0h3m122 0h3m-267 1h3m45 0h3m8 0h3m12 0h3m39 0h3m-49 1h3m11 0h3m29 0h3m13 0h3m95 0h3m-199 1h3m48 0h3m16 0h3m7 0h3m11 0h3m-125 1h3m25 0h3m49 0h3m6 0h3m13 0h3m-75 1h3m15 0h3m16 0h3m22 0h3m15 0h3m4 0h3m-2 0h3m31 0h3m-123 1h3m-2 0h3m9 0h3m5 0h3m-1 0h3m4 0h3m12 0h3m12 0h3m17 0h3m33 0h3m-106 1h3m6 0h3m1 0h3m5 0h3m37 0h3m5 0h3m40 0h3m15 0h3m-135 1h3m-2 0h3m33 0h3m13 0h3m30 0h3m-101 1h3m20 0h3m-2 0h3m20 0h3m16 0h3m30 0h3m90 0h3m-198 1h3m20 0h3m7 0h3m8 0h3m23 0h3m11 0h3m-1 0h3m-106 1h3m38 0h3m42 0h3m-2 0h3m3 0h3m2 0h3m-56 1h3m9 0h3m13 0h3m-1 0h3m40 0h3m-94 1h3m0 0h3m3 0h3m-2 0h3m13 0h3m0 0h3m27 0h3m122 0h3m-185 1h3m1 0h3m-2 0h3m11 0h3m3 0h3m-2 0h3m34 0h3m6 0h3m-115 1h3m35 0h3m51 0h3m10 0h3m-2 0h3m-1 0h3m-76 1h3m-2 0h3m21 0h3m22 0h3m71 0h3m59 0h3m-154 1h3m2 0h3m21 0h3m95 0h3m-160 1h3m23 0h3m33 0h3m-66 1h3m9 0h3m5 0h3m5 0h3m50 0h3m-85 1h3m19 0h3m-2 0h3m20 0h3m-60 1h3m56 0h3m11 0h3m-83 1h3m4 0h3m21 0h3m4 1h3m7 1h3m19 0h3m-72 1h3m37 0h3m-1 0h3m65 0h3m-79 1h3m23 0h3m-71 1h3m0 1h3m-2 0h3m37 0h3m-15 2h3m50 1h3m-12 1h3m-90 2h3m81 0h3m10 0h3m-48 2h3m16 1h3m9 7h3" stroke="#0a0aff" stroke-width="2.8" fill="none" opacity="0.85"/>
<path transform="scale(.4)" d="M2750 1606h3m-107 5h3m-10 10h3m74 4h3m34 0h3m-43 3h3m3 0h3m25 1h3m-20 1h3m-74 1h3m68 0h3m-85 5h3m7 0h3m-7 1h3m12 0h3m25 0h3m-81 1h3m98 0h3m-21 2h3m-14 1h3m-47 4h3m-36 1h3m25 0h3m18 0h3m-1 0h3m1 0h3m27 0h3m-2 0h3m3 0h3m-88 1h3m44 0h3m14 0h3m16 0h3m-56 1h3m24 0h3m14 0h3m-61 1h3m31 0h3m-73 1h3m112 0h3m-119 1h3m60 1h3m-2 0h3m-39 1h3m33 0h3m-38 1h3m33 0h3m-56 1h3m54 1h3m-33 1h3m-2 0h3m5 0h3m16 0h3m-57 1h3m12 0h3m-2 0h3m7 0h3m0 0h3m21 0h3m-65 1h3m3 0h3m17 0h3m0 0h3m0 0h3m46 0h3m18 0h3m-101 1h3m15 0h3m11 0h3m16 0h3m28 0h3m9 0h3m-84 1h3m36 0h3m5 0h3m-1 0h3m5 0h3m18 0h3m-108 1h3m28 0h3m10 0h3m11 0h3m-46 1h3m15 0h3m16 0h3m-78 1h3m51 0h3m16 0h3m17 0h3m-46 1h3m8 0h3m-17 1h3m8 0h3m-2 0h3m54 0h3m-116 1h3m84 0h3m-45 1h3m13 0h3m-1 0h3m-2 0h3m8 0h3m-22 1h3m3 0h3m-39 1h3m22 0h3m2 0h3m-2 0h3m9 0h3m-59 1h3m13 0h3m-2 0h3m21 0h3m-1 0h3m-1 0h3m1 0h3m1 0h3m5 0h3m5 0h3m-103 1h3m58 0h3m1 0h3m5 0h3m10 0h3m22 0h3m-88 1h3m30 0h3m-2 0h3m1 0h3m11 0h3m-2 0h3m3 0h3m-107 1h3m24 0h3m11 0h3m5 0h3m1 0h3m8 0h3m9 0h3m4 0h3m59 0h3m-100 1h3m26 0h3m12 0h3m5 0h3m14 0h3m-96 1h3m17 0h3m38 0h3m0 0h3m-2 0h3m5 0h3m4 0h3m0 0h3m3 0h3m-1 0h3m-1 0h3m25 0h3m-76 1h3m-2 0h3m5 0h3m-2 0h3m26 0h3m-130 1h3m97 0h3m-2 0h3m7 0h3m-2 0h3m2 0h3m-47 1h3m0 0h3m5 0h3m21 0h3m5 0h3m-74 1h3m5 0h3m13 0h3m11 0h3m14 0h3m29 0h3m-86 1h3m1 0h3m13 0h3m31 0h3m0 0h3m-65 1h3m1 0h3m6 0h3m14 0h3m9 0h3m9 0h3m-54 1h3m9 0h3m1 0h3m19 0h3m13 0h3m-1 0h3m-60 1h3m14 0h3m-1 0h3m2 0h3m4 0h3m3 0h3m9 0h3m1 0h3m7 0h3m11 0h3m-40 1h3m16 0h3m4 0h3m1 0h3m-68 1h3m6 0h3m20 0h3m9 0h3m6 0h3m-2 0h3m27 0h3m-50 1h3m2 0h3m12 0h3m25 0h3m1 0h3m-101 1h3m2 0h3m17 0h3m6 0h3m-64 1h3m60 0h3m3 0h3m1 0h3m23 0h3m6 0h3m10 0h3m-81 1h3m8 0h3m9 0h3m0 0h3m-36 1h3m17 0h3m-1 0h3m9 0h3m-39 1h3m0 0h3m9 0h3m10 0h3m0 0h3m11 0h3m0 0h3m6 0h3m-44 1h3m8 0h3m-1 0h3m4 0h3m6 0h3m5 0h3m-54 1h3m14 0h3m-1 0h3m3 0h3m-63 1h3m38 0h3m21 0h3m4 0h3m-41 1h3m37 0h3m12 0h3m17 0h3m-87 1h3m-1 0h3m2 0h3m12 0h3m1 0h3m2 0h3m-5 1h3m35 0h3m-98 1h3m53 0h3m7 0h3m-2 0h3m-88 1h3m35 0h3m5 0h3m14 0h3m0 0h3m1 0h3m2 0h3m-1 0h3m15 0h3m39 0h3m-115 1h3m20 0h3m11 0h3m-1 0h3m-44 1h3m13 0h3m27 0h3m10 0h3m-115 1h3m20 0h3m23 0h3m24 0h3m12 0h3m27 0h3m-64 1h3m-2 0h3m-2 0h3m14 0h3m21 1h3m-81 1h3m30 0h3m16 0h3m-1 1h3m1 0h3m-50 1h3m59 0h3m41 0h3m-81 1h3m2 0h3m3 0h3m116 0h3m-154 1h3m10 0h3m1 0h3m68 0h3m-111 1h3m19 1h3m28 0h3m36 0h3m-61 1h3m-4 1h3m0 0h3m26 1h3m26 0h3m-42 1h3m-53 2h3m19 0h3m36 0h3m-54 1h3m-34 1h3m12 1h3m8 0h3m15 2h3m-33 1h3m13 0h3m-10 1h3m35 1h3m8 0h3m-25 3h3m18 0h3m-102 5h3m105 0h3m-70 1h3m32 0h3m-10 1h3m28 0h3m3 1h3m-6 1h3m-61 1h3m58 0h3m5 1h3m15 0h3m-54 2h3m52 0h3m-75 1h3m11 0h3m13 1h3m10 4h3m-29 3h3m6 0h3m38 0h3m-97 2h3m73 1h3m-22 1h3m-20 7h3m-51 4h3m35 13h3" stroke="#00c8e6" stroke-width="2.8" fill="none" opacity="0.85"/>
<path transform="scale(.4)" d="M2749 1566h3m-48 52h3m2 2h3m-32 2h3m25 0h3m36 1h3m-40 3h3m9 0h3m-49 1h3m66 0h3m-77 1h3m20 1h3m3 0h3m-53 3h3m54 0h3m-18 2h3m-42 3h3m63 1h3m-55 1h3m64 0h3m-56 2h3m4 0h3m-28 1h3m-2 0h3m6 1h3m3 0h3m26 0h3m-2 0h3m-59 1h3m6 0h3m9 0h3m-2 0h3m18 0h3m4 0h3m-55 1h3m3 0h3m1 0h3m-21 1h3m0 1h3m8 0h3m7 0h3m2 0h3m-32 1h3m72 0h3m-70 1h3m51 1h3m-38 1h3m0 0h3m4 0h3m-32 2h3m25 0h3m16 0h3m-27 1h3m-96 1h3m49 0h3m25 0h3m12 0h3m-34 1h3m2 0h3m53 0h3m-88 1h3m-2 0h3m3 0h3m10 0h3m24 0h3m-1 0h3m31 0h3m9 0h3m-61 1h3m2 0h3m2 0h3m38 0h3m6 0h3m-90 1h3m15 0h3m-22 1h3m3 0h3m37 0h3m-74 1h3m7 0h3m0 0h3m-2 0h3m27 0h3m13 0h3m-1 0h3m10 0h3m0 0h3m-1 0h3m13 0h3m-94 1h3m-1 0h3m2 0h3m1 0h3m0 0h3m5 0h3m-1 0h3m21 0h3m5 0h3m4 0h3m-70 1h3m8 0h3m-1 0h3m2 0h3m4 0h3m-1 0h3m6 0h3m3 0h3m-1 0h3m5 0h3m-56 1h3m0 0h3m0 0h3m1 0h3m14 0h3m4 0h3m9 0h3m18 0h3m-79 1h3m9 0h3m2 0h3m17 0h3m54 0h3m-69 1h3m52 0h3m-82 1h3m26 0h3m8 0h3m5 0h3m-16 1h3m24 0h3m7 0h3m-90 1h3m18 0h3m25 0h3m-35 1h3m10 0h3m3 0h3m12 0h3m16 0h3m6 0h3m-92 1h3m24 0h3m7 0h3m-2 0h3m19 0h3m1 0h3m25 0h3m12 0h3m-78 1h3m1 0h3m5 0h3m-2 0h3m2 0h3m0 0h3m-1 0h3m8 0h3m2 0h3m16 0h3m1 0h3m19 0h3m-118 1h3m25 0h3m-1 0h3m10 0h3m12 0h3m-1 0h3m6 0h3m3 0h3m-1 0h3m-49 1h3m0 0h3m3 0h3m1 0h3m3 0h3m8 0h3m10 0h3m5 0h3m-1 0h3m-62 1h3m-2 0h3m9 0h3m-2 0h3m18 0h3m-2 0h3m3 0h3m-65 1h3m43 0h3m-2 0h3m3 0h3m9 0h3m-2 0h3m9 0h3m-2 0h3m-59 1h3m3 0h3m2 0h3m-1 0h3m-1 0h3m-1 0h3m1 0h3m-1 0h3m7 0h3m19 0h3m-73 1h3m16 0h3m1 0h3m-49 1h3m9 0h3m29 0h3m12 0h3m-2 0h3m-2 0h3m25 0h3m-74 1h3m5 0h3m1 0h3m4 0h3m4 0h3m-1 0h3m20 0h3m0 0h3m4 0h3m-1 0h3m-59 1h3m4 0h3m1 0h3m4 0h3m2 0h3m4 0h3m0 0h3m-77 1h3m4 0h3m34 0h3m2 0h3m2 0h3m2 0h3m-2 0h3m9 0h3m4 0h3m9 0h3m-74 1h3m7 0h3m2 0h3m6 0h3m2 0h3m7 0h3m0 0h3m11 0h3m2 0h3m4 0h3m-79 1h3m28 0h3m4 0h3m9 0h3m-55 1h3m30 0h3m5 0h3m8 0h3m3 0h3m17 0h3m1 0h3m-75 1h3m2 0h3m57 0h3m55 0h3m-127 1h3m11 0h3m4 0h3m1 0h3m-2 0h3m3 0h3m8 0h3m9 0h3m7 0h3m-104 1h3m17 0h3m16 0h3m5 0h3m10 0h3m2 0h3m-52 1h3m24 0h3m21 0h3m8 0h3m9 0h3m-42 1h3m-2 0h3m-2 0h3m13 0h3m42 0h3m-153 1h3m52 0h3m8 0h3m1 0h3m5 0h3m1 0h3m-2 0h3m18 0h3m-61 1h3m-2 0h3m10 0h3m15 0h3m37 0h3m-2 0h3m9 0h3m11 0h3m1 0h3m-86 1h3m24 0h3m18 0h3m-28 1h3m4 0h3m5 0h3m9 0h3m6 0h3m3 0h3m-74 1h3m25 0h3m7 0h3m6 0h3m28 0h3m5 0h3m-82 1h3m-2 0h3m11 0h3m56 0h3m49 0h3m-170 1h3m32 0h3m-2 0h3m19 0h3m-2 0h3m0 0h3m0 0h3m16 0h3m-59 1h3m21 0h3m15 0h3m-56 1h3m4 0h3m20 0h3m4 0h3m6 0h3m0 0h3m0 0h3m-1 0h3m5 0h3m40 0h3m-47 1h3m-58 1h3m19 0h3m14 0h3m5 0h3m12 0h3m-42 1h3m-2 0h3m6 0h3m-2 0h3m21 0h3m-52 1h3m15 0h3m4 0h3m10 0h3m-25 1h3m-37 1h3m17 0h3m29 0h3m-42 1h3m-1 0h3m45 0h3m-57 1h3m30 0h3m-44 1h3m-12 1h3m28 0h3m-24 1h3m2 0h3m2 0h3m8 0h3m7 0h3m-38 1h3m46 0h3m-76 1h3m81 0h3m-35 1h3m6 0h3m2 0h3m-97 1h3m64 0h3m0 0h3m29 0h3m-66 3h3m153 0h3m-135 1h3m171 0h3m-185 1h3m-4 1h3m-22 1h3m29 0h3m-37 1h3m0 0h3m35 0h3m-76 1h3m23 1h3m32 0h3m-26 2h3m112 0h3m-86 1h3m8 2h3m-41 2h3m41 0h3m-85 1h3m81 0h3m-59 2h3m15 2h3m-11 1h3m15 0h3m-19 3h3m55 0h3m-29 1h3m-30 4h3m-2 0h3m-29 1h3m25 0h3m-46 2h3m88 0h3m41 2h3m-85 1h3m-48 3h3m68 3h3m-34 3h3m1 0h3m-17 1h3m-22 4h3m48 3h3m13 3h3" stroke="#1ed21e" stroke-width="2.8" fill="none" opacity="0.85"/>
<path transform="scale(.4)" d="M2660 1644h3m-11 5h3m-1 1h3m-3 1h3m-14 3h3m32 2h3m-32 1h3m-10 4h3m-40 1h3m48 0h3m-37 1h3m19 0h3m7 0h3m16 0h3m-15 1h3m-27 1h3m35 0h3m-32 1h3m-19 2h3m-31 1h3m15 1h3m3 0h3m22 0h3m-32 1h3m7 0h3m13 0h3m-54 1h3m18 0h3m1 0h3m13 0h3m37 0h3m-58 1h3m-2 0h3m-16 1h3m14 0h3m-30 1h3m3 1h3m35 0h3m-46 1h3m0 2h3m27 0h3m-44 2h3m5 0h3m1 1h3m11 1h3m11 0h3m4 0h3m-79 1h3m0 0h3m25 0h3m4 0h3m45 0h3m10 0h3m-97 1h3m33 0h3m10 0h3m-52 1h3m1 0h3m2 0h3m7 1h3m-15 1h3m3 0h3m38 0h3m-15 1h3m13 0h3m-47 1h3m-23 4h3m14 0h3m11 0h3m-18 1h3m15 1h3m2 0h3m-32 1h3m5 0h3m27 0h3m-31 1h3m3 0h3m-19 1h3m18 2h3m-54 1h3m44 1h3m4 0h3m-59 1h3m33 0h3m-43 1h3m49 0h3m-8 1h3m0 1h3m3 2h3m-99 14h3m29 10h3m5 10h3m42 1h3m-51 2h3m-24 3h3m38 2h3m15 1h3" stroke="#f0dc00" stroke-width="2.8" fill="none" opacity="0.9"/>
<path transform="scale(.4)" d="M2659 1648h3m-2 4h3m-6 2h3m-1 2h3m-53 2h3m38 0h3m19 0h3m-7 1h3m-42 5h3m-1 0h3m-5 5h3m-8 4h3m0 0h3m5 0h3m-34 2h3m52 2h3m-56 1h3m26 0h3m-24 2h3m-22 2h3m4 0h3m-6 1h3m-9 1h3m16 1h3m-14 1h3m-17 1h3m2 0h3m14 1h3m-43 2h3m7 1h3m7 0h3m-15 1h3m16 0h3m-23 7h3m-37 36h3m22 25h3" stroke="#ff3200" stroke-width="2.8" fill="none" opacity="0.9"/>
<path d="M985.6 684.9C985.8 683.4 985.9 681.2 987.9 679C989.9 676.9 993.6 674.3 997.6 671.9C1001.6 669.5 1006.7 667.1 1011.9 664.7C1017.1 662.4 1022.9 659.9 1028.7 657.6C1034.6 655.3 1041.1 653.1 1046.9 651.1C1052.7 649.2 1058.4 647.3 1063.8 645.9C1069.2 644.5 1074.6 643.5 1079.3 642.7C1084.1 641.9 1088.7 641.5 1092.3 641.4C1095.9 641.3 1098.6 641.6 1100.7 642.3C1102.8 643.1 1104.6 644.4 1105 645.9C1105.4 647.5 1104.8 649.7 1103.3 651.8C1101.9 653.8 1099.3 656 1096.2 658.3C1093.1 660.5 1088.8 663 1084.5 665.4C1080.2 667.8 1075.2 670.3 1070.2 672.5C1065.3 674.8 1060.1 677.1 1054.7 679C1049.3 681 1043.4 682.8 1037.8 684.2C1032.2 685.6 1026.4 686.6 1021 687.4C1015.6 688.2 1010.2 688.7 1005.4 689C1000.6 689.3 995.6 689.3 992.4 689C989.3 688.7 987.7 688.1 986.6 687.4C985.4 686.8 985.3 686.3 985.6 684.9Z" fill="none" stroke="#0a0a0a" stroke-width="1.8"/>
<path d="M989.2 713.4C988.9 710.7 990.2 708.2 991.8 705.6C993.4 703 995.8 700.2 998.9 697.8C1002 695.4 1006.5 693.1 1010.6 691.3C1014.7 689.6 1019.2 688.3 1023.6 687.4C1027.9 686.6 1032.4 686.3 1036.5 686.4C1040.6 686.5 1045 687.1 1048.2 688.1C1051.4 689.1 1054 690.8 1056 692.6C1057.9 694.5 1059.3 697 1059.9 699.1C1060.4 701.3 1060.3 703.3 1059.2 705.6C1058.1 707.9 1056.1 710.5 1053.4 712.7C1050.7 715 1046.9 717.3 1043 719.2C1039.1 721.2 1034.6 723 1030 724.4C1025.5 725.8 1020.3 727.1 1015.8 727.4C1011.2 727.7 1006.5 727.3 1002.8 726.4C999.1 725.4 996 724 993.7 721.8C991.5 719.7 989.5 716.1 989.2 713.4Z" fill="none" stroke="#0a0a0a" stroke-width="1.8"/>
<path d="M1059.2 693.3C1058.6 691.2 1058.9 688.7 1059.9 686.1C1060.8 683.6 1062.7 680.5 1065.1 677.7C1067.4 674.9 1070.7 671.8 1074.1 669.3C1077.6 666.8 1081.7 664.5 1085.8 662.8C1089.9 661.1 1094.7 659.6 1098.8 658.9C1102.9 658.2 1107 658.2 1110.5 658.7C1113.9 659.1 1117.3 660.1 1119.5 661.5C1121.8 663 1123.4 665.2 1124.1 667.3C1124.8 669.5 1124.7 672 1123.7 674.5C1122.7 677 1120.7 679.7 1118.2 682.3C1115.8 684.9 1112.6 687.7 1109.2 690C1105.7 692.4 1101.6 694.8 1097.5 696.5C1093.4 698.3 1088.6 699.9 1084.5 700.7C1080.4 701.4 1076.3 701.4 1072.8 701.1C1069.4 700.7 1066 699.8 1063.8 698.5C1061.5 697.2 1059.9 695.3 1059.2 693.3Z" fill="none" stroke="#0a0a0a" stroke-width="1.8"/>
<text x="1027.7" y="665" font-family="'Liberation Sans','DejaVu Sans',sans-serif" font-weight="bold" font-size="10" text-anchor="middle" fill="#3a3a3a" stroke="#fff" stroke-opacity="0.6" stroke-width="1.6" paint-order="stroke">S</text>
<text x="1024.9" y="711" font-family="'Liberation Sans','DejaVu Sans',sans-serif" font-weight="bold" font-size="10" text-anchor="middle" fill="#3a3a3a" stroke="#fff" stroke-opacity="0.6" stroke-width="1.6" paint-order="stroke">G1</text>
<text x="1090.7" y="683.7" font-family="'Liberation Sans','DejaVu Sans',sans-serif" font-weight="bold" font-size="10" text-anchor="middle" fill="#3a3a3a" stroke="#fff" stroke-opacity="0.6" stroke-width="1.6" paint-order="stroke">G2</text>
<path d="M924.9 594.5H1157.5" fill="none" stroke="#555555" stroke-width="1.2"/>
<path d="M1157.5 594.5V833.7" fill="none" stroke="#777777" stroke-width="1.2"/>
<path d="M924.9 596.6h-3.2M924.9 617.4h-3.2M924.9 659.9h-3.2M924.9 665.1h-3.2M924.9 671.3h-3.2M924.9 680.6h-3.2M924.9 688.9h-3.2M924.9 700.4h-3.2M924.9 715.9h-3.2M924.9 737.1h-3.2M924.9 778.8h-3.2M924.9 784.4h-3.2M924.9 791.7h-3.2M924.9 800h-3.2M924.9 809.3h-3.2M924.9 820.7h-3.2M962.3 833.7v3.6M983 833.7v3.6M997.5 833.7v3.6M1008.5 833.7v3.6M1018.3 833.7v3.6M1025.6 833.7v3.6M1032.8 833.7v3.6M1038 833.7v3.6M1078.1 833.7v3.6M1098.8 833.7v3.6M1112.7 833.7v3.6M1124.5 833.7v3.6M1133.5 833.7v3.6M1141.8 833.7v3.6M1149 833.7v3.6M1154.2 833.7v3.6" fill="none" stroke="#444" stroke-width="1.3"/>
<path d="M924.9 594.5V834.5" fill="none" stroke="#6a6a6a" stroke-width="1.5"/>
<path d="M924.2 833.7H1157.5M924.9 653.3h-6.3M924.9 772.3h-6.3M927 833.7v6.5M1042.4 833.7v6.5" fill="none" stroke="#222" stroke-width="1.7"/>
<text x="1044.3" y="814.1" font-size="34" text-anchor="start" fill="#000" stroke-width="0.7" stroke-linejoin="round">Pkd2</text>
<text x="1024.4" y="885.1" font-size="33" text-anchor="start" fill="#000" stroke-width="0.7" stroke-linejoin="round">PI</text>
<path transform="scale(.4)" d="M3384 1608h3m-18 5h3m10 0h3m-22 10h3m-10 3h3m-37 1h3m-61 3h3m30 1h3m-36 1h3m51 1h3m53 1h3m-106 3h3m94 1h3m23 1h3m-75 2h3m-29 1h3m112 0h3m-49 1h3m25 0h3m-79 3h3m21 0h3m73 0h3m-59 1h3m53 0h3m-15 1h3m-24 1h3m23 0h3m-79 2h3m43 0h3m3 1h3m-76 1h3m22 0h3m35 2h3m5 0h3m32 0h3m-91 1h3m53 0h3m29 0h3m1 0h3m-30 1h3m12 0h3m-8 1h3m9 0h3m-169 1h3m26 0h3m37 0h3m46 0h3m-71 1h3m51 0h3m38 0h3m7 0h3m-29 1h3m10 0h3m-1 0h3m-2 0h3m11 0h3m1 0h3m2 0h3m-144 1h3m41 0h3m10 0h3m28 0h3m23 0h3m19 0h3m-251 1h3m109 0h3m105 0h3m8 0h3m-165 1h3m17 0h3m35 0h3m73 0h3m19 0h3m10 0h3m-150 1h3m22 0h3m100 0h3m29 0h3m-81 1h3m-2 0h3m47 0h3m1 0h3m23 0h3m-156 1h3m54 0h3m47 0h3m0 0h3m12 0h3m-69 1h3m24 0h3m7 0h3m19 0h3m5 0h3m13 0h3m1 0h3m-160 1h3m25 0h3m32 0h3m27 0h3m40 0h3m11 0h3m0 0h3m14 0h3m-168 1h3m29 0h3m36 0h3m18 0h3m24 0h3m0 0h3m7 0h3m5 0h3m-1 0h3m-1 0h3m2 0h3m1 0h3m-180 1h3m94 0h3m67 0h3m5 0h3m1 0h3m-51 1h3m54 0h3m-152 1h3m37 0h3m59 0h3m0 0h3m5 0h3m9 0h3m6 0h3m3 0h3m5 0h3m-112 1h3m71 0h3m-1 0h3m-1 0h3m4 0h3m6 0h3m1 0h3m-193 1h3m51 0h3m-2 0h3m93 0h3m10 0h3m20 0h3m4 0h3m-220 1h3m28 0h3m120 0h3m14 0h3m15 0h3m-1 0h3m1 0h3m4 0h3m-2 0h3m2 0h3m2 0h3m-121 1h3m91 0h3m-262 1h3m85 0h3m89 0h3m4 0h3m64 0h3m3 0h3m-2 0h3m23 0h3m-184 1h3m165 0h3m14 0h3m-145 1h3m84 0h3m15 0h3m1 0h3m-1 0h3m-2 0h3m4 0h3m3 0h3m3 0h3m0 0h3m0 0h3m-2 0h3m-189 1h3m65 0h3m25 0h3m45 0h3m14 0h3m3 0h3m-118 1h3m24 0h3m41 0h3m8 0h3m15 0h3m9 0h3m-2 0h3m2 0h3m6 0h3m2 0h3m-148 1h3m14 0h3m18 0h3m62 0h3m21 0h3m-1 0h3m0 0h3m1 0h3m9 0h3m-174 1h3m13 0h3m85 0h3m10 0h3m5 0h3m4 0h3m9 0h3m1 0h3m15 0h3m-185 1h3m34 0h3m117 0h3m10 0h3m1 0h3m-2 0h3m0 0h3m1 0h3m-2 0h3m-137 1h3m8 0h3m72 0h3m-2 0h3m1 0h3m17 0h3m-2 0h3m-1 0h3m-2 0h3m15 0h3m-182 1h3m29 0h3m27 0h3m68 0h3m8 0h3m0 0h3m14 0h3m10 0h3m4 0h3m-218 1h3m14 0h3m28 0h3m2 0h3m14 0h3m31 0h3m38 0h3m13 0h3m7 0h3m7 0h3m0 0h3m10 0h3m6 0h3m-1 0h3m6 0h3m1 0h3m-43 1h3m19 0h3m-2 0h3m5 0h3m2 0h3m-2 0h3m-177 1h3m8 0h3m28 0h3m-2 0h3m13 0h3m35 0h3m14 0h3m0 0h3m2 0h3m3 0h3m2 0h3m2 0h3m11 0h3m1 0h3m1 0h3m5 0h3m-106 1h3m20 0h3m18 0h3m24 0h3m6 0h3m2 0h3m-2 0h3m-2 0h3m4 0h3m-167 1h3m56 0h3m78 0h3m-2 0h3m2 0h3m0 0h3m12 0h3m-170 1h3m73 0h3m47 0h3m2 0h3m5 0h3m17 0h3m-1 0h3m-214 1h3m32 0h3m31 0h3m17 0h3m9 0h3m13 0h3m13 0h3m15 0h3m9 0h3m32 0h3m5 0h3m0 0h3m0 0h3m3 0h3m5 0h3m-269 1h3m76 0h3m-2 0h3m17 0h3m28 0h3m12 0h3m22 0h3m4 0h3m19 0h3m21 0h3m3 0h3m3 0h3m5 0h3m11 0h3m-204 1h3m4 0h3m27 0h3m6 0h3m9 0h3m29 0h3m65 0h3m9 0h3m9 0h3m2 0h3m6 0h3m0 0h3m4 0h3m1 0h3m-236 1h3m4 0h3m45 0h3m67 0h3m20 0h3m11 0h3m20 0h3m24 0h3m0 0h3m25 0h3m-267 1h3m28 0h3m23 0h3m31 0h3m3 0h3m3 0h3m21 0h3m7 0h3m6 0h3m20 0h3m22 0h3m8 0h3m9 0h3m12 0h3m15 0h3m-137 1h3m6 0h3m9 0h3m8 0h3m8 0h3m19 0h3m12 0h3m2 0h3m1 0h3m14 0h3m11 0h3m-189 1h3m23 0h3m49 0h3m23 0h3m8 0h3m29 0h3m1 0h3m0 0h3m17 0h3m-1 0h3m-2 0h3m-2 0h3m6 0h3m-217 1h3m22 0h3m9 0h3m18 0h3m16 0h3m18 0h3m18 0h3m26 0h3m7 0h3m5 0h3m15 0h3m4 0h3m14 0h3m-198 1h3m33 0h3m12 0h3m4 0h3m1 0h3m-2 0h3m31 0h3m37 0h3m13 0h3m17 0h3m0 0h3m1 0h3m-2 0h3m5 0h3m19 0h3m-208 1h3m33 0h3m4 0h3m40 0h3m63 0h3m20 0h3m27 0h3m-208 1h3m24 0h3m-1 0h3m5 0h3m21 0h3m13 0h3m12 0h3m7 0h3m5 0h3m35 0h3m6 0h3m-145 1h3m43 0h3m1 0h3m17 0h3m29 0h3m7 0h3m15 0h3m21 0h3m-1 0h3m21 0h3m0 0h3m-183 1h3m7 0h3m31 0h3m43 0h3m21 0h3m14 0h3m-1 0h3m5 0h3m3 0h3m-1 0h3m5 0h3m3 0h3m9 0h3m16 0h3m-217 1h3m66 0h3m2 0h3m14 0h3m29 0h3m3 0h3m13 0h3m16 0h3m8 0h3m9 0h3m0 0h3m11 0h3m2 0h3m-208 1h3m13 0h3m9 0h3m-1 0h3m5 0h3m-1 0h3m19 0h3m58 0h3m3 0h3m-1 0h3m23 0h3m-106 1h3m11 0h3m35 0h3m36 0h3m3 0h3m3 0h3m14 0h3m5 0h3m-2 0h3m-243 1h3m159 0h3m2 0h3m32 0h3m-1 0h3m-2 0h3m4 0h3m-2 0h3m11 0h3m-195 1h3m104 0h3m6 0h3m11 0h3m6 0h3m28 0h3m1 0h3m11 0h3m16 0h3m30 0h3m-204 1h3m7 0h3m4 0h3m30 0h3m-2 0h3m18 0h3m3 0h3m1 0h3m8 0h3m22 0h3m13 0h3m12 0h3m0 0h3m15 0h3m22 0h3m-204 1h3m22 0h3m18 0h3m7 0h3m4 0h3m4 0h3m6 0h3m3 0h3m19 0h3m8 0h3m4 0h3m9 0h3m11 0h3m4 0h3m8 0h3m-172 1h3m1 0h3m0 0h3m36 0h3m2 0h3m51 0h3m9 0h3m-2 0h3m-1 0h3m-2 0h3m2 0h3m2 0h3m0 0h3m-2 0h3m16 0h3m1 0h3m10 0h3m6 0h3m-239 1h3m40 0h3m58 0h3m6 0h3m43 0h3m-2 0h3m-1 0h3m3 0h3m8 0h3m20 0h3m5 0h3m3 0h3m2 0h3m8 0h3m-246 1h3m19 0h3m-2 0h3m70 0h3m63 0h3m0 0h3m-2 0h3m13 0h3m8 0h3m9 0h3m-1 0h3m7 0h3m26 0h3m3 0h3m-205 1h3m34 0h3m1 0h3m14 0h3m4 0h3m7 0h3m16 0h3m7 0h3m11 0h3m19 0h3m2 0h3m-2 0h3m11 0h3m2 0h3m-2 0h3m-1 0h3m23 0h3m1 0h3m6 0h3m-226 1h3m15 0h3m10 0h3m17 0h3m30 0h3m19 0h3m4 0h3m1 0h3m28 0h3m6 0h3m5 0h3m10 0h3m5 0h3m-1 0h3m20 0h3m-168 1h3m12 0h3m6 0h3m9 0h3m42 0h3m4 0h3m71 0h3m-183 1h3m30 0h3m1 0h3m10 0h3m24 0h3m7 0h3m11 0h3m-2 0h3m2 0h3m0 0h3m1 0h3m9 0h3m7 0h3m14 0h3m14 0h3m12 0h3m21 0h3m-276 1h3m1 0h3m33 0h3m24 0h3m14 0h3m-1 0h3m-2 0h3m35 0h3m18 0h3m-2 0h3m7 0h3m44 0h3m-2 0h3m0 0h3m8 0h3m-1 0h3m9 0h3m-1 0h3m-192 1h3m15 0h3m3 0h3m3 0h3m5 0h3m28 0h3m10 0h3m13 0h3m0 0h3m-1 0h3m17 0h3m2 0h3m5 0h3m2 0h3m0 0h3m-2 0h3m1 0h3m7 0h3m5 0h3m19 0h3m36 0h3m-276 1h3m47 0h3m17 0h3m6 0h3m5 0h3m42 0h3m-2 0h3m2 0h3m2 0h3m7 0h3m7 0h3m13 0h3m1 0h3m13 0h3m-1 0h3m48 0h3m-250 1h3m37 0h3m30 0h3m9 0h3m3 0h3m11 0h3m37 0h3m1 0h3m17 0h3m0 0h3m-1 0h3m24 0h3m-2 0h3m3 0h3m3 0h3m16 0h3m23 0h3m-214 1h3m37 0h3m-2 0h3m2 0h3m39 0h3m0 0h3m-1 0h3m12 0h3m0 0h3m21 0h3m-2 0h3m0 0h3m1 0h3m-1 0h3m14 0h3m7 0h3m-1 0h3m-1 0h3m-195 1h3m15 0h3m29 0h3m21 0h3m11 0h3m15 0h3m1 0h3m1 0h3m-2 0h3m12 0h3m0 0h3m30 0h3m31 0h3m6 0h3m-251 1h3m30 0h3m38 0h3m18 0h3m31 0h3m-1 0h3m1 0h3m19 0h3m43 0h3m3 0h3m0 0h3m1 0h3m6 0h3m9 0h3m1 0h3m-227 1h3m19 0h3m12 0h3m26 0h3m21 0h3m9 0h3m27 0h3m2 0h3m-2 0h3m24 0h3m22 0h3m21 0h3m2 0h3m-171 1h3m18 0h3m30 0h3m4 0h3m34 0h3m-2 0h3m3 0h3m0 0h3m5 0h3m22 0h3m-2 0h3m3 0h3m3 0h3m-2 0h3m-203 1h3m39 0h3m18 0h3m-1 0h3m22 0h3m19 0h3m5 0h3m2 0h3m54 0h3m21 0h3m2 0h3m19 0h3m-232 1h3m24 0h3m32 0h3m6 0h3m8 0h3m18 0h3m4 0h3m-1 0h3m16 0h3m-1 0h3m0 0h3m-1 0h3m2 0h3m-2 0h3m7 0h3m-2 0h3m25 0h3m-2 0h3m15 0h3m-219 1h3m4 0h3m19 0h3m0 0h3m12 0h3m29 0h3m1 0h3m9 0h3m6 0h3m21 0h3m3 0h3m5 0h3m9 0h3m17 0h3m6 0h3m6 0h3m5 0h3m4 0h3m19 0h3m-2 0h3m21 0h3m-260 1h3m43 0h3m3 0h3m5 0h3m25 0h3m8 0h3m-1 0h3m8 0h3m7 0h3m3 0h3m12 0h3m0 0h3m22 0h3m3 0h3m14 0h3m-1 0h3m-1 0h3m3 0h3m-209 1h3m11 0h3m8 0h3m16 0h3m31 0h3m-1 0h3m4 0h3m7 0h3m-2 0h3m9 0h3m13 0h3m30 0h3m1 0h3m4 0h3m12 0h3m-1 0h3m6 0h3m6 0h3m4 0h3m7 0h3m-188 1h3m1 0h3m31 0h3m3 0h3m20 0h3m-1 0h3m16 0h3m3 0h3m15 0h3m2 0h3m10 0h3m-2 0h3m-1 0h3m-2 0h3m0 0h3m0 0h3m60 0h3m-262 1h3m29 0h3m8 0h3m2 0h3m21 0h3m58 0h3m1 0h3m-2 0h3m14 0h3m4 0h3m-1 0h3m-1 0h3m-1 0h3m0 0h3m9 0h3m2 0h3m25 0h3m5 0h3m-2 0h3m45 0h3m13 0h3m-282 1h3m-1 0h3m33 0h3m19 0h3m10 0h3m13 0h3m6 0h3m19 0h3m2 0h3m6 0h3m-1 0h3m7 0h3m1 0h3m15 0h3m1 0h3m0 0h3m-2 0h3m7 0h3m33 0h3m-188 1h3m1 0h3m11 0h3m20 0h3m5 0h3m0 0h3m9 0h3m22 0h3m3 0h3m4 0h3m2 0h3m1 0h3m28 0h3m-1 0h3m-2 0h3m24 0h3m13 0h3m13 0h3m3 0h3m16 0h3m-256 1h3m14 0h3m23 0h3m19 0h3m28 0h3m4 0h3m7 0h3m7 0h3m1 0h3m14 0h3m-1 0h3m16 0h3m3 0h3m-2 0h3m-1 0h3m0 0h3m0 0h3m6 0h3m27 0h3m4 0h3m14 0h3m12 0h3m-270 1h3m45 0h3m22 0h3m42 0h3m3 0h3m1 0h3m5 0h3m3 0h3m0 0h3m6 0h3m22 0h3m4 0h3m10 0h3m38 0h3m1 0h3m-268 1h3m83 0h3m-2 0h3m44 0h3m19 0h3m8 0h3m0 0h3m0 0h3m0 0h3m1 0h3m32 0h3m7 0h3m-2 0h3m31 0h3m-236 1h3m18 0h3m34 0h3m12 0h3m-2 0h3m3 0h3m14 0h3m11 0h3m9 0h3m30 0h3m13 0h3m16 0h3m-162 1h3m19 0h3m16 0h3m3 0h3m9 0h3m9 0h3m5 0h3m9 0h3m0 0h3m14 0h3m10 0h3m17 0h3m4 0h3m27 0h3m27 0h3m-258 1h3m56 0h3m-2 0h3m37 0h3m14 0h3m-2 0h3m32 0h3m0 0h3m3 0h3m2 0h3m-2 0h3m15 0h3m1 0h3m26 0h3m1 0h3m10 0h3m10 0h3m-237 1h3m11 0h3m7 0h3m32 0h3m16 0h3m3 0h3m22 0h3m-1 0h3m8 0h3m8 0h3m0 0h3m1 0h3m1 0h3m8 0h3m4 0h3m1 0h3m56 0h3m8 0h3m-236 1h3m51 0h3m0 0h3m5 0h3m4 0h3m4 0h3m8 0h3m14 0h3m12 0h3m4 0h3m1 0h3m5 0h3m0 0h3m-2 0h3m40 0h3m18 0h3m28 0h3m-223 1h3m19 0h3m22 0h3m1 0h3m5 0h3m3 0h3m-2 0h3m-1 0h3m18 0h3m-1 0h3m21 0h3m2 0h3m13 0h3m2 0h3m7 0h3m-1 0h3m26 0h3m15 0h3m-211 1h3m9 0h3m10 0h3m22 0h3m14 0h3m4 0h3m11 0h3m3 0h3m-1 0h3m12 0h3m0 0h3m0 0h3m19 0h3m11 0h3m2 0h3m3 0h3m20 0h3m-199 1h3m7 0h3m21 0h3m28 0h3m7 0h3m8 0h3m9 0h3m4 0h3m0 0h3m1 0h3m7 0h3m0 0h3m1 0h3m0 0h3m6 0h3m15 0h3m5 0h3m39 0h3m3 0h3m1 0h3m-197 1h3m29 0h3m9 0h3m8 0h3m7 0h3m3 0h3m1 0h3m1 0h3m-2 0h3m3 0h3m1 0h3m-2 0h3m-1 0h3m9 0h3m-1 0h3m12 0h3m19 0h3m-1 0h3m0 0h3m-2 0h3m12 0h3m10 0h3m1 0h3m3 0h3m18 0h3m-153 1h3m0 0h3m-1 0h3m0 0h3m3 0h3m0 0h3m7 0h3m23 0h3m0 0h3m-2 0h3m1 0h3m10 0h3m3 0h3m6 0h3m3 0h3m9 0h3m31 0h3m9 0h3m5 0h3m-265 1h3m110 0h3m-1 0h3m16 0h3m5 0h3m6 0h3m3 0h3m-1 0h3m6 0h3m9 0h3m34 0h3m5 0h3m40 0h3m-215 1h3m12 0h3m26 0h3m3 0h3m0 0h3m3 0h3m16 0h3m5 0h3m13 0h3m2 0h3m2 0h3m40 0h3m-1 0h3m14 0h3m23 0h3m-223 1h3m6 0h3m5 0h3m17 0h3m3 0h3m22 0h3m11 0h3m-2 0h3m50 0h3m2 0h3m19 0h3m-2 0h3m5 0h3m-2 0h3m46 0h3m-279 1h3m122 0h3m2 0h3m0 0h3m7 0h3m-2 0h3m3 0h3m2 0h3m0 0h3m-1 0h3m5 0h3m4 0h3m11 0h3m8 0h3m17 0h3m-197 1h3m4 0h3m18 0h3m-1 0h3m14 0h3m7 0h3m-1 0h3m19 0h3m7 0h3m17 0h3m-2 0h3m11 0h3m9 0h3m17 0h3m-1 0h3m32 0h3m51 0h3m-215 1h3m14 0h3m1 0h3m11 0h3m1 0h3m15 0h3m2 0h3m10 0h3m-1 0h3m19 0h3m13 0h3m0 0h3m1 0h3m60 0h3m-173 1h3m16 0h3m23 0h3m2 0h3m-2 0h3m5 0h3m-1 0h3m-1 0h3m5 0h3m15 0h3m10 0h3m14 0h3m2 0h3m6 0h3m25 0h3m-1 0h3m-2 0h3m22 0h3m-246 1h3m13 0h3m15 0h3m6 0h3m21 0h3m8 0h3m6 0h3m6 0h3m6 0h3m-1 0h3m24 0h3m-1 0h3m-2 0h3m-2 0h3m21 0h3m20 0h3m6 0h3m26 0h3m-180 1h3m31 0h3m0 0h3m-2 0h3m-2 0h3m6 0h3m26 0h3m-1 0h3m4 0h3m-1 0h3m11 0h3m7 0h3m10 0h3m-170 1h3m58 0h3m6 0h3m2 0h3m5 0h3m0 0h3m1 0h3m2 0h3m1 0h3m19 0h3m0 0h3m2 0h3m30 0h3m6 0h3m3 0h3m33 0h3m14 0h3m-230 1h3m15 0h3m46 0h3m7 0h3m-1 0h3m8 0h3m3 0h3m26 0h3m4 0h3m1 0h3m-1 0h3m4 0h3m-2 0h3m57 0h3m-1 0h3m4 0h3m-205 1h3m43 0h3m-1 0h3m15 0h3m1 0h3m22 0h3m2 0h3m-2 0h3m14 0h3m1 0h3m20 0h3m9 0h3m5 0h3m-200 1h3m15 0h3m8 0h3m39 0h3m9 0h3m7 0h3m9 0h3m3 0h3m11 0h3m2 0h3m3 0h3m8 0h3m15 0h3m21 0h3m-159 1h3m35 0h3m9 0h3m-2 0h3m8 0h3m10 0h3m-2 0h3m3 0h3m-1 0h3m4 0h3m0 0h3m13 0h3m4 0h3m17 0h3m6 0h3m-156 1h3m15 0h3m-2 0h3m3 0h3m25 0h3m12 0h3m0 0h3m8 0h3m-1 0h3m31 0h3m1 0h3m0 0h3m61 0h3m12 0h3m16 0h3m-264 1h3m22 0h3m50 0h3m21 0h3m4 0h3m3 0h3m9 0h3m4 0h3m2 0h3m-1 0h3m3 0h3m-1 0h3m3 0h3m3 0h3m-1 0h3m49 0h3m7 0h3m37 0h3m-250 1h3m29 0h3m10 0h3m1 0h3m4 0h3m24 0h3m27 0h3m5 0h3m0 0h3m6 0h3m81 0h3m-198 1h3m10 0h3m0 0h3m8 0h3m9 0h3m20 0h3m-2 0h3m2 0h3m18 0h3m0 0h3m-2 0h3m-1 0h3m3 0h3m7 0h3m-2 0h3m9 0h3m9 0h3m6 0h3m9 0h3m27 0h3m36 0h3m-260 1h3m45 0h3m17 0h3m0 0h3m10 0h3m3 0h3m2 0h3m-1 0h3m0 0h3m6 0h3m11 0h3m19 0h3m4 0h3m5 0h3m-1 0h3m26 0h3m13 0h3m3 0h3m-2 0h3m-189 1h3m1 0h3m39 0h3m7 0h3m-1 0h3m0 0h3m1 0h3m3 0h3m12 0h3m27 0h3m48 0h3m30 0h3m2 0h3m10 0h3m14 0h3m-248 1h3m2 0h3m4 0h3m21 0h3m1 0h3m5 0h3m5 0h3m9 0h3m29 0h3m3 0h3m3 0h3m0 0h3m3 0h3m35 0h3m6 0h3m53 0h3m-227 1h3m8 0h3m1 0h3m3 0h3m-1 0h3m9 0h3m25 0h3m43 0h3m17 0h3m3 0h3m92 0h3m-187 1h3m-1 0h3m1 0h3m1 0h3m0 0h3m7 0h3m4 0h3m8 0h3m1 0h3m20 0h3m11 0h3m58 0h3m-210 1h3m-2 0h3m48 0h3m15 0h3m-2 0h3m7 0h3m5 0h3m47 0h3m0 0h3m1 0h3m65 0h3m-183 1h3m9 0h3m25 0h3m7 0h3m4 0h3m5 0h3m1 0h3m3 0h3m-2 0h3m-1 0h3m1 0h3m52 0h3m50 0h3m-223 1h3m1 0h3m40 0h3m16 0h3m19 0h3m1 0h3m-2 0h3m2 0h3m-2 0h3m7 0h3m13 0h3m47 0h3m16 0h3m-129 1h3m4 0h3m0 0h3m8 0h3m15 0h3m0 0h3m-2 0h3m19 0h3m67 0h3m52 0h3m-225 1h3m0 0h3m43 0h3m1 0h3m7 0h3m10 0h3m5 0h3m7 0h3m23 0h3m21 0h3m15 0h3m-2 0h3m-193 1h3m13 0h3m0 0h3m20 0h3m3 0h3m-2 0h3m-1 0h3m16 0h3m23 0h3m-2 0h3m1 0h3m-2 0h3m13 0h3m4 0h3m36 0h3m6 0h3m76 0h3m-200 1h3m4 0h3m-2 0h3m0 0h3m4 0h3m-2 0h3m-2 0h3m7 0h3m3 0h3m142 0h3m-257 1h3m13 0h3m8 0h3m5 0h3m26 0h3m30 0h3m0 0h3m9 0h3m1 0h3m65 0h3m14 0h3m-183 1h3m12 0h3m11 0h3m29 0h3m1 0h3m20 0h3m4 0h3m18 0h3m85 0h3m-228 1h3m1 0h3m42 0h3m2 0h3m-1 0h3m20 0h3m11 0h3m1 0h3m2 0h3m9 0h3m22 0h3m60 0h3m-158 1h3m18 0h3m7 0h3m3 0h3m14 0h3m-106 1h3m32 0h3m16 0h3m5 0h3m1 0h3m7 0h3m29 0h3m0 0h3m10 0h3m3 0h3m-1 0h3m11 0h3m50 0h3m38 0h3m-232 1h3m2 0h3m-2 0h3m12 0h3m19 0h3m-2 0h3m39 0h3m17 0h3m20 0h3m11 0h3m44 0h3m8 0h3m-178 1h3m1 0h3m23 0h3m22 0h3m32 0h3m10 0h3m17 0h3m-150 1h3m3 0h3m31 0h3m5 0h3m9 0h3m-2 0h3m16 0h3m6 0h3m5 0h3m2 0h3m82 0h3m-2 0h3m-2 0h3m-204 1h3m66 0h3m4 0h3m0 0h3m4 0h3m3 0h3m-66 1h3m43 0h3m11 0h3m-1 0h3m-1 0h3m0 0h3m4 0h3m1 0h3m4 0h3m-44 1h3m11 0h3m-2 0h3m2 0h3m12 0h3m0 0h3m14 0h3m1 0h3m-122 1h3m13 0h3m19 0h3m20 0h3m9 0h3m-1 0h3m32 0h3m-84 1h3m28 0h3m5 0h3m11 0h3m-2 0h3m35 0h3m91 0h3m-218 1h3m4 0h3m36 0h3m-1 0h3m18 0h3m0 0h3m1 0h3m2 0h3m49 0h3m-130 1h3m8 0h3m31 0h3m20 0h3m24 0h3m7 0h3m12 0h3m-108 1h3m34 0h3m32 0h3m14 0h3m-1 0h3m115 0h3m-158 1h3m13 0h3m5 0h3m-55 1h3m3 0h3m17 0h3m-2 0h3m3 0h3m3 0h3m36 0h3m49 0h3m-161 1h3m17 0h3m22 0h3m5 0h3m40 0h3m1 0h3m58 0h3m-186 1h3m27 0h3m23 0h3m8 0h3m2 0h3m3 0h3m10 0h3m-2 0h3m2 0h3m-97 1h3m0 0h3m2 0h3m20 0h3m13 0h3m-2 0h3m4 0h3m1 0h3m1 0h3m-2 0h3m21 0h3m19 0h3m-118 1h3m-2 0h3m-1 0h3m54 0h3m3 0h3m35 0h3m-2 0h3m-86 1h3m1 0h3m3 0h3m26 0h3m32 0h3m-2 0h3m16 0h3m15 0h3m-137 1h3m28 0h3m7 0h3m5 0h3m82 0h3m-100 1h3m6 0h3m11 0h3m-1 0h3m16 0h3m-2 0h3m50 0h3m-2 0h3m-130 1h3m21 0h3m14 0h3m6 0h3m6 0h3m20 0h3m26 0h3m23 0h3m34 0h3m-174 1h3m16 0h3m18 0h3m-2 0h3m26 0h3m0 0h3m2 0h3m8 0h3m9 0h3m3 0h3m-112 1h3m-2 0h3m24 0h3m20 0h3m-1 0h3m2 0h3m4 0h3m35 0h3m3 0h3m29 0h3m23 0h3m-189 1h3m-1 0h3m14 0h3m4 0h3m11 0h3m9 0h3m5 0h3m4 0h3m4 0h3m2 0h3m16 0h3m28 0h3m-75 1h3m-2 0h3m-1 0h3m11 0h3m1 0h3m3 0h3m18 0h3m19 0h3m55 0h3m-137 1h3m1 0h3m30 0h3m21 0h3m14 0h3m-128 1h3m22 0h3m5 0h3m15 0h3m2 0h3m37 0h3m20 0h3m7 0h3m63 0h3m-202 1h3m76 0h3m11 0h3m26 0h3m19 0h3m-110 1h3m41 0h3m27 0h3m10 0h3m-62 1h3m16 0h3m25 0h3m10 0h3m17 0h3m-125 1h3m22 0h3m-2 0h3m17 0h3m0 0h3m25 0h3m65 0h3m-143 1h3m-2 0h3m33 0h3m13 0h3m8 0h3m31 0h3m-88 1h3m14 0h3m16 0h3m4 0h3m-1 0h3m-2 0h3m20 0h3m12 0h3m18 0h3m-148 1h3m48 0h3m31 0h3m33 0h3m16 0h3m-146 1h3m7 0h3m5 0h3m5 0h3m15 0h3m4 0h3m30 0h3m9 0h3m-2 0h3m-96 1h3m4 0h3m36 0h3m-1 0h3m1 0h3m4 0h3m0 0h3m-1 0h3m12 0h3m19 0h3m7 0h3m-115 1h3m3 0h3m42 0h3m5 0h3m19 0h3m0 0h3m5 0h3m85 0h3m-148 1h3m-2 0h3m6 0h3m28 0h3m32 0h3m0 0h3m-39 1h3m3 0h3m-1 0h3m12 0h3m7 0h3m-101 1h3m7 0h3m4 0h3m8 0h3m5 0h3m-2 0h3m27 0h3m-2 0h3m5 0h3m0 0h3m0 0h3m-1 0h3m3 0h3m92 0h3m-197 1h3m5 0h3m15 0h3m13 0h3m0 0h3m33 0h3m19 0h3m49 0h3m-166 1h3m42 0h3m-1 0h3m10 0h3m-2 0h3m9 0h3m6 0h3m-2 0h3m4 0h3m1 0h3m43 0h3m-1 0h3m-136 1h3m18 0h3m7 0h3m7 0h3m0 0h3m22 0h3m-2 0h3m11 0h3m11 0h3m2 0h3m61 0h3m-132 1h3m22 0h3m48 0h3m-53 1h3m0 0h3m-2 0h3m1 0h3m1 0h3m15 0h3m13 0h3m5 0h3m0 0h3m6 0h3m-134 1h3m10 0h3m27 0h3m4 0h3m4 0h3m3 0h3m7 0h3m3 0h3m-1 0h3m8 0h3m2 0h3m-76 1h3m6 0h3m28 0h3m8 0h3m10 0h3m17 0h3m34 0h3m-104 1h3m11 0h3m17 0h3m-2 0h3m-2 0h3m6 0h3m4 0h3m1 0h3m18 0h3m15 0h3m-150 1h3m5 0h3m7 0h3m53 0h3m9 0h3m3 0h3m6 0h3m-2 0h3m20 0h3m10 0h3m16 0h3m-144 1h3m38 0h3m36 0h3m23 0h3m2 0h3m9 0h3m-128 1h3m22 0h3m27 0h3m-1 0h3m9 0h3m34 0h3m-1 0h3m3 0h3m-109 1h3m2 0h3m1 0h3m16 0h3m10 0h3m56 0h3m-116 1h3m0 0h3m26 0h3m25 0h3m0 0h3m-2 0h3m9 0h3m77 0h3m-108 1h3m-1 0h3m-2 0h3m2 0h3m-39 1h3m21 0h3m-2 0h3m12 0h3m-1 0h3m10 0h3m7 0h3m-64 1h3m6 0h3m-2 0h3m-1 0h3m14 0h3m25 0h3m6 0h3m-2 0h3m3 0h3m-102 1h3m0 0h3m45 0h3m6 0h3m9 0h3m21 0h3m35 0h3m1 0h3m-126 1h3m30 0h3m49 0h3m54 0h3m-160 1h3m32 0h3m1 0h3m19 0h3m9 0h3m6 0h3m1 0h3m43 0h3m-91 1h3m3 0h3m1 0h3m11 0h3m15 0h3m4 0h3m10 0h3m1 0h3m-1 0h3m12 0h3m-2 0h3m-100 1h3m7 0h3m8 0h3m1 0h3m33 0h3m14 0h3m-105 1h3m3 0h3m17 0h3m0 0h3m5 0h3m30 0h3m24 0h3m20 0h3m-76 1h3m20 0h3m4 0h3m17 0h3m2 0h3m31 0h3m2 0h3m-150 1h3m14 0h3m38 0h3m1 0h3m63 0h3m-127 1h3m48 0h3m9 0h3m22 0h3m18 0h3m-31 1h3m53 0h3m-153 1h3m11 0h3m9 0h3m8 0h3m-2 0h3m4 0h3m3 0h3m15 0h3m6 0h3m1 0h3m5 0h3m53 0h3m-116 1h3m-2 0h3m23 0h3m10 0h3m1 0h3m47 0h3m-89 1h3m6 0h3m22 0h3m18 0h3m-2 0h3m16 0h3m22 0h3m-127 1h3m40 0h3m38 0h3m0 0h3m19 0h3m2 0h3m-108 1h3m50 0h3m4 0h3m9 0h3m8 0h3m10 0h3m-70 1h3m26 0h3m9 0h3m5 0h3m4 0h3m15 0h3m-78 1h3m8 0h3m0 0h3m1 0h3m3 0h3m-49 1h3m19 0h3m7 0h3m11 0h3m9 0h3m2 0h3m-1 0h3m5 0h3m2 0h3m-93 1h3m61 0h3m15 0h3m5 0h3m-4 1h3m18 0h3m-108 1h3m-2 0h3m0 0h3m39 0h3m-12 1h3m18 0h3m25 0h3m60 0h3m-98 1h3m1 0h3m33 1h3m-92 1h3m18 0h3m-2 0h3m10 0h3m0 0h3m16 0h3m15 0h3m-87 1h3m36 0h3m4 0h3m21 0h3m0 0h3m13 0h3m14 0h3m13 0h3m-89 1h3m-1 0h3m4 0h3m-24 1h3m-13 1h3m-2 0h3m12 0h3m34 0h3m-23 1h3m2 0h3m38 0h3m0 0h3m-96 1h3m72 1h3m-30 1h3m18 0h3m23 0h3m-44 1h3m-12 1h3m16 0h3m-25 1h3m-34 2h3m13 0h3m11 0h3m-1 0h3m-30 1h3m12 0h3m5 0h3m-4 3h3m47 0h3m-64 1h3m4 1h3m-46 1h3m18 0h3m-3 1h3m24 0h3m-56 1h3m117 0h3m-96 1h3m44 0h3m48 1h3m-102 2h3m17 0h3m3 0h3m-46 2h3m9 0h3m-21 2h3m52 2h3m0 0h3m-26 2h3m51 0h3m-52 1h3m-34 2h3m14 2h3m59 7h3" stroke="#0a0aff" stroke-width="2.8" fill="none" opacity="0.85"/>
<path transform="scale(.4)" d="M3426 1659h3m-24 2h3m-7 1h3m-69 3h3m53 11h3m9 5h3m-19 5h3m-8 1h3m-20 3h3m-108 8h3m127 1h3m-47 2h3m5 1h3m23 4h3m-24 2h3m21 0h3m-2 0h3m-108 2h3m82 0h3m33 0h3m-67 1h3m-106 1h3m101 0h3m-54 2h3m48 1h3m40 2h3m-64 2h3m0 0h3m-39 1h3m42 0h3m25 0h3m4 0h3m-61 2h3m22 0h3m0 1h3m4 0h3m1 0h3m4 0h3m0 0h3m-48 1h3m10 0h3m3 0h3m-1 0h3m-57 1h3m36 0h3m3 1h3m15 0h3m-7 1h3m5 0h3m-17 1h3m-36 1h3m17 0h3m-22 1h3m12 2h3m35 0h3m-43 1h3m27 0h3m-33 1h3m12 0h3m-11 1h3m9 0h3m2 0h3m-10 1h3m-69 1h3m6 0h3m24 0h3m14 0h3m24 1h3m19 0h3m-74 1h3m3 0h3m5 0h3m5 0h3m-2 0h3m21 0h3m5 0h3m-35 1h3m14 0h3m-48 1h3m-1 0h3m8 0h3m-95 2h3m43 0h3m29 1h3m25 0h3m-61 1h3m28 0h3m-2 0h3m7 0h3m33 0h3m-20 1h3m4 0h3m-56 1h3m0 0h3m7 0h3m8 0h3m5 0h3m-45 1h3m6 0h3m-2 0h3m14 0h3m13 0h3m-47 1h3m15 0h3m4 0h3m11 0h3m41 0h3m-81 1h3m40 0h3m-37 1h3m32 0h3m-59 1h3m19 0h3m-2 0h3m7 0h3m-11 1h3m10 0h3m10 1h3m-31 2h3m3 0h3m-2 0h3m-31 1h3m32 0h3m-22 1h3m10 0h3m14 0h3m-129 1h3m92 0h3m15 0h3m-23 1h3m1 0h3m-28 1h3m0 0h3m23 0h3m-39 1h3m21 0h3m6 1h3m4 0h3m-53 1h3m44 1h3m-31 1h3m1 0h3m0 0h3m6 0h3m-36 1h3m-1 0h3m5 0h3m26 0h3m-30 1h3m20 0h3m-1 2h3m7 0h3m-14 2h3m-18 1h3m7 0h3m-26 1h3m5 1h3m-2 0h3m6 0h3m5 0h3m-4 1h3m-41 3h3m23 0h3m-55 1h3m49 0h3m-55 6h3m5 1h3m22 0h3m9 1h3m-45 1h3m20 0h3m-18 2h3m0 1h3m-12 3h3m30 5h3m-30 1h3m8 0h3m-17 4h3m-28 2h3m57 2h3m-78 14h3m6 5h3m21 2h3m30 6h3m-75 7h3m49 4h3m-1 1h3m-32 1h3m34 0h3m-52 12h3" stroke="#00c8e6" stroke-width="2.8" fill="none" opacity="0.85"/>
<path transform="scale(.4)" d="M3389 1657h3m20 8h3m-170 3h3m151 3h3m-9 1h3m-188 3h3m204 0h3m-22 4h3m-141 1h3m144 2h3m3 0h3m-149 1h3m121 0h3m23 5h3m-62 3h3m25 4h3m-46 1h3m62 5h3m-140 1h3m96 0h3m-87 1h3m86 0h3m-31 1h3m17 3h3m-1 0h3m-28 2h3m19 2h3m-4 1h3m-95 2h3m40 0h3m4 0h3m-121 2h3m128 0h3m-123 1h3m112 1h3m4 0h3m18 0h3m-15 2h3m-9 1h3m-2 0h3m24 0h3m-29 1h3m1 0h3m-35 1h3m20 0h3m14 0h3m18 0h3m2 0h3m-65 1h3m38 0h3m-106 1h3m24 0h3m27 1h3m15 0h3m16 2h3m-49 1h3m19 0h3m4 0h3m13 0h3m0 0h3m-69 1h3m39 0h3m-1 0h3m-33 1h3m45 0h3m8 0h3m-43 1h3m15 0h3m-34 1h3m18 0h3m-1 0h3m-40 1h3m21 0h3m2 0h3m-21 1h3m-1 0h3m11 0h3m-25 1h3m-2 0h3m11 0h3m2 0h3m-6 1h3m0 0h3m15 0h3m-71 1h3m-66 1h3m93 0h3m25 0h3m-41 1h3m14 0h3m26 0h3m-70 1h3m18 0h3m28 0h3m1 0h3m-135 1h3m104 0h3m23 0h3m0 0h3m-119 1h3m50 0h3m18 0h3m10 0h3m-27 1h3m8 0h3m12 0h3m2 0h3m-15 1h3m-2 0h3m-1 0h3m-114 1h3m114 1h3m-43 1h3m10 0h3m4 0h3m-1 0h3m8 0h3m1 0h3m7 0h3m-10 1h3m-55 1h3m14 0h3m31 0h3m10 0h3m-28 2h3m-23 1h3m19 1h3m16 0h3m-60 1h3m1 0h3m16 0h3m-21 1h3m47 0h3m-54 1h3m7 0h3m13 0h3m-116 1h3m66 0h3m58 0h3m-2 0h3m-85 1h3m9 0h3m42 0h3m21 0h3m2 0h3m-50 1h3m16 0h3m6 0h3m2 0h3m-8 1h3m3 0h3m22 0h3m-58 1h3m6 1h3m-26 1h3m5 0h3m14 0h3m6 0h3m-28 1h3m13 0h3m9 0h3m-51 1h3m26 0h3m-9 1h3m8 0h3m9 0h3m-39 1h3m5 0h3m10 0h3m10 0h3m-50 1h3m1 0h3m11 0h3m-1 1h3m0 0h3m17 2h3m-6 2h3m-13 1h3m22 0h3m-66 1h3m25 0h3m-8 1h3m3 0h3m22 0h3m-45 1h3m24 0h3m-78 1h3m17 0h3m4 0h3m19 0h3m18 0h3m-2 0h3m-53 1h3m30 0h3m-29 1h3m52 2h3m-72 1h3m10 0h3m5 0h3m-13 1h3m10 0h3m25 0h3m-28 1h3m11 0h3m-47 1h3m59 0h3m-61 2h3m45 0h3m-44 1h3m9 1h3m-25 1h3m0 1h3m-39 2h3m32 0h3m15 0h3m-86 3h3m99 0h3m27 4h3m-95 2h3m34 0h3m-22 3h3m47 1h3m-41 1h3m64 5h3m-83 5h3m27 2h3m-21 7h3m7 3h3m1 0h3m4 5h3m-12 6h3m27 0h3m-20 4h3m-69 4h3m11 7h3" stroke="#1ed21e" stroke-width="2.8" fill="none" opacity="0.85"/>
<path transform="scale(.4)" d="M3412 1694h3m-48 15h3m-21 9h3m-4 2h3m-8 2h3m11 0h3m-72 4h3m39 0h3m-17 1h3m-5 2h3m1 0h3m19 0h3m-1 1h3m-34 4h3m23 1h3m-8 2h3m-20 1h3m-15 2h3m-8 1h3m-3 4h3m-30 2h3m16 0h3m5 1h3m-11 1h3m-4 2h3m7 0h3m-15 1h3m18 0h3m-36 1h3m-15 1h3m20 3h3m-15 1h3m8 2h3m-27 1h3m-2 5h3m-31 4h3m39 0h3m-10 5h3m-51 38h3m-30 15h3" stroke="#f0dc00" stroke-width="2.8" fill="none" opacity="0.9"/>
<path transform="scale(.4)" d="M3385 1681h3m-56 40h3m-14 6h3m-27 9h3m4 2h3m-11 8h3m-13 5h3m2 2h3m-8 1h3m-9 1h3m-25 2h3m12 4h3m-2 5h3m-29 14h3m3 38h3m-84 27h3" stroke="#ff3200" stroke-width="2.8" fill="none" opacity="0.9"/>
<path d="M1256.6 706.8C1256.8 704.9 1257.3 702.4 1259.2 699.7C1261 697 1264 693.6 1267.6 690.6C1271.2 687.6 1275.8 684.4 1280.6 681.5C1285.3 678.6 1290.7 675.7 1296.1 673.1C1301.6 670.5 1307.4 668 1313 665.9C1318.6 663.9 1324.5 662 1329.9 660.8C1335.3 659.5 1341.1 658.5 1345.4 658.2C1349.8 657.8 1352.8 658.2 1355.8 658.8C1358.8 659.5 1361.8 660.6 1363.6 662C1365.4 663.5 1366.6 665.3 1366.8 667.2C1367.1 669.2 1366.3 671.3 1364.9 673.7C1363.5 676.1 1361.2 678.9 1358.4 681.5C1355.6 684.1 1351.9 686.7 1348 689.3C1344.1 691.9 1339.6 694.6 1335.1 697.1C1330.5 699.6 1325.8 702 1320.8 704.2C1315.8 706.4 1310.4 708.4 1305.2 710C1300 711.7 1294.6 713.1 1289.7 713.9C1284.7 714.8 1279.7 715.2 1275.4 715.2C1271.1 715.3 1266.6 714.8 1263.7 714.2C1260.8 713.5 1259.1 712.6 1257.9 711.3C1256.7 710.1 1256.4 708.7 1256.6 706.8Z" fill="none" stroke="#0a0a0a" stroke-width="1.8"/>
<path d="M1255 741.2C1254.7 738.6 1255.8 735.9 1257.2 733.4C1258.7 730.9 1260.9 728.5 1263.7 726.3C1266.5 724 1270.2 721.5 1274.1 719.8C1278 718 1282.7 716.7 1287.1 715.9C1291.4 715 1295.9 714.5 1300 714.6C1304.1 714.7 1308.4 715.3 1311.7 716.5C1315.1 717.7 1318.1 719.7 1320.1 721.7C1322.2 723.8 1323.7 726.5 1324 728.8C1324.4 731.2 1323.5 733.6 1322.1 736C1320.7 738.4 1318.4 741 1315.6 743.1C1312.8 745.3 1309.1 747.2 1305.2 748.9C1301.3 750.7 1296.6 752.4 1292.3 753.5C1287.9 754.6 1283.4 755.3 1279.3 755.4C1275.2 755.5 1271 755.2 1267.6 754.1C1264.3 753.1 1261.3 751.1 1259.2 748.9C1257.1 746.8 1255.4 743.8 1255 741.2Z" fill="none" stroke="#0a0a0a" stroke-width="1.8"/>
<path d="M1324 719.8C1324 718 1324.1 715.3 1325.3 712.6C1326.5 709.9 1328.7 706.6 1331.2 703.6C1333.7 700.5 1337 697.2 1340.2 694.5C1343.5 691.8 1346.9 689.3 1350.6 687.3C1354.3 685.4 1358.6 683.6 1362.3 682.8C1366 682 1369.9 682 1372.7 682.5C1375.5 683.1 1377.7 684.4 1379.2 686C1380.6 687.7 1381.5 690.2 1381.5 692.5C1381.5 694.9 1380.6 697.6 1379.2 700.3C1377.7 703 1375.5 705.9 1372.7 708.7C1369.9 711.6 1366 714.8 1362.3 717.2C1358.6 719.6 1354.5 721.5 1350.6 723C1346.7 724.5 1342.4 725.8 1338.9 726.3C1335.5 726.7 1332.1 726.1 1329.9 725.6C1327.6 725.1 1326.3 724 1325.3 723C1324.4 722 1324 721.5 1324 719.8Z" fill="none" stroke="#0a0a0a" stroke-width="1.8"/>
<text x="1311.5" y="690.5" font-family="'Liberation Sans','DejaVu Sans',sans-serif" font-weight="bold" font-size="10" text-anchor="middle" fill="#3a3a3a" stroke="#fff" stroke-opacity="0.6" stroke-width="1.6" paint-order="stroke">S</text>
<text x="1289.9" y="739.1" font-family="'Liberation Sans','DejaVu Sans',sans-serif" font-weight="bold" font-size="10" text-anchor="middle" fill="#3a3a3a" stroke="#fff" stroke-opacity="0.6" stroke-width="1.6" paint-order="stroke">G1</text>
<text x="1351.7" y="708.3" font-family="'Liberation Sans','DejaVu Sans',sans-serif" font-weight="bold" font-size="10" text-anchor="middle" fill="#3a3a3a" stroke="#fff" stroke-opacity="0.6" stroke-width="1.6" paint-order="stroke">G2</text>
<path d="M1192.2 593.1H1427.7" fill="none" stroke="#c0c0c0" stroke-width="1.2"/>
<path d="M1427.7 593.1V833.1" fill="none" stroke="#c0c0c0" stroke-width="1.2"/>
<path d="M1192.2 594.5h-3.2M1192.2 616.3h-3.2M1192.2 658.4h-3.2M1192.2 664h-3.2M1192.2 670.3h-3.2M1192.2 679.2h-3.2M1192.2 687.9h-3.2M1192.2 699.3h-3.2M1192.2 714.5h-3.2M1192.2 736.1h-3.2M1192.2 777.1h-3.2M1192.2 783.4h-3.2M1192.2 790.2h-3.2M1192.2 798.9h-3.2M1192.2 808.3h-3.2M1192.2 819.7h-3.2M1192.2 833.1v3.6M1211.5 833.1v3.6M1227.4 833.1v3.6M1239.3 833.1v3.6M1250.3 833.1v3.6M1259.2 833.1v3.6M1266.9 833.1v3.6M1321.9 833.1v3.6M1348.8 833.1v3.6M1368.1 833.1v3.6M1383.7 833.1v3.6M1395.5 833.1v3.6M1407 833.1v3.6M1416.3 833.1v3.6M1424 833.1v3.6" fill="none" stroke="#444" stroke-width="1.3"/>
<path d="M1192.2 593.1V833.9" fill="none" stroke="#6a6a6a" stroke-width="1.5"/>
<path d="M1191.5 833.1H1427.7M1192.2 652h-6.3M1192.2 770.8h-6.3M1273.5 833.1v6.5" fill="none" stroke="#222" stroke-width="1.7"/>
<text x="1291.6" y="814.1" font-size="34" text-anchor="start" fill="#000" stroke-width="0.7" stroke-linejoin="round">miR-17</text>
<text x="1287.9" y="885.1" font-size="33" text-anchor="start" fill="#000" stroke-width="0.7" stroke-linejoin="round">PI</text>
<text x="116.2" y="759.4" font-size="34" text-anchor="start" fill="#000" stroke-width="0.7" stroke-linejoin="round" transform="rotate(-90 116.2 759.4)">BrdU</text>
<text x="8" y="28.6" font-size="61" text-anchor="start" fill="#000" stroke-width="0.7" stroke-linejoin="round">a.</text>
<text x="4.5" y="970.3" font-size="60" text-anchor="start" fill="#000" stroke-width="0.7" stroke-linejoin="round">b.</text>
<text x="96" y="1679.3" font-size="60" text-anchor="start" fill="#000" stroke-width="0.7" stroke-linejoin="round">c.</text>
<text x="840.9" y="1679.9" font-size="60" text-anchor="start" fill="#000" stroke-width="0.7" stroke-linejoin="round">d.</text>
<path d="M99.9 1418.2V1113.6H148.3V1418.2" fill="none" stroke="#000000" stroke-width="6.6"/>
<path d="M182.2 1418.2V1189.5H230.6V1418.2" fill="none" stroke="#2235ff" stroke-width="6.6"/>
<path d="M264.1 1418.2V1196.2H312.5V1418.2" fill="none" stroke="#df2c0b" stroke-width="6.6"/>
<path d="M346.1 1418.2V1231.7H394.5V1418.2" fill="none" stroke="#e2a534" stroke-width="6.6"/>
<path d="M428 1418.2V1238.1H476.4V1418.2" fill="none" stroke="#4f8f23" stroke-width="6.6"/>
<path d="M124.1 1096.2V1124.8M110.3 1096.2h27.6M110.3 1124.8h27.6" fill="none" stroke="#000000" stroke-width="3.7" stroke-linecap="round"/>
<path d="M206.4 1145.4V1226.7M192.6 1145.4h27.6M192.6 1226.7h27.6" fill="none" stroke="#2235ff" stroke-width="3.7" stroke-linecap="round"/>
<path d="M288.3 1183.8V1202M274.5 1183.8h27.6M274.5 1202h27.6" fill="none" stroke="#df2c0b" stroke-width="3.7" stroke-linecap="round"/>
<path d="M370.3 1216.5V1240.8M356.5 1216.5h27.6M356.5 1240.8h27.6" fill="none" stroke="#e2a534" stroke-width="3.7" stroke-linecap="round"/>
<path d="M452.2 1225.7V1244.2M438.4 1225.7h27.6M438.4 1244.2h27.6" fill="none" stroke="#4f8f23" stroke-width="3.7" stroke-linecap="round"/>
<path d="M69.8 1028V1419.9" stroke="#000" stroke-width="3.4" fill="none"/>
<path d="M58 1418.2H507.6" stroke="#000" stroke-width="3.4" fill="none"/>
<text x="55.8" y="1037.8" font-size="25.5" text-anchor="end" fill="#000" stroke-width="0.7" stroke-linejoin="round">60</text>
<text x="55.8" y="1167.7" font-size="25.5" text-anchor="end" fill="#000" stroke-width="0.7" stroke-linejoin="round">40</text>
<text x="55.8" y="1297.5" font-size="25.5" text-anchor="end" fill="#000" stroke-width="0.7" stroke-linejoin="round">20</text>
<text x="55.8" y="1426.6" font-size="25.5" text-anchor="end" fill="#000" stroke-width="0.7" stroke-linejoin="round">0</text>
<path d="M69.8 1029.4h-11.5M69.8 1159.3h-11.5M69.8 1289.1h-11.5M69.8 1418.2h-11.5M124.1 1418.2v11.5M206.4 1418.2v11.5M288.3 1418.2v11.5M370.3 1418.2v11.5M452.2 1418.2v11.5" stroke="#000" stroke-width="3.2" fill="none"/>
<rect x="118.7" y="1093.1" width="10.8" height="10.8" fill="#000000"/>
<rect x="118.7" y="1099.9" width="10.8" height="10.8" fill="#000000"/>
<rect x="118.7" y="1121.8" width="10.8" height="10.8" fill="#000000"/>
<path d="M206.4 1134.1L212.3 1144.9L200.4 1144.9Z" fill="#2235ff"/>
<path d="M206.4 1198.2L212.3 1209L200.4 1209Z" fill="#2235ff"/>
<path d="M206.4 1211L212.3 1221.8L200.4 1221.8Z" fill="#2235ff"/>
<circle cx="287.7" cy="1181.1" r="5.9" fill="#df2c0b"/>
<circle cx="282.6" cy="1199.7" r="5.9" fill="#df2c0b"/>
<circle cx="292.7" cy="1199.7" r="5.9" fill="#df2c0b"/>
<path d="M359.1 1210.6L365.1 1216.5L359.1 1222.5L353.2 1216.5Z" fill="#e2a534"/>
<path d="M381.1 1221.4L387 1227.3L381.1 1233.3L375.1 1227.3Z" fill="#e2a534"/>
<path d="M369.9 1236.6L375.9 1242.5L369.9 1248.5L364 1242.5Z" fill="#e2a534"/>
<path d="M452.6 1229.2L458.5 1218.4L446.6 1218.4Z" fill="#4f8f23"/>
<path d="M463.7 1243L469.6 1232.2L457.7 1232.2Z" fill="#4f8f23"/>
<path d="M441.8 1249.7L447.7 1238.9L435.8 1238.9Z" fill="#4f8f23"/>
<text x="128.9" y="1448.7" font-size="27.5" text-anchor="end" fill="#000" stroke-width="0.7" stroke-linejoin="round" transform="rotate(-45 128.9 1448.7)">Scramble</text>
<text x="211.2" y="1448.7" font-size="27.5" text-anchor="end" fill="#000" stroke-width="0.7" stroke-linejoin="round" transform="rotate(-45 211.2 1448.7)">PGRMC2</text>
<text x="293.1" y="1448.7" font-size="27.5" text-anchor="end" fill="#000" stroke-width="0.7" stroke-linejoin="round" transform="rotate(-45 293.1 1448.7)">GM3S</text>
<text x="375.1" y="1448.7" font-size="27.5" text-anchor="end" fill="#000" stroke-width="0.7" stroke-linejoin="round" transform="rotate(-45 375.1 1448.7)">Pkd2</text>
<text x="457" y="1448.7" font-size="27.5" text-anchor="end" fill="#000" stroke-width="0.7" stroke-linejoin="round" transform="rotate(-45 457 1448.7)">miR-17</text>
<path d="M124.1 1083.7V1071H206.4V1083.7" stroke="#000" stroke-width="2.5" fill="none" stroke-linecap="round"/>
<text x="165.2" y="1069" font-size="30" text-anchor="middle" stroke-width="0.6" stroke-linejoin="miter" letter-spacing="-1.4">**</text>
<path d="M124.1 1038.9V1026.2H288.3V1038.9" stroke="#000" stroke-width="2.5" fill="none" stroke-linecap="round"/>
<text x="206.2" y="1024.2" font-size="30" text-anchor="middle" stroke-width="0.6" stroke-linejoin="miter" letter-spacing="-1.4">**</text>
<path d="M124.1 994V981.3H370.3V994" stroke="#000" stroke-width="2.5" fill="none" stroke-linecap="round"/>
<text x="247.2" y="979.3" font-size="30" text-anchor="middle" stroke-width="0.6" stroke-linejoin="miter" letter-spacing="-1.4">***</text>
<path d="M124.1 949.2V936.5H452.2V949.2" stroke="#000" stroke-width="2.5" fill="none" stroke-linecap="round"/>
<text x="288.2" y="934.5" font-size="30" text-anchor="middle" stroke-width="0.6" stroke-linejoin="miter" letter-spacing="-1.4">***</text>
<text x="18.8" y="1219" font-size="27" text-anchor="middle" fill="#000" stroke-width="0.7" stroke-linejoin="round" transform="rotate(-90 18.8 1219)">G1 Phase (% Cells)</text>
<path d="M125.8 1537.3H472.2" stroke="#000" stroke-width="3.6" fill="none"/>
<text x="299.2" y="1583.5" font-size="34" text-anchor="middle" fill="#000" stroke-width="0.7" stroke-linejoin="round">shRNA</text>
<path d="M619.7 1418.2V1228.3H668.1V1418.2" fill="none" stroke="#000000" stroke-width="6.6"/>
<path d="M701.8 1418.2V1143.3H750.2V1418.2" fill="none" stroke="#2235ff" stroke-width="6.6"/>
<path d="M783.7 1418.2V1133.5H832.1V1418.2" fill="none" stroke="#df2c0b" stroke-width="6.6"/>
<path d="M865.7 1418.2V1105.9H914.1V1418.2" fill="none" stroke="#e2a534" stroke-width="6.6"/>
<path d="M947.8 1418.2V1123.1H996.2V1418.2" fill="none" stroke="#4f8f23" stroke-width="6.6"/>
<path d="M643.9 1211.2V1239.1M630.1 1211.2h27.6M630.1 1239.1h27.6" fill="none" stroke="#000000" stroke-width="3.7" stroke-linecap="round"/>
<path d="M726 1106.6V1174.1M712.2 1106.6h27.6M712.2 1174.1h27.6" fill="none" stroke="#2235ff" stroke-width="3.7" stroke-linecap="round"/>
<path d="M807.9 1120.1V1141.3M794.1 1120.1h27.6M794.1 1141.3h27.6" fill="none" stroke="#df2c0b" stroke-width="3.7" stroke-linecap="round"/>
<path d="M889.9 1089.8V1115.4M876.1 1089.8h27.6M876.1 1115.4h27.6" fill="none" stroke="#e2a534" stroke-width="3.7" stroke-linecap="round"/>
<path d="M972 1110.7V1129.5M958.2 1110.7h27.6M958.2 1129.5h27.6" fill="none" stroke="#4f8f23" stroke-width="3.7" stroke-linecap="round"/>
<path d="M589.6 1028V1419.9" stroke="#000" stroke-width="3.4" fill="none"/>
<path d="M577.5 1418.2H1027.7" stroke="#000" stroke-width="3.4" fill="none"/>
<text x="575.6" y="1037.8" font-size="25.5" text-anchor="end" fill="#000" stroke-width="0.7" stroke-linejoin="round">80</text>
<text x="575.6" y="1135.6" font-size="25.5" text-anchor="end" fill="#000" stroke-width="0.7" stroke-linejoin="round">60</text>
<text x="575.6" y="1233.1" font-size="25.5" text-anchor="end" fill="#000" stroke-width="0.7" stroke-linejoin="round">40</text>
<text x="575.6" y="1329.5" font-size="25.5" text-anchor="end" fill="#000" stroke-width="0.7" stroke-linejoin="round">20</text>
<text x="575.6" y="1426.6" font-size="25.5" text-anchor="end" fill="#000" stroke-width="0.7" stroke-linejoin="round">0</text>
<path d="M589.6 1029.4h-11.5M589.6 1127.2h-11.5M589.6 1224.7h-11.5M589.6 1321.1h-11.5M589.6 1418.2h-11.5M643.9 1418.2v11.5M726 1418.2v11.5M807.9 1418.2v11.5M889.9 1418.2v11.5M972 1418.2v11.5" stroke="#000" stroke-width="3.2" fill="none"/>
<rect x="638.5" y="1203.4" width="10.8" height="10.8" fill="#000000"/>
<rect x="650.3" y="1221.9" width="10.8" height="10.8" fill="#000000"/>
<rect x="627.7" y="1232.1" width="10.8" height="10.8" fill="#000000"/>
<path d="M725.8 1107.1L731.8 1117.9L719.9 1117.9Z" fill="#2235ff"/>
<path d="M725.8 1125L731.8 1135.8L719.9 1135.8Z" fill="#2235ff"/>
<path d="M725.8 1172.2L731.8 1183L719.9 1183Z" fill="#2235ff"/>
<circle cx="796.6" cy="1123.5" r="5.9" fill="#df2c0b"/>
<circle cx="819.6" cy="1123.5" r="5.9" fill="#df2c0b"/>
<circle cx="807.8" cy="1143" r="5.9" fill="#df2c0b"/>
<path d="M889.7 1082.1L895.7 1088.1L889.7 1094L883.8 1088.1Z" fill="#e2a534"/>
<path d="M889.7 1096.6L895.7 1102.6L889.7 1108.5L883.8 1102.6Z" fill="#e2a534"/>
<path d="M889.7 1111.1L895.7 1117.1L889.7 1123L883.8 1117.1Z" fill="#e2a534"/>
<path d="M961.2 1115.5L967.1 1104.7L955.3 1104.7Z" fill="#4f8f23"/>
<path d="M982.1 1125.6L988.1 1114.8L976.2 1114.8Z" fill="#4f8f23"/>
<path d="M960.2 1135.8L966.1 1125L954.3 1125Z" fill="#4f8f23"/>
<text x="648.7" y="1448.7" font-size="27.5" text-anchor="end" fill="#000" stroke-width="0.7" stroke-linejoin="round" transform="rotate(-45 648.7 1448.7)">Scramble</text>
<text x="730.8" y="1448.7" font-size="27.5" text-anchor="end" fill="#000" stroke-width="0.7" stroke-linejoin="round" transform="rotate(-45 730.8 1448.7)">PGRMC2</text>
<text x="812.7" y="1448.7" font-size="27.5" text-anchor="end" fill="#000" stroke-width="0.7" stroke-linejoin="round" transform="rotate(-45 812.7 1448.7)">GM3S</text>
<text x="894.7" y="1448.7" font-size="27.5" text-anchor="end" fill="#000" stroke-width="0.7" stroke-linejoin="round" transform="rotate(-45 894.7 1448.7)">Pkd2</text>
<text x="976.8" y="1448.7" font-size="27.5" text-anchor="end" fill="#000" stroke-width="0.7" stroke-linejoin="round" transform="rotate(-45 976.8 1448.7)">miR-17</text>
<path d="M643.9 1077V1064.3H726V1077" stroke="#000" stroke-width="2.5" fill="none" stroke-linecap="round"/>
<text x="684.9" y="1062.3" font-size="30" text-anchor="middle" stroke-width="0.6" stroke-linejoin="miter" letter-spacing="-1.4">**</text>
<path d="M643.9 1032.1V1019.4H807.9V1032.1" stroke="#000" stroke-width="2.5" fill="none" stroke-linecap="round"/>
<text x="725.9" y="1017.4" font-size="30" text-anchor="middle" stroke-width="0.6" stroke-linejoin="miter" letter-spacing="-1.4">***</text>
<path d="M643.9 987.6V974.9H890.1V987.6" stroke="#000" stroke-width="2.5" fill="none" stroke-linecap="round"/>
<text x="767" y="972.9" font-size="30" text-anchor="middle" stroke-width="0.6" stroke-linejoin="miter" letter-spacing="-1.4">****</text>
<path d="M643.9 942.8V930.1H972V942.8" stroke="#000" stroke-width="2.5" fill="none" stroke-linecap="round"/>
<text x="807.9" y="928.1" font-size="30" text-anchor="middle" stroke-width="0.6" stroke-linejoin="miter" letter-spacing="-1.4">***</text>
<text x="538.2" y="1219" font-size="27" text-anchor="middle" fill="#000" stroke-width="0.7" stroke-linejoin="round" transform="rotate(-90 538.2 1219)">S Phase (% Cells)</text>
<path d="M651 1537.3H997" stroke="#000" stroke-width="3.6" fill="none"/>
<text x="823.7" y="1583.5" font-size="34" text-anchor="middle" fill="#000" stroke-width="0.7" stroke-linejoin="round">shRNA</text>
<path d="M1133.4 1418.2V1095.8H1181.8V1418.2" fill="none" stroke="#000000" stroke-width="6.6"/>
<path d="M1215.5 1418.2V1246.2H1263.9V1418.2" fill="none" stroke="#2235ff" stroke-width="6.6"/>
<path d="M1297.8 1418.2V1269.1H1346.2V1418.2" fill="none" stroke="#df2c0b" stroke-width="6.6"/>
<path d="M1380 1418.2V1275.2H1428.4V1418.2" fill="none" stroke="#e2a534" stroke-width="6.6"/>
<path d="M1462.3 1418.2V1158.8H1510.7V1418.2" fill="none" stroke="#4f8f23" stroke-width="6.6"/>
<path d="M1157.6 1073.9V1112M1143.8 1073.9h27.6M1143.8 1112h27.6" fill="none" stroke="#000000" stroke-width="3.7" stroke-linecap="round"/>
<path d="M1239.7 1220.6V1265.4M1225.9 1220.6h27.6M1225.9 1265.4h27.6" fill="none" stroke="#2235ff" stroke-width="3.7" stroke-linecap="round"/>
<path d="M1322 1246.9V1284.7M1308.2 1246.9h27.6M1308.2 1284.7h27.6" fill="none" stroke="#df2c0b" stroke-width="3.7" stroke-linecap="round"/>
<path d="M1404.2 1251.3V1292.1M1390.4 1251.3h27.6M1390.4 1292.1h27.6" fill="none" stroke="#e2a534" stroke-width="3.7" stroke-linecap="round"/>
<path d="M1486.5 1136.3V1175.1M1472.7 1136.3h27.6M1472.7 1175.1h27.6" fill="none" stroke="#4f8f23" stroke-width="3.7" stroke-linecap="round"/>
<path d="M1103 1029.5V1419.9" stroke="#000" stroke-width="3.4" fill="none"/>
<path d="M1091 1418.2H1542" stroke="#000" stroke-width="3.4" fill="none"/>
<text x="1089" y="1039.2" font-size="25.5" text-anchor="end" fill="#000" stroke-width="0.7" stroke-linejoin="round">15</text>
<text x="1089" y="1169" font-size="25.5" text-anchor="end" fill="#000" stroke-width="0.7" stroke-linejoin="round">10</text>
<text x="1089" y="1298.2" font-size="25.5" text-anchor="end" fill="#000" stroke-width="0.7" stroke-linejoin="round">5</text>
<text x="1089" y="1426.6" font-size="25.5" text-anchor="end" fill="#000" stroke-width="0.7" stroke-linejoin="round">0</text>
<path d="M1103 1030.8h-11.5M1103 1160.6h-11.5M1103 1289.8h-11.5M1103 1418.2h-11.5M1157.6 1418.2v11.5M1239.7 1418.2v11.5M1322 1418.2v11.5M1404.2 1418.2v11.5M1486.5 1418.2v11.5" stroke="#000" stroke-width="3.2" fill="none"/>
<rect x="1141.4" y="1073.6" width="10.8" height="10.8" fill="#000000"/>
<rect x="1163.3" y="1078.6" width="10.8" height="10.8" fill="#000000"/>
<rect x="1152.2" y="1109" width="10.8" height="10.8" fill="#000000"/>
<path d="M1228.4 1224.5L1234.3 1235.3L1222.4 1235.3Z" fill="#2235ff"/>
<path d="M1250.6 1224.5L1256.6 1235.3L1244.7 1235.3Z" fill="#2235ff"/>
<path d="M1239.5 1263.3L1245.4 1274.1L1233.6 1274.1Z" fill="#2235ff"/>
<circle cx="1321.8" cy="1244.2" r="5.9" fill="#df2c0b"/>
<circle cx="1311" cy="1279.6" r="5.9" fill="#df2c0b"/>
<circle cx="1332.9" cy="1275.2" r="5.9" fill="#df2c0b"/>
<path d="M1404.1 1243.3L1410 1249.3L1404.1 1255.2L1398.1 1249.3Z" fill="#e2a534"/>
<path d="M1404.1 1268.6L1410 1274.6L1404.1 1280.5L1398.1 1274.6Z" fill="#e2a534"/>
<path d="M1404.1 1284.8L1410 1290.7L1404.1 1296.7L1398.1 1290.7Z" fill="#e2a534"/>
<path d="M1486.4 1142.5L1492.3 1131.7L1480.4 1131.7Z" fill="#4f8f23"/>
<path d="M1486.4 1156L1492.3 1145.2L1480.4 1145.2Z" fill="#4f8f23"/>
<path d="M1486.4 1183L1492.3 1172.2L1480.4 1172.2Z" fill="#4f8f23"/>
<text x="1162.4" y="1448.7" font-size="27.5" text-anchor="end" fill="#000" stroke-width="0.7" stroke-linejoin="round" transform="rotate(-45 1162.4 1448.7)">Scramble</text>
<text x="1244.5" y="1448.7" font-size="27.5" text-anchor="end" fill="#000" stroke-width="0.7" stroke-linejoin="round" transform="rotate(-45 1244.5 1448.7)">PGRMC2</text>
<text x="1326.8" y="1448.7" font-size="27.5" text-anchor="end" fill="#000" stroke-width="0.7" stroke-linejoin="round" transform="rotate(-45 1326.8 1448.7)">GM3S</text>
<text x="1409" y="1448.7" font-size="27.5" text-anchor="end" fill="#000" stroke-width="0.7" stroke-linejoin="round" transform="rotate(-45 1409 1448.7)">Pkd2</text>
<text x="1491.3" y="1448.7" font-size="27.5" text-anchor="end" fill="#000" stroke-width="0.7" stroke-linejoin="round" transform="rotate(-45 1491.3 1448.7)">miR-17</text>
<path d="M1157.6 1060.8V1048.1H1239.8V1060.8" stroke="#000" stroke-width="2.5" fill="none" stroke-linecap="round"/>
<text x="1198.7" y="1046.1" font-size="30" text-anchor="middle" stroke-width="0.6" stroke-linejoin="miter" letter-spacing="-1.4">****</text>
<path d="M1157.6 1016.6V1003.9H1322.1V1016.6" stroke="#000" stroke-width="2.5" fill="none" stroke-linecap="round"/>
<text x="1239.8" y="1001.9" font-size="30" text-anchor="middle" stroke-width="0.6" stroke-linejoin="miter" letter-spacing="-1.4">****</text>
<path d="M1157.6 972.1V959.4H1404.4V972.1" stroke="#000" stroke-width="2.5" fill="none" stroke-linecap="round"/>
<text x="1281" y="957.4" font-size="30" text-anchor="middle" stroke-width="0.6" stroke-linejoin="miter" letter-spacing="-1.4">****</text>
<path d="M1157.6 927.3V914.6H1486.7V927.3" stroke="#000" stroke-width="2.5" fill="none" stroke-linecap="round"/>
<text x="1322.1" y="912.6" font-size="30" text-anchor="middle" stroke-width="0.6" stroke-linejoin="miter" letter-spacing="-1.4">*</text>
<text x="1051.5" y="1219" font-size="27" text-anchor="middle" fill="#000" stroke-width="0.7" stroke-linejoin="round" transform="rotate(-90 1051.5 1219)">G2/M Phase (% Cells)</text>
<path d="M1164.3 1537.3H1510" stroke="#000" stroke-width="3.6" fill="none"/>
<text x="1336.3" y="1583.5" font-size="34" text-anchor="middle" fill="#000" stroke-width="0.7" stroke-linejoin="round">shRNA</text>
<path d="M954.8 2183.2V2089.3H1003.2V2183.2" fill="none" stroke="#000000" stroke-width="6.6"/>
<path d="M1037.3 2183.2V1938.5H1085.7V2183.2" fill="none" stroke="#2235ff" stroke-width="6.6"/>
<path d="M1119.4 2183.2V1898H1167.8V2183.2" fill="none" stroke="#df2c0b" stroke-width="6.6"/>
<path d="M1201.5 2183.2V1955.2H1249.9V2183.2" fill="none" stroke="#e2a534" stroke-width="6.6"/>
<path d="M979 2062.6V2110.1M965.2 2062.6h27.6M965.2 2110.1h27.6" fill="none" stroke="#000000" stroke-width="3.7" stroke-linecap="round"/>
<path d="M1061.5 1872.1V1998.8M1047.7 1872.1h27.6M1047.7 1998.8h27.6" fill="none" stroke="#2235ff" stroke-width="3.7" stroke-linecap="round"/>
<path d="M1143.6 1846.1V1943.3M1129.8 1846.1h27.6M1129.8 1943.3h27.6" fill="none" stroke="#df2c0b" stroke-width="3.7" stroke-linecap="round"/>
<path d="M1225.7 1921.2V1982.6M1211.9 1921.2h27.6M1211.9 1982.6h27.6" fill="none" stroke="#e2a534" stroke-width="3.7" stroke-linecap="round"/>
<path d="M924.1 1794V2184.9" stroke="#000" stroke-width="3.4" fill="none"/>
<path d="M911 2183.2H1364.2" stroke="#000" stroke-width="3.4" fill="none"/>
<text x="910.1" y="1803.5" font-size="25.5" text-anchor="end" fill="#000" stroke-width="0.7" stroke-linejoin="round">8</text>
<text x="910.1" y="1900.8" font-size="25.5" text-anchor="end" fill="#000" stroke-width="0.7" stroke-linejoin="round">6</text>
<text x="910.1" y="1996.9" font-size="25.5" text-anchor="end" fill="#000" stroke-width="0.7" stroke-linejoin="round">4</text>
<text x="910.1" y="2094.4" font-size="25.5" text-anchor="end" fill="#000" stroke-width="0.7" stroke-linejoin="round">2</text>
<text x="910.1" y="2191.6" font-size="25.5" text-anchor="end" fill="#000" stroke-width="0.7" stroke-linejoin="round">0</text>
<path d="M924.1 1795.1h-11.5M924.1 1892.4h-11.5M924.1 1988.5h-11.5M924.1 2086h-11.5M924.1 2183.2h-11.5M979 2183.2v11.5M1061.5 2183.2v11.5M1143.6 2183.2v11.5M1225.7 2183.2v11.5M1308.2 2183.2v11.5" stroke="#000" stroke-width="3.2" fill="none"/>
<rect x="973.6" y="2061.9" width="10.8" height="10.8" fill="#000000"/>
<rect x="973.6" y="2073.5" width="10.8" height="10.8" fill="#000000"/>
<rect x="973.6" y="2108.6" width="10.8" height="10.8" fill="#000000"/>
<path d="M1061.5 1863.6L1067.4 1874.4L1055.5 1874.4Z" fill="#2235ff"/>
<path d="M1061.5 1939.5L1067.4 1950.3L1055.5 1950.3Z" fill="#2235ff"/>
<path d="M1061.5 1991L1067.4 2001.8L1055.5 2001.8Z" fill="#2235ff"/>
<circle cx="1143.6" cy="1846.1" r="5.9" fill="#df2c0b"/>
<circle cx="1143.6" cy="1895.5" r="5.9" fill="#df2c0b"/>
<circle cx="1143.6" cy="1943.3" r="5.9" fill="#df2c0b"/>
<path d="M1225.7 1910.6L1231.6 1916.5L1225.7 1922.4L1219.7 1916.5Z" fill="#e2a534"/>
<path d="M1214.4 1964.3L1220.3 1970.2L1214.4 1976.1L1208.5 1970.2Z" fill="#e2a534"/>
<path d="M1236.6 1964.3L1242.5 1970.2L1236.6 1976.1L1230.6 1970.2Z" fill="#e2a534"/>
<path d="M1286 2191L1291.9 2180.2L1280.1 2180.2Z" fill="#4f8f23"/>
<path d="M1308.2 2191L1314.1 2180.2L1302.2 2180.2Z" fill="#4f8f23"/>
<path d="M1330 2191L1335.9 2180.2L1324 2180.2Z" fill="#4f8f23"/>
<text x="984.8" y="2214.9" font-size="27.5" text-anchor="end" fill="#000" stroke-width="0.7" stroke-linejoin="round" transform="rotate(-45 984.8 2214.9)">Scramble</text>
<text x="1067.3" y="2214.9" font-size="27.5" text-anchor="end" fill="#000" stroke-width="0.7" stroke-linejoin="round" transform="rotate(-45 1067.3 2214.9)">PGRMC2</text>
<text x="1149.4" y="2214.9" font-size="27.5" text-anchor="end" fill="#000" stroke-width="0.7" stroke-linejoin="round" transform="rotate(-45 1149.4 2214.9)">GM3S</text>
<text x="1231.5" y="2214.9" font-size="27.5" text-anchor="end" fill="#000" stroke-width="0.7" stroke-linejoin="round" transform="rotate(-45 1231.5 2214.9)">Pkd2</text>
<text x="1314" y="2214.9" font-size="27.5" text-anchor="end" fill="#000" stroke-width="0.7" stroke-linejoin="round" transform="rotate(-45 1314 2214.9)">miR-17</text>
<path d="M979 1833.2V1820.5H1061.5V1833.2" stroke="#000" stroke-width="2.5" fill="none" stroke-linecap="round"/>
<text x="1020.2" y="1818.5" font-size="30" text-anchor="middle" stroke-width="0.6" stroke-linejoin="miter" letter-spacing="-1.4">**</text>
<path d="M979 1788.8V1776.1H1143.6V1788.8" stroke="#000" stroke-width="2.5" fill="none" stroke-linecap="round"/>
<text x="1061.3" y="1774.1" font-size="30" text-anchor="middle" stroke-width="0.6" stroke-linejoin="miter" letter-spacing="-1.4">***</text>
<path d="M979 1744.5V1731.8H1226.1V1744.5" stroke="#000" stroke-width="2.5" fill="none" stroke-linecap="round"/>
<text x="1102.5" y="1729.8" font-size="30" text-anchor="middle" stroke-width="0.6" stroke-linejoin="miter" letter-spacing="-1.4">**</text>
<path d="M979 1699.7V1687H1308.2V1699.7" stroke="#000" stroke-width="2.5" fill="none" stroke-linecap="round"/>
<text x="1143.6" y="1685" font-size="30" text-anchor="middle" stroke-width="0.6" stroke-linejoin="miter" letter-spacing="-1.4">*</text>
<text x="852.5" y="1980.5" font-size="27" text-anchor="middle" stroke-width="0.7" stroke-linejoin="round" transform="rotate(-90 852.5 1980.5)">Growth rate (x10<tspan font-size="18" dy="-11.5">5</tspan><tspan dy="11.5">/ Day)</tspan></text>
<path d="M988 2303H1333" stroke="#000" stroke-width="3.6" fill="none"/>
<text x="1160" y="2349.5" font-size="34" text-anchor="middle" fill="#000" stroke-width="0.7" stroke-linejoin="round">shRNA</text>
<path d="M210 2139.6H691M210 2043.2H691M210 1946.8H691M210 1850.4H691M210 1754H691M210 1657.6H691M290 1656.6V2236M370 1656.6V2236M450 1656.6V2236M530 1656.6V2236M610 1656.6V2236M690 1656.6V2236" stroke="#d6d6d6" stroke-width="2.6" fill="none"/>
<path d="M210 1656.6V2239.5M203 2236H693.4" stroke="#000" stroke-width="7" fill="none"/>
<text x="186" y="2242" font-size="27.3" text-anchor="end" fill="#000" stroke-width="0.7" stroke-linejoin="round">0</text>
<text x="186" y="2145.6" font-size="27.3" text-anchor="end" fill="#000" stroke-width="0.7" stroke-linejoin="round">5</text>
<text x="186" y="2049.2" font-size="27.3" text-anchor="end" fill="#000" stroke-width="0.7" stroke-linejoin="round">10</text>
<text x="186" y="1952.8" font-size="27.3" text-anchor="end" fill="#000" stroke-width="0.7" stroke-linejoin="round">15</text>
<text x="186" y="1856.4" font-size="27.3" text-anchor="end" fill="#000" stroke-width="0.7" stroke-linejoin="round">20</text>
<text x="186" y="1760" font-size="27.3" text-anchor="end" fill="#000" stroke-width="0.7" stroke-linejoin="round">25</text>
<text x="186" y="1663.6" font-size="27.3" text-anchor="end" fill="#000" stroke-width="0.7" stroke-linejoin="round">30</text>
<text x="210" y="2275.5" font-size="27.3" text-anchor="middle" fill="#000" stroke-width="0.7" stroke-linejoin="round">0</text>
<text x="290" y="2275.5" font-size="27.3" text-anchor="middle" fill="#000" stroke-width="0.7" stroke-linejoin="round">2</text>
<text x="370" y="2275.5" font-size="27.3" text-anchor="middle" fill="#000" stroke-width="0.7" stroke-linejoin="round">4</text>
<text x="450" y="2275.5" font-size="27.3" text-anchor="middle" fill="#000" stroke-width="0.7" stroke-linejoin="round">6</text>
<text x="530" y="2275.5" font-size="27.3" text-anchor="middle" fill="#000" stroke-width="0.7" stroke-linejoin="round">8</text>
<text x="610" y="2275.5" font-size="27.3" text-anchor="middle" fill="#000" stroke-width="0.7" stroke-linejoin="round">10</text>
<text x="690" y="2275.5" font-size="27.3" text-anchor="middle" fill="#000" stroke-width="0.7" stroke-linejoin="round">12</text>
<path d="M210 2236h-8.5M210 2139.6h-8.5M210 2043.2h-8.5M210 1946.8h-8.5M210 1850.4h-8.5M210 1754h-8.5M210 1657.6h-8.5M210 2236v9M290 2236v9M370 2236v9M450 2236v9M530 2236v9M610 2236v9M690 2236v9" stroke="#000" stroke-width="6.6" fill="none"/>
<path d="M249.5 2230.4C250.5 2230.3 253.5 2230.2 255.5 2230C257.5 2229.9 259.5 2229.8 261.5 2229.7C263.5 2229.6 265.5 2229.4 267.5 2229.3C269.5 2229.2 271.5 2229.1 273.5 2229C275.5 2228.9 277.5 2228.7 279.5 2228.6C281.5 2228.5 283.5 2228.4 285.5 2228.3C287.5 2228.1 289.5 2228 291.5 2227.9C293.5 2227.7 295.5 2227.5 297.5 2227.4C299.5 2227.2 301.5 2227.1 303.5 2226.9C305.5 2226.8 307.5 2226.6 309.5 2226.4C311.5 2226.3 313.5 2226.1 315.5 2226C317.5 2225.8 319.5 2225.6 321.5 2225.5C323.5 2225.3 325.5 2225.2 327.5 2225C329.5 2224.9 331.5 2224.7 333.5 2224.5C335.5 2224.4 337.5 2224.2 339.5 2224.1C341.5 2223.9 343.5 2223.8 345.5 2223.6C347.5 2223.4 349.5 2223.2 351.5 2223C353.5 2222.8 355.5 2222.6 357.5 2222.3C359.5 2222.1 361.5 2221.9 363.5 2221.6C365.5 2221.4 367.5 2221.2 369.5 2221C371.5 2220.7 373.5 2220.5 375.5 2220.2C377.5 2219.9 379.5 2219.6 381.5 2219.1C383.5 2218.7 385.5 2218.1 387.5 2217.4C389.5 2216.8 391.5 2216 393.5 2215.3C395.5 2214.6 397.5 2213.8 399.5 2213.1C401.5 2212.5 403.5 2211.8 405.5 2211.4C407.5 2211 409.5 2210.8 411.5 2210.8C413.5 2210.8 415.5 2211 417.5 2211.3C419.5 2211.6 421.6 2212.1 423.6 2212.6C425.6 2213.1 427.6 2213.8 429.6 2214.5C431.6 2215.2 433.6 2215.9 435.6 2216.6C437.6 2217.3 439.6 2218.1 441.6 2218.8C443.6 2219.6 445.6 2220.4 447.6 2221C449.6 2221.7 451.6 2222.3 453.6 2222.9C455.6 2223.5 457.6 2224.1 459.6 2224.6C461.6 2225.2 463.6 2225.7 465.6 2226.2C467.6 2226.8 469.6 2227.3 471.6 2227.9C473.6 2228.5 475.6 2229.1 477.6 2229.7C479.6 2230.3 481.6 2231 483.6 2231.7C485.6 2232.4 488.6 2233.5 489.6 2233.8" stroke="#427a1e" stroke-width="4.6" fill="none" stroke-linejoin="round" stroke-linecap="round"/>
<circle cx="249.5" cy="2227.7" r="8.6" fill="#64b05a"/>
<circle cx="289.1" cy="2227.7" r="8.6" fill="#64b05a"/>
<circle cx="328.4" cy="2224.9" r="8.6" fill="#64b05a"/>
<circle cx="369.6" cy="2221.1" r="8.6" fill="#64b05a"/>
<circle cx="409.1" cy="2210.2" r="8.6" fill="#64b05a"/>
<circle cx="448.7" cy="2221.6" r="8.6" fill="#64b05a"/>
<circle cx="489.6" cy="2233.8" r="8.6" fill="#64b05a"/>
<path d="M249.5 2231.2C250.5 2231.1 253.5 2230.8 255.5 2230.6C257.5 2230.4 259.5 2230.2 261.5 2230C263.6 2229.8 265.6 2229.6 267.6 2229.4C269.6 2229.2 271.6 2229 273.6 2228.8C275.6 2228.6 277.6 2228.4 279.7 2228.2C281.7 2228 283.7 2227.8 285.7 2227.5C287.7 2227.2 289.7 2226.9 291.7 2226.6C293.8 2226.3 295.8 2225.9 297.8 2225.5C299.8 2225.1 301.8 2224.6 303.8 2224.2C305.8 2223.8 307.9 2223.4 309.9 2223C311.9 2222.6 313.9 2222.2 315.9 2221.9C317.9 2221.5 319.9 2221.1 322 2220.7C324 2220.3 326 2219.9 328 2219.6C330 2219.2 332 2218.8 334 2218.4C336.1 2218 338.1 2217.6 340.1 2217.2C342.1 2216.8 344.1 2216.4 346.1 2216C348.1 2215.7 350.1 2215.3 352.2 2214.9C354.2 2214.5 356.2 2214.2 358.2 2213.8C360.2 2213.4 362.2 2213.1 364.2 2212.7C366.3 2212.4 368.3 2212 370.3 2211.7C372.3 2211.4 374.3 2211.1 376.3 2210.7C378.3 2210.4 380.4 2210.1 382.4 2209.9C384.4 2209.6 386.4 2209.3 388.4 2209C390.4 2208.7 392.4 2208.4 394.5 2208.1C396.5 2207.8 398.5 2207.5 400.5 2207.2C402.5 2206.9 404.5 2206.6 406.5 2206.3C408.6 2205.9 410.6 2205.6 412.6 2205.3C414.6 2205 416.6 2204.6 418.6 2204.2C420.6 2203.8 422.6 2203.4 424.7 2202.9C426.7 2202.4 428.7 2201.8 430.7 2201C432.7 2200.3 434.7 2199.5 436.7 2198.3C438.8 2197.1 440.8 2195.7 442.8 2193.9C444.8 2192.1 446.8 2190 448.8 2187.5C450.8 2185 452.9 2182.1 454.9 2179C456.9 2176 458.9 2172.6 460.9 2169.1C462.9 2165.7 464.9 2162 467 2158.3C469 2154.6 471 2150.9 473 2147.1C475 2143.4 477 2139.7 479 2136C481.1 2132.2 483.1 2128.5 485.1 2124.8C487.1 2121 489.1 2117.3 491.1 2113.5C493.1 2109.7 495.1 2105.8 497.2 2102C499.2 2098.2 501.2 2094.4 503.2 2090.6C505.2 2086.8 507.2 2082.9 509.2 2079.2C511.3 2075.5 513.3 2071.9 515.3 2068.3C517.3 2064.8 519.3 2061.5 521.3 2057.9C523.3 2054.2 525.4 2050.6 527.4 2046.5C529.4 2042.5 531.4 2038 533.4 2033.4C535.4 2028.9 537.4 2024 539.5 2019.2C541.5 2014.3 543.5 2009.3 545.5 2004.4C547.5 1999.4 549.5 1994.4 551.5 1989.2C553.5 1984.1 555.6 1979 557.6 1973.7C559.6 1968.4 561.6 1962.9 563.6 1957.4C565.6 1951.8 567.6 1946 569.7 1940.2C571.7 1934.5 573.7 1928.6 575.7 1922.7C577.7 1916.8 579.7 1910.9 581.7 1904.9C583.8 1898.8 585.8 1892.6 587.8 1886.5C589.8 1880.3 591.8 1874 593.8 1868.1C595.8 1862.3 597.9 1856.4 599.9 1851.4C601.9 1846.3 603.9 1841.7 605.9 1837.8C607.9 1833.9 609.9 1830.5 612 1827.8C614 1825 616 1822.8 618 1821C620 1819.3 622 1818.1 624 1817C626 1816 628.1 1815.3 630.1 1814.7C632.1 1814.1 634.1 1813.7 636.1 1813.3C638.1 1812.8 640.1 1812.5 642.2 1812.2C644.2 1811.8 646.7 1811.3 648.2 1811C649.7 1810.7 650.7 1810.5 651.2 1810.3" stroke="#000000" stroke-width="5.3" fill="none" stroke-linejoin="round" stroke-linecap="round"/>
<path d="M249.5 2227.3C250.5 2227.3 253.5 2227.4 255.5 2227.5C257.5 2227.6 259.5 2227.7 261.5 2227.7C263.5 2227.8 265.5 2227.8 267.5 2227.8C269.5 2227.8 271.5 2227.7 273.5 2227.6C275.5 2227.5 277.5 2227.4 279.5 2227.2C281.5 2227.1 283.6 2226.9 285.6 2226.7C287.6 2226.5 289.6 2226.2 291.6 2226C293.6 2225.7 295.6 2225.4 297.6 2225.1C299.6 2224.8 301.6 2224.4 303.6 2224.1C305.6 2223.8 307.6 2223.5 309.6 2223.3C311.6 2223 313.6 2222.7 315.6 2222.5C317.6 2222.3 319.7 2222 321.7 2221.9C323.7 2221.7 325.7 2221.5 327.7 2221.4C329.7 2221.4 331.7 2221.3 333.7 2221.3C335.7 2221.4 337.7 2221.4 339.7 2221.5C341.7 2221.5 343.7 2221.6 345.7 2221.5C347.7 2221.5 349.7 2221.4 351.7 2221.3C353.8 2221.1 355.8 2220.9 357.8 2220.5C359.8 2220.1 361.8 2219.6 363.8 2218.9C365.8 2218.2 367.8 2217.3 369.8 2216.3C371.8 2215.3 373.8 2214.1 375.8 2212.8C377.8 2211.4 379.8 2209.8 381.8 2208.1C383.8 2206.4 385.8 2204.4 387.8 2202.5C389.9 2200.6 391.9 2198.5 393.9 2196.5C395.9 2194.5 397.9 2192.5 399.9 2190.4C401.9 2188.2 403.9 2186 405.9 2183.8C407.9 2181.6 409.9 2179.2 411.9 2176.9C413.9 2174.6 415.9 2172.3 417.9 2170C419.9 2167.8 421.9 2165.5 423.9 2163.3C426 2161 428 2158.8 430 2156.6C432 2154.3 434 2152 436 2149.7C438 2147.3 440 2144.9 442 2142.4C444 2139.9 446 2137.4 448 2134.8C450 2132.1 452 2129.4 454 2126.5C456 2123.7 458 2120.8 460.1 2117.8C462.1 2114.8 464.1 2111.8 466.1 2108.6C468.1 2105.5 470.1 2102.2 472.1 2098.9C474.1 2095.5 476.1 2091.9 478.1 2088.3C480.1 2084.8 482.1 2081.1 484.1 2077.3C486.1 2073.5 488.1 2069.8 490.1 2065.7C492.1 2061.7 494.1 2057.5 496.2 2052.8C498.2 2048 500.2 2042.9 502.2 2037.4C504.2 2031.8 506.2 2025.7 508.2 2019.5C510.2 2013.2 512.2 2006.5 514.2 1999.8C516.2 1993.1 518.2 1986.1 520.2 1979.2C522.2 1972.2 524.2 1965.2 526.2 1958.2C528.2 1951.1 530.3 1944.2 532.3 1936.8C534.3 1929.5 536.3 1922.1 538.3 1914.1C540.3 1906.2 542.3 1897.5 544.3 1889.1C546.3 1880.7 548.3 1871.7 550.3 1863.7C552.3 1855.7 554.3 1848.1 556.3 1841.1C558.3 1834 560.3 1827.5 562.3 1821.6C564.3 1815.6 566.4 1810.2 568.4 1805.5C570.4 1800.9 572.4 1797 574.4 1793.5C576.4 1790.1 578.4 1787.4 580.4 1784.7C582.4 1782.1 584.4 1779.9 586.4 1777.9C588.4 1775.8 590.4 1773.9 592.4 1772.2C594.4 1770.4 596.4 1768.9 598.4 1767.4C600.4 1766 602.5 1764.6 604.5 1763.4C606.5 1762.2 608.5 1761.2 610.5 1760.2C612.5 1759.3 614.5 1758.5 616.5 1757.8C618.5 1757.1 620.5 1756.6 622.5 1756.1C624.5 1755.6 626.5 1755.2 628.5 1754.8C630.5 1754.4 632.5 1754.2 634.5 1753.9C636.6 1753.7 638.6 1753.5 640.6 1753.4C642.6 1753.3 645.1 1753.2 646.6 1753.1C648.1 1753.1 649.1 1753.1 649.6 1753.1" stroke="#2235ff" stroke-width="5.3" fill="none" stroke-linejoin="round" stroke-linecap="round"/>
<path d="M249.5 2214.8C250.5 2214.9 253.5 2215 255.5 2215.1C257.5 2215.1 259.5 2215.2 261.5 2215.3C263.5 2215.3 265.5 2215.4 267.5 2215.4C269.5 2215.4 271.5 2215.4 273.5 2215.4C275.5 2215.3 277.5 2215.3 279.5 2215.2C281.5 2215 283.6 2214.9 285.6 2214.7C287.6 2214.4 289.6 2214.1 291.6 2213.6C293.6 2213.2 295.6 2212.6 297.6 2212C299.6 2211.4 301.6 2210.7 303.6 2210C305.6 2209.4 307.6 2208.7 309.6 2208.1C311.6 2207.5 313.6 2206.9 315.6 2206.2C317.6 2205.6 319.7 2205 321.7 2204.4C323.7 2203.8 325.7 2203.2 327.7 2202.6C329.7 2202.1 331.7 2201.5 333.7 2200.9C335.7 2200.4 337.7 2199.8 339.7 2199.3C341.7 2198.7 343.7 2198.1 345.7 2197.6C347.7 2197 349.7 2196.4 351.7 2195.7C353.8 2195.1 355.8 2194.5 357.8 2193.8C359.8 2193.1 361.8 2192.5 363.8 2191.7C365.8 2191 367.8 2190.2 369.8 2189.4C371.8 2188.5 373.8 2187.5 375.8 2186.5C377.8 2185.4 379.8 2184.3 381.8 2182.9C383.8 2181.6 385.8 2180.1 387.8 2178.4C389.9 2176.7 391.9 2174.7 393.9 2172.7C395.9 2170.8 397.9 2168.6 399.9 2166.6C401.9 2164.5 403.9 2162.4 405.9 2160.2C407.9 2158.1 409.9 2155.9 411.9 2153.7C413.9 2151.4 415.9 2149.2 417.9 2146.8C419.9 2144.5 421.9 2142.1 423.9 2139.6C426 2137.1 428 2134.6 430 2132C432 2129.4 434 2126.7 436 2124C438 2121.3 440 2118.5 442 2115.7C444 2112.9 446 2110.1 448 2107.2C450 2104.4 452 2101.5 454 2098.6C456 2095.6 458 2092.7 460.1 2089.7C462.1 2086.7 464.1 2083.7 466.1 2080.6C468.1 2077.6 470.1 2074.5 472.1 2071.3C474.1 2068.2 476.1 2065.1 478.1 2061.8C480.1 2058.5 482.1 2055.3 484.1 2051.7C486.1 2048.1 488.1 2044.3 490.1 2040.2C492.1 2036.1 494.1 2031.5 496.2 2026.9C498.2 2022.3 500.2 2017.4 502.2 2012.5C504.2 2007.7 506.2 2002.7 508.2 1997.7C510.2 1992.8 512.2 1987.8 514.2 1982.7C516.2 1977.7 518.2 1972.6 520.2 1967.5C522.2 1962.3 524.2 1957.1 526.2 1951.7C528.2 1946.4 530.3 1940.9 532.3 1935.5C534.3 1930 536.3 1924.5 538.3 1918.9C540.3 1913.4 542.3 1907.8 544.3 1902.2C546.3 1896.5 548.3 1890.8 550.3 1884.9C552.3 1878.9 554.3 1872.7 556.3 1866.7C558.3 1860.6 560.3 1854.3 562.3 1848.4C564.3 1842.5 566.4 1836.7 568.4 1831.3C570.4 1825.9 572.4 1820.8 574.4 1816C576.4 1811.1 578.4 1806.6 580.4 1802.2C582.4 1797.8 584.4 1793.6 586.4 1789.6C588.4 1785.6 590.4 1781.7 592.4 1778.2C594.4 1774.6 596.4 1771.3 598.4 1768.2C600.4 1765.1 602.5 1762.3 604.5 1759.7C606.5 1757.2 608.5 1754.8 610.5 1752.7C612.5 1750.6 614.5 1748.7 616.5 1747.1C618.5 1745.5 620.5 1744.2 622.5 1743C624.5 1741.8 626.5 1741 628.5 1740.1C630.5 1739.3 632.5 1738.7 634.5 1738.1C636.6 1737.5 638.6 1737 640.6 1736.4C642.6 1735.8 645.1 1735.1 646.6 1734.7C648.1 1734.2 649.1 1733.8 649.6 1733.6" stroke="#df2c0b" stroke-width="5.3" fill="none" stroke-linejoin="round" stroke-linecap="round"/>
<path d="M249.5 2222.6C250.5 2222.7 253.5 2222.9 255.5 2223.1C257.5 2223.2 259.5 2223.4 261.5 2223.6C263.5 2223.7 265.5 2223.8 267.5 2223.9C269.5 2224 271.5 2224.1 273.5 2224.1C275.5 2224.1 277.5 2224.2 279.5 2224.1C281.5 2224.1 283.6 2224.1 285.6 2224C287.6 2223.8 289.6 2223.6 291.6 2223.4C293.6 2223.1 295.6 2222.7 297.6 2222.4C299.6 2222 301.6 2221.5 303.6 2221.1C305.6 2220.7 307.6 2220.2 309.6 2219.7C311.6 2219.2 313.6 2218.7 315.6 2218.2C317.6 2217.6 319.7 2217.1 321.7 2216.5C323.7 2215.9 325.7 2215.3 327.7 2214.5C329.7 2213.8 331.7 2212.9 333.7 2212C335.7 2211.1 337.7 2210 339.7 2209.1C341.7 2208.1 343.7 2207 345.7 2206C347.7 2205 349.7 2204 351.7 2202.9C353.8 2201.9 355.8 2200.9 357.8 2199.9C359.8 2198.9 361.8 2197.8 363.8 2196.9C365.8 2195.9 367.8 2194.9 369.8 2194C371.8 2193.1 373.8 2192.3 375.8 2191.5C377.8 2190.6 379.8 2189.9 381.8 2189.1C383.8 2188.3 385.8 2187.5 387.8 2186.7C389.9 2185.9 391.9 2185.1 393.9 2184.3C395.9 2183.5 397.9 2182.7 399.9 2181.8C401.9 2180.9 403.9 2180 405.9 2178.9C407.9 2177.8 409.9 2176.7 411.9 2175.3C413.9 2174 415.9 2172.6 417.9 2171C419.9 2169.5 421.9 2167.9 423.9 2166.2C426 2164.6 428 2162.8 430 2160.9C432 2159.1 434 2157.1 436 2155C438 2152.9 440 2150.7 442 2148.3C444 2145.8 446 2143.2 448 2140.4C450 2137.5 452 2134.4 454 2131.1C456 2127.8 458 2124.3 460.1 2120.6C462.1 2117 464.1 2113.1 466.1 2109.1C468.1 2105.2 470.1 2101.1 472.1 2097C474.1 2092.9 476.1 2088.6 478.1 2084.4C480.1 2080.1 482.1 2075.8 484.1 2071.5C486.1 2067.3 488.1 2062.9 490.1 2058.9C492.1 2054.9 494.1 2051 496.2 2047.5C498.2 2044 500.2 2041 502.2 2037.8C504.2 2034.6 506.2 2031.6 508.2 2028C510.2 2024.5 512.2 2020.6 514.2 2016.5C516.2 2012.4 518.2 2008 520.2 2003.6C522.2 1999.2 524.2 1994.6 526.2 1990.1C528.2 1985.6 530.3 1981.1 532.3 1976.6C534.3 1972.1 536.3 1967.5 538.3 1962.9C540.3 1958.3 542.3 1953.7 544.3 1949.1C546.3 1944.4 548.3 1939.7 550.3 1935.1C552.3 1930.4 554.3 1925.7 556.3 1921.1C558.3 1916.5 560.3 1912 562.3 1907.4C564.3 1902.8 566.4 1898.3 568.4 1893.5C570.4 1888.7 572.4 1883.7 574.4 1878.6C576.4 1873.5 578.4 1868.1 580.4 1862.7C582.4 1857.4 584.4 1851.8 586.4 1846.4C588.4 1841 590.4 1835.5 592.4 1830.3C594.4 1825.1 596.4 1819.9 598.4 1815.1C600.4 1810.3 602.5 1805.7 604.5 1801.6C606.5 1797.5 608.5 1793.7 610.5 1790.4C612.5 1787 614.5 1784.2 616.5 1781.5C618.5 1778.9 620.5 1776.8 622.5 1774.7C624.5 1772.7 626.5 1771 628.5 1769.3C630.5 1767.6 632.5 1766.2 634.5 1764.7C636.6 1763.3 638.6 1761.9 640.6 1760.5C642.6 1759.2 645.1 1757.5 646.6 1756.5C648.1 1755.5 649.1 1754.8 649.6 1754.5" stroke="#e4954e" stroke-width="5.3" fill="none" stroke-linejoin="round" stroke-linecap="round"/>
<path d="M409.9 2180.3V2206.2M402.2 2180.3h15.4M402.2 2206.2h15.4M449.9 2174.4V2208.9M442.2 2174.4h15.4M442.2 2208.9h15.4M489.9 2081.9V2164.4M482.2 2081.9h15.4M482.2 2164.4h15.4M530 1984V2047.5M522.3 1984h15.4M522.3 2047.5h15.4M570 1854.2V1896.8M562.3 1854.2h15.4M562.3 1896.8h15.4M610.1 1850.7V1901.6M602.4 1850.7h15.4M602.4 1901.6h15.4M650.1 1743.8V1819.9M642.4 1743.8h15.4M642.4 1819.9h15.4" stroke="#595959" stroke-width="2.3" fill="none"/>
<path d="M409.9 2147.6V2178.5M402.2 2147.6h15.4M402.2 2178.5h15.4M449.9 2098.1V2178M442.2 2098.1h15.4M442.2 2178h15.4M489.9 2027.3V2104.5M482.2 2027.3h15.4M482.2 2104.5h15.4M530 1948.1V2034.1M522.3 1948.1h15.4M522.3 2034.1h15.4M570 1761.8V1838.5M562.3 1761.8h15.4M562.3 1838.5h15.4M610.1 1720.9V1787.4M602.4 1720.9h15.4M602.4 1787.4h15.4M650.1 1779V1797.6M642.4 1779h15.4M642.4 1797.6h15.4" stroke="#2235ff" stroke-width="2.3" fill="none"/>
<path d="M289.7 2202.4V2222.6M282 2202.4h15.4M282 2222.6h15.4M329.8 2191.9V2208.6M322.1 2191.9h15.4M322.1 2208.6h15.4M369.8 2176.4V2197.2M362.1 2176.4h15.4M362.1 2197.2h15.4M409.9 2118.1V2153.5M402.2 2118.1h15.4M402.2 2153.5h15.4M449.9 2087.2V2129.9M442.2 2087.2h15.4M442.2 2129.9h15.4M489.9 1988V2047.5M482.2 1988h15.4M482.2 2047.5h15.4M530 1938.1V2008M522.3 1938.1h15.4M522.3 2008h15.4M570 1783.6V1868M562.3 1783.6h15.4M562.3 1868h15.4M610.1 1766.3V1779.9M602.4 1766.3h15.4M602.4 1779.9h15.4M650.1 1722.3V1740.4M642.4 1722.3h15.4M642.4 1740.4h15.4" stroke="#df2c0b" stroke-width="2.3" fill="none"/>
<path d="M409.9 2129V2202.5M402.2 2129h15.4M402.2 2202.5h15.4M449.9 2044.1V2164.4M442.2 2044.1h15.4M442.2 2164.4h15.4M489.9 1999.8V2078.8M482.2 1999.8h15.4M482.2 2078.8h15.4M530 1969V2042.5M522.3 1969h15.4M522.3 2042.5h15.4M570 1884.5V1927.2M562.3 1884.5h15.4M562.3 1927.2h15.4M610.1 1814.4V1847.6M602.4 1814.4h15.4M602.4 1847.6h15.4M650.1 1747.2V1777.2M642.4 1747.2h15.4M642.4 1777.2h15.4" stroke="#e4954e" stroke-width="2.3" fill="none"/>
<circle cx="249.5" cy="2228.4" r="8.6" fill="#000000"/>
<circle cx="289.1" cy="2224.3" r="8.6" fill="#000000"/>
<circle cx="328.4" cy="2220.3" r="8.6" fill="#000000"/>
<circle cx="369.6" cy="2210.9" r="8.6" fill="#000000"/>
<circle cx="409.1" cy="2196.2" r="8.6" fill="#000000"/>
<circle cx="448.7" cy="2190.7" r="8.6" fill="#000000"/>
<circle cx="489.6" cy="2122.2" r="8.6" fill="#000000"/>
<circle cx="529.3" cy="2014.4" r="8.6" fill="#000000"/>
<circle cx="568.6" cy="1873.4" r="8.6" fill="#000000"/>
<circle cx="609.9" cy="1875.7" r="8.6" fill="#000000"/>
<circle cx="649.6" cy="1782.6" r="8.6" fill="#000000"/>
<circle cx="249.5" cy="2223.4" r="8.6" fill="#2235ff"/>
<circle cx="289.1" cy="2224" r="8.6" fill="#2235ff"/>
<circle cx="328.4" cy="2210.2" r="8.6" fill="#2235ff"/>
<circle cx="369.6" cy="2207.8" r="8.6" fill="#2235ff"/>
<circle cx="409.1" cy="2159.8" r="8.6" fill="#2235ff"/>
<circle cx="448.7" cy="2138.1" r="8.6" fill="#2235ff"/>
<circle cx="489.6" cy="2065.9" r="8.6" fill="#2235ff"/>
<circle cx="529.3" cy="1990.3" r="8.6" fill="#2235ff"/>
<circle cx="568.6" cy="1798.5" r="8.6" fill="#2235ff"/>
<circle cx="609.9" cy="1752.2" r="8.6" fill="#2235ff"/>
<circle cx="649.6" cy="1788.1" r="8.6" fill="#2235ff"/>
<circle cx="249.5" cy="2212.5" r="8.6" fill="#df2c0b"/>
<circle cx="289.1" cy="2212.5" r="8.6" fill="#df2c0b"/>
<circle cx="328.4" cy="2200" r="8.6" fill="#df2c0b"/>
<circle cx="369.6" cy="2186.8" r="8.6" fill="#df2c0b"/>
<circle cx="409.1" cy="2134.4" r="8.6" fill="#df2c0b"/>
<circle cx="448.7" cy="2106.7" r="8.6" fill="#df2c0b"/>
<circle cx="489.5" cy="2016.2" r="8.6" fill="#df2c0b"/>
<circle cx="529.3" cy="1973.1" r="8.6" fill="#df2c0b"/>
<circle cx="568.6" cy="1825.8" r="8.6" fill="#df2c0b"/>
<circle cx="609.9" cy="1773.1" r="8.6" fill="#df2c0b"/>
<circle cx="649.6" cy="1733.4" r="8.6" fill="#df2c0b"/>
<circle cx="249.5" cy="2221.8" r="8.6" fill="#e4954e"/>
<circle cx="289.1" cy="2223.4" r="8.6" fill="#e4954e"/>
<circle cx="328.4" cy="2213.3" r="8.6" fill="#e4954e"/>
<circle cx="369.6" cy="2194.6" r="8.6" fill="#e4954e"/>
<circle cx="409.1" cy="2165.3" r="8.6" fill="#e4954e"/>
<circle cx="448.7" cy="2101.7" r="8.6" fill="#e4954e"/>
<circle cx="489.5" cy="2036.6" r="8.6" fill="#e4954e"/>
<circle cx="529.3" cy="2005.7" r="8.6" fill="#e4954e"/>
<circle cx="568.6" cy="1905.2" r="8.6" fill="#e4954e"/>
<circle cx="609.9" cy="1829.4" r="8.6" fill="#e4954e"/>
<circle cx="649.6" cy="1753.6" r="8.6" fill="#e4954e"/>
<text x="447.5" y="2317" font-size="34" text-anchor="middle" fill="#000" stroke-width="0.7" stroke-linejoin="round">Time (Days)</text>
<text x="140.2" y="1945.7" font-size="34.4" text-anchor="middle" stroke-width="0.7" stroke-linejoin="round" transform="rotate(-90 140.2 1945.7)">Number of Cells (x10<tspan font-size="22" dy="-12">5</tspan><tspan dy="12">)</tspan></text>
</g>
</svg>
</body></html>
